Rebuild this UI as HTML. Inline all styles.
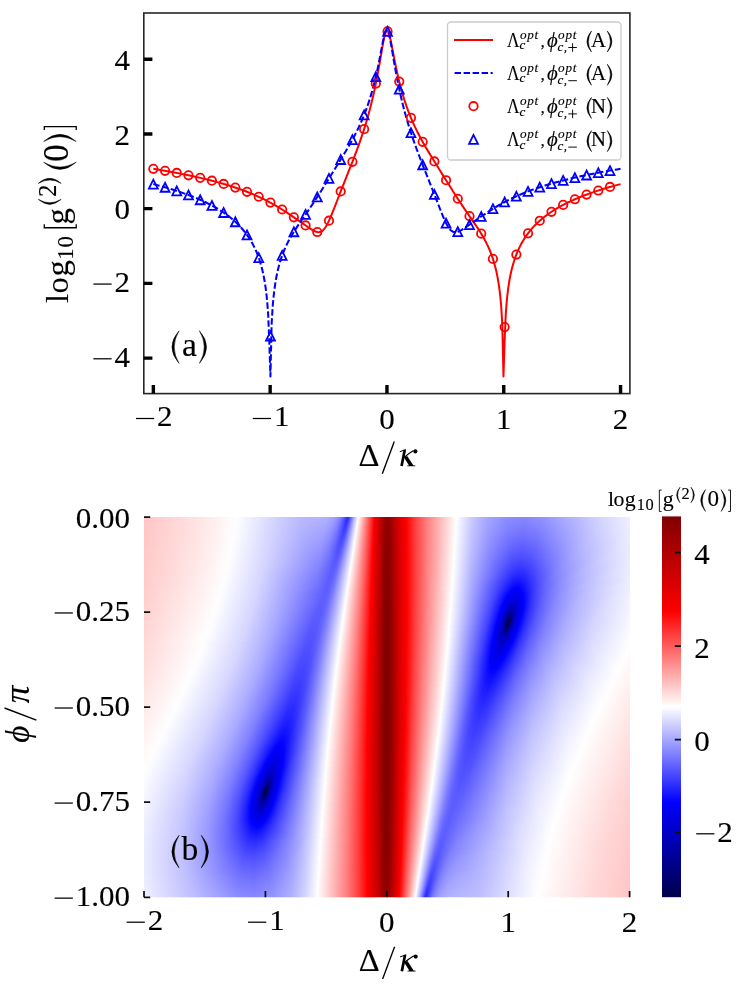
<!DOCTYPE html>
<html><head><meta charset="utf-8"><title>figure</title>
<style>
html,body{margin:0;padding:0;background:#fff}
#c{position:relative;width:747px;height:990px;overflow:hidden;background:#fff;font-family:"Liberation Serif",serif}
#hm{position:absolute;left:144px;top:517px;width:486px;height:381px;overflow:hidden}
#hm i{display:block;height:1px;width:486px}
svg{position:absolute;left:0;top:0;will-change:transform}
</style></head><body><div id="c"><div id="hm"><i style="background:linear-gradient(90deg,#ffc5c5 0px,#ffe6e6 60px,#fefeff 93px,#cbcbff 138.5px,#b8b8ff 159.5px,#b1b1ff 182px,#a2a2ff 189.5px,#8c8cff 194.5px,#7070ff 198px,#4949ff 201px,#2d2dff 203px,#2b2bff 204px,#3737ff 205px,#a5a5ff 209.5px,#eaeaff 213px,#fbfbff 214px,#fffafa 214.5px,#ff1d1d 228.5px,#ff0303 230px,#e00 232px,#9a0000 240.5px,#8f0000 243px,#960000 245.5px,#df0000 256px,#ff0101 262.5px,#ff3b3b 270.5px,#ff7c7c 282.5px,#fffcfc 311.5px,#fefeff 312.5px,#cacaff 327.5px,#a8a8ff 342.5px,#8e8eff 362.5px,#8787ff 380px,#9292ff 399px,#d7d7ff 459px,#f0f0ff 486px)"></i><i style="background:linear-gradient(90deg,#ffc5c5 0px,#ffe6e6 60px,#fefeff 92.5px,#cdcdff 136.5px,#b8b8ff 158.5px,#b0b0ff 182px,#a1a1ff 189.5px,#8a8aff 194.5px,#6d6dff 198px,#3e3eff 201.5px,#2d2dff 203px,#2e2eff 204px,#3d3dff 205px,#a9a9ff 209.5px,#f5f5ff 213.5px,#fefeff 214px,#ff2424 228px,#ff0202 230px,#b00 237px,#960000 241px,#8f0000 243.5px,#900 246px,#dc0000 255.5px,#ff0101 262.5px,#ff3b3b 270.5px,#ff7c7c 282.5px,#fffcfc 311.5px,#fcfcff 313px,#cacaff 327.5px,#a7a7ff 342.5px,#8d8dff 362.5px,#8585ff 379.5px,#9090ff 398px,#d6d6ff 458px,#efefff 486px)"></i><i style="background:linear-gradient(90deg,#ffc5c5 0px,#ffe7e7 60px,#fefeff 92.5px,#cdcdff 136px,#b8b8ff 158px,#aeaeff 182px,#9f9fff 189.5px,#8787ff 194.5px,#6969ff 198px,#3030ff 202.5px,#2e2eff 203.5px,#3a3aff 204.5px,#7474ff 207px,#b8b8ff 210px,#f8f8ff 213.5px,#fffefe 214px,#ff2323 228px,#ff0101 230px,#b00000 238px,#960000 241px,#8f0000 243.5px,#980000 246px,#dc0000 255.5px,#f00 262.5px,#ff3a3a 270.5px,#ff7c7c 282.5px,#fffcfc 311.5px,#fcfcff 313px,#c8c8ff 328px,#a5a5ff 343.5px,#8b8bff 363.5px,#8484ff 380.5px,#9191ff 399.5px,#d7d7ff 459.5px,#efefff 486px)"></i><i style="background:linear-gradient(90deg,#ffc5c5 0px,#ffe7e7 60px,#fefeff 92.5px,#cdcdff 136px,#b7b7ff 158px,#aeaeff 181.5px,#9f9fff 189px,#88f 194px,#6b6bff 197.5px,#33f 202px,#2f2fff 203px,#3737ff 204px,#5656ff 205.5px,#a7a7ff 209px,#f2f2ff 213px,#fbfbff 213.5px,#fffbfb 214px,#ff2323 228px,#f00 230px,#900 240.5px,#8f0000 243px,#950000 245.5px,#df0000 256px,#f00 262.5px,#ff3a3a 270.5px,#ff7c7c 282.5px,#fffefe 312px,#c7c7ff 328px,#a4a4ff 343.5px,#8a8aff 363.5px,#8383ff 380.5px,#8f8fff 399px,#d6d6ff 459px,#efefff 486px)"></i><i style="background:linear-gradient(90deg,#ffc6c6 0px,#ffe7e7 60px,#fefeff 92px,#cfcfff 134.5px,#b7b7ff 157.5px,#adadff 181.5px,#9d9dff 189px,#8686ff 194px,#6868ff 197.5px,#3636ff 201.5px,#3131ff 202.5px,#3636ff 203.5px,#5151ff 205px,#ababff 209px,#f5f5ff 213px,#fdfdff 213.5px,#fff1f1 214.5px,#ff2a2a 227.5px,#f00 230px,#900 240.5px,#8e0000 243px,#950000 245.5px,#df0000 256px,#f00 262.5px,#ff3a3a 270.5px,#ff7c7c 282.5px,#fff 312px,#c8c8ff 327.5px,#a5a5ff 343px,#8989ff 363px,#8282ff 379.5px,#8d8dff 397.5px,#d4d4ff 457.5px,#efefff 486px)"></i><i style="background:linear-gradient(90deg,#ffc6c6 0px,#ffe7e7 60px,#fefeff 92px,#ceceff 134.5px,#b7b7ff 157.5px,#acacff 181.5px,#9b9bff 189px,#8383ff 194px,#6565ff 197.5px,#3535ff 201.5px,#3232ff 202.5px,#3a3aff 203.5px,#5757ff 205px,#b0b0ff 209px,#f8f8ff 213px,#fffefe 213.5px,#ff2929 227.5px,#fe0000 230px,#900 240.5px,#8e0000 243px,#950000 245.5px,#df0000 256px,#f00 262.5px,#ff3a3a 270.5px,#ff7c7c 282.5px,#fff 312px,#c8c8ff 327.5px,#a4a4ff 343px,#88f 363px,#8181ff 379.5px,#8b8bff 397px,#d4d4ff 457px,#efefff 486px)"></i><i style="background:linear-gradient(90deg,#ffc6c6 0px,#ffe7e7 60px,#fefeff 92px,#cfcfff 134px,#b6b6ff 157.5px,#ababff 181px,#9b9bff 188.5px,#8484ff 193.5px,#6767ff 197px,#3939ff 201px,#3434ff 202px,#3939ff 203px,#5252ff 204.5px,#b3b3ff 209px,#fafaff 213px,#fffcfc 213.5px,#ff2828 227.5px,#fe0000 230px,#900 240.5px,#8e0000 243px,#950000 245.5px,#de0000 256px,#f00 262.5px,#ff3a3a 270.5px,#ff7c7c 282.5px,#fff 312px,#c9c9ff 327px,#a4a4ff 342.5px,#88f 362.5px,#7f7fff 379px,#8989ff 396.5px,#d3d3ff 456.5px,#efefff 486px)"></i><i style="background:linear-gradient(90deg,#ffc6c6 0px,#ffe7e7 60px,#fefeff 92px,#ceceff 134px,#b6b6ff 157.5px,#aaf 181px,#9a9aff 188.5px,#8282ff 193.5px,#6464ff 197px,#3838ff 201px,#3535ff 202px,#3d3dff 203px,#5858ff 204.5px,#b7b7ff 209px,#fdfdff 213px,#fff9f9 213.5px,#ff2727 227.5px,#fd0000 230px,#980000 240.5px,#8e0000 243px,#950000 245.5px,#de0000 256px,#f00 262.5px,#ff3a3a 270.5px,#ff7c7c 282.5px,#fffdfd 311.5px,#fdfdff 312.5px,#c7c7ff 327.5px,#a3a3ff 343px,#8686ff 363.5px,#7e7eff 379.5px,#8989ff 397px,#d3d3ff 457px,#eef 486px)"></i><i style="background:linear-gradient(90deg,#ffc6c6 0px,#ffe7e7 60px,#fefeff 91.5px,#cfcfff 133px,#b5b5ff 157.5px,#a9a9ff 181px,#9898ff 188.5px,#7f7fff 193.5px,#6161ff 197px,#3b3bff 200.5px,#3737ff 201.5px,#3c3cff 202.5px,#5353ff 204px,#bbf 209px,#fff 213px,#ff2626 227.5px,#ff0505 229.5px,#fd0000 230px,#980000 240.5px,#8e0000 243px,#940000 245.5px,#de0000 256px,#f00 262.5px,#ff3d3d 271px,#ff8181 283.5px,#fffdfd 311.5px,#fdfdff 312.5px,#c7c7ff 327.5px,#a2a2ff 343px,#8585ff 363.5px,#7d7dff 379.5px,#8787ff 396.5px,#d2d2ff 456.5px,#eef 486px)"></i><i style="background:linear-gradient(90deg,#ffc6c6 0px,#ffe7e7 60px,#fefeff 91.5px,#d0d0ff 132.5px,#b5b5ff 157.5px,#a8a8ff 180.5px,#9898ff 188px,#8080ff 193px,#5e5eff 197px,#3a3aff 200.5px,#3838ff 201.5px,#4040ff 202.5px,#5959ff 204px,#bfbfff 209px,#fafaff 212.5px,#fffdfd 213px,#ff2d2d 227px,#ff0404 229.5px,#f80000 230.5px,#980000 240.5px,#8d0000 243px,#940000 245.5px,#de0000 256px,#f00 262.5px,#ff3d3d 271px,#ff8181 283.5px,#fffefe 311.5px,#f8f8ff 313.5px,#c4c4ff 328.5px,#9f9fff 344.5px,#8383ff 364.5px,#7c7cff 380px,#8787ff 397px,#d3d3ff 457px,#eef 486px)"></i><i style="background:linear-gradient(90deg,#ffc6c6 0px,#ffe7e7 60px,#fefeff 91.5px,#cfcfff 132.5px,#b4b4ff 157.5px,#a7a7ff 180.5px,#9696ff 188px,#7e7eff 193px,#5b5bff 197px,#3d3dff 200px,#3b3bff 201.5px,#4c4cff 203px,#c2c2ff 209px,#fcfcff 212.5px,#fffafa 213px,#ff2c2c 227px,#ff0303 229.5px,#f30000 231px,#980000 240.5px,#8d0000 243px,#940000 245.5px,#de0000 256px,#f00 262.5px,#ff3d3d 271px,#ff8181 283.5px,#fffefe 311.5px,#eef 316px,#bebeff 330.5px,#99f 347.5px,#7f7fff 367px,#7b7bff 382.5px,#8a8aff 400.5px,#d1d1ff 455.5px,#eef 486px)"></i><i style="background:linear-gradient(90deg,#ffc6c6 0px,#ffe7e7 60px,#fefeff 91px,#d0d0ff 131.5px,#b4b4ff 157px,#a6a6ff 180.5px,#9494ff 188px,#7b7bff 193px,#5858ff 197px,#3c3cff 200px,#3e3eff 201.5px,#5151ff 203px,#c5c5ff 209px,#fefeff 212.5px,#f33 226.5px,#ff0202 229.5px,#c80000 235.5px,#970000 240.5px,#8d0000 243px,#940000 245.5px,#de0000 256px,#f00 262.5px,#ff4040 271.5px,#ff8383 284px,#fffefe 311.5px,#c4c4ff 328px,#9e9eff 344px,#8181ff 364.5px,#7979ff 380px,#8484ff 396.5px,#d1d1ff 456px,#eef 486px)"></i><i style="background:linear-gradient(90deg,#ffc6c6 0px,#ffe8e8 60px,#fefeff 91px,#d0d0ff 131.5px,#b3b3ff 157.5px,#a5a5ff 180px,#9595ff 187.5px,#7c7cff 192.5px,#5b5bff 196.5px,#3f3fff 199.5px,#3e3eff 201px,#4e4eff 202.5px,#c9c9ff 209px,#f9f9ff 212px,#fffdfd 212.5px,#ff3232 226.5px,#ff0202 229.5px,#c20000 236px,#970000 240.5px,#8d0000 243px,#940000 245.5px,#de0000 256px,#fe0000 262.5px,#ff4040 271.5px,#ff8383 284px,#fffefe 311.5px,#c4c4ff 328px,#9e9eff 344px,#7f7fff 364.5px,#7878ff 380px,#8383ff 396.5px,#d0d0ff 455px,#eef 486px)"></i><i style="background:linear-gradient(90deg,#ffc6c6 0px,#ffe8e8 60px,#fefeff 91px,#d1d1ff 131px,#b3b3ff 157.5px,#a4a4ff 180px,#9393ff 187.5px,#7a7aff 192.5px,#5353ff 197px,#3f3fff 199.5px,#4040ff 201px,#5353ff 202.5px,#ccf 209px,#fcfcff 212px,#fffbfb 212.5px,#ff3232 226.5px,#ff0101 229.5px,#bd0000 236.5px,#970000 240.5px,#8d0000 243px,#930000 245.5px,#de0000 256px,#fe0000 262.5px,#ff4040 271.5px,#ff8383 284px,#fffefe 311.5px,#c5c5ff 327.5px,#9e9eff 343.5px,#7f7fff 364px,#77f 379px,#8080ff 395px,#cfcfff 454.5px,#eef 486px)"></i><i style="background:linear-gradient(90deg,#ffc6c6 0px,#ffe8e8 60px,#fefeff 90.5px,#d1d1ff 130.5px,#b2b2ff 157.5px,#a3a3ff 180px,#9191ff 187.5px,#7878ff 192.5px,#4141ff 199px,#4040ff 200.5px,#5050ff 202px,#cfcfff 209px,#fefeff 212px,#ff4040 225.5px,#f00 229.5px,#b20000 237.5px,#930000 241px,#8c0000 243.5px,#960000 246px,#db0000 255.5px,#fe0000 262.5px,#ff4040 271.5px,#ff8383 284px,#fff 311.5px,#c5c5ff 327.5px,#9d9dff 343.5px,#7e7eff 364px,#7575ff 379px,#7f7fff 394.5px,#ceceff 454px,#ededff 486px)"></i><i style="background:linear-gradient(90deg,#ffc6c6 0px,#ffe8e8 60px,#fefeff 90.5px,#d1d1ff 130px,#b2b2ff 157px,#a3a3ff 179.5px,#9191ff 187px,#7979ff 192px,#4343ff 198.5px,#4040ff 200px,#4d4dff 201.5px,#8282ff 204.5px,#dadaff 209.5px,#fffefe 212px,#ff3737 226px,#f00 229.5px,#b20000 237.5px,#930000 241px,#8c0000 243.5px,#960000 246px,#db0000 255.5px,#fe0000 262.5px,#ff4040 271.5px,#ff8383 284px,#fff 311.5px,#c6c6ff 327px,#9e9eff 343px,#7d7dff 363.5px,#7474ff 378.5px,#7d7dff 394px,#cdcdff 453px,#ededff 486px)"></i><i style="background:linear-gradient(90deg,#ffc6c6 0px,#ffe8e8 60px,#fefeff 90.5px,#d1d1ff 130px,#b1b1ff 157.5px,#a2a2ff 179.5px,#9090ff 187px,#7676ff 192px,#4343ff 198.5px,#4343ff 200px,#5252ff 201.5px,#d5d5ff 209px,#fbfbff 211.5px,#fffcfc 212px,#ff3636 226px,#fe0000 229.5px,#b20000 237.5px,#930000 241px,#8c0000 243.5px,#960000 246px,#da0000 255.5px,#fe0000 262.5px,#ff4343 272px,#f88 285px,#fff 311.5px,#c5c5ff 327px,#9d9dff 343px,#7c7cff 363.5px,#7272ff 378.5px,#7b7bff 393.5px,#ccf 452.5px,#ededff 486px)"></i><i style="background:linear-gradient(90deg,#ffc6c6 0px,#ffe8e8 60px,#fefeff 90px,#d1d1ff 129.5px,#b1b1ff 157.5px,#a0a0ff 179.5px,#8e8eff 187px,#7474ff 192px,#4545ff 198px,#4343ff 199.5px,#4f4fff 201px,#8181ff 204px,#d8d8ff 209px,#fdfdff 211.5px,#ffebeb 213px,#ff3d3d 225.5px,#fe0000 229.5px,#b10000 237.5px,#930000 241px,#8c0000 243.5px,#960000 246px,#da0000 255.5px,#fe0000 262.5px,#ff4343 272px,#f88 285px,#fff 311.5px,#c5c5ff 327px,#9d9dff 343px,#7b7bff 363.5px,#7171ff 378px,#7979ff 392.5px,#cbcbff 452px,#ededff 486px)"></i><i style="background:linear-gradient(90deg,#ffc6c6 0px,#ffe8e8 60px,#fefeff 90px,#d2d2ff 129px,#b0b0ff 157.5px,#a0a0ff 179px,#8e8eff 186.5px,#7575ff 191.5px,#44f 198px,#4545ff 199.5px,#5353ff 201px,#a1a1ff 205.5px,#f8f8ff 211px,#fffefe 211.5px,#ff3c3c 225.5px,#fe0000 229.5px,#b10000 237.5px,#930000 241px,#8c0000 243.5px,#960000 246px,#da0000 255.5px,#fe0000 262.5px,#ff4343 272px,#f88 285px,#fefeff 311.5px,#c5c5ff 327px,#9c9cff 343px,#7979ff 364px,#7070ff 378.5px,#7878ff 393px,#c9c9ff 450.5px,#ededff 486px)"></i><i style="background:linear-gradient(90deg,#ffc7c7 0px,#ffe8e8 60px,#fefeff 90px,#d2d2ff 129px,#b0b0ff 157.5px,#9f9fff 179px,#8c8cff 186.5px,#7373ff 191.5px,#4646ff 197.5px,#4545ff 199px,#5151ff 200.5px,#8181ff 203.5px,#ddf 209px,#fbfbff 211px,#fffcfc 211.5px,#ff3b3b 225.5px,#ff0505 229px,#fd0000 229.5px,#b10000 237.5px,#920000 241px,#8c0000 243.5px,#950000 246px,#da0000 255.5px,#fe0000 262.5px,#ff4343 272px,#f88 285px,#fffefe 311px,#f4f4ff 314px,#bebeff 329px,#9595ff 346px,#7676ff 366px,#6e6eff 380px,#7a7aff 395px,#c6c6ff 448px,#ededff 486px)"></i><i style="background:linear-gradient(90deg,#ffc7c7 0px,#ffe8e8 60px,#fefeff 89.5px,#d2d2ff 128.5px,#afafff 157.5px,#9e9eff 179px,#8b8bff 186.5px,#7171ff 191.5px,#4848ff 197px,#4646ff 198.5px,#4f4fff 200px,#7474ff 202.5px,#d8d8ff 208.5px,#fdfdff 211px,#fff3f3 212px,#ff3a3a 225.5px,#ff0404 229px,#f90000 230px,#950000 240.5px,#8b0000 243px,#920000 245.5px,#d00 256px,#ff0202 263px,#ff3d3d 271px,#ff8181 283.5px,#fffefe 311px,#c1c1ff 328px,#9797ff 344.5px,#7575ff 365px,#6d6dff 379px,#77f 393.5px,#c6c6ff 448px,#ededff 486px)"></i><i style="background:linear-gradient(90deg,#ffc7c7 0px,#ffe9e9 60px,#fefeff 89.5px,#d2d2ff 128px,#aeaeff 157.5px,#9d9dff 178.5px,#8b8bff 186px,#6f6fff 191.5px,#4848ff 197px,#4747ff 198.5px,#5353ff 200px,#8181ff 203px,#dbdbff 208.5px,#fff 211px,#ff3939 225.5px,#ff0303 229px,#f40000 230.5px,#950000 240.5px,#8b0000 243px,#920000 245.5px,#d00 256px,#ff0202 263px,#ff3c3c 271px,#ff7f7f 283px,#fffefe 311px,#c0c0ff 328px,#9797ff 344.5px,#7474ff 365px,#6b6bff 379px,#7575ff 393px,#c4c4ff 447px,#ededff 486px)"></i><i style="background:linear-gradient(90deg,#ffc7c7 0px,#ffe9e9 60px,#fefeff 89px,#d3d3ff 127.5px,#aeaeff 157.5px,#9c9cff 178.5px,#8989ff 186px,#6d6dff 191.5px,#4a4aff 196.5px,#4848ff 198px,#5151ff 199.5px,#7474ff 202px,#ddf 208.5px,#fafaff 210.5px,#fffdfd 211px,#ff4040 225px,#ff0202 229px,#ca0000 235px,#950000 240.5px,#8b0000 243px,#920000 245.5px,#d00 256px,#ff0202 263px,#ff3c3c 271px,#ff7f7f 283px,#fffefe 311px,#c1c1ff 327.5px,#9797ff 344px,#7373ff 365px,#6a6aff 378.5px,#7373ff 392.5px,#c3c3ff 446.5px,#ededff 486px)"></i><i style="background:linear-gradient(90deg,#ffc7c7 0px,#ffe9e9 60px,#fefeff 89px,#d2d2ff 127.5px,#adadff 157.5px,#9b9bff 178.5px,#88f 186px,#6b6bff 191.5px,#4a4aff 196.5px,#4a4aff 198px,#55f 199.5px,#8181ff 202.5px,#e0e0ff 208.5px,#fcfcff 210.5px,#fffbfb 211px,#ff3f3f 225px,#ff0202 229px,#c40000 235.5px,#950000 240.5px,#8b0000 243px,#920000 245.5px,#d00 256px,#ff0202 263px,#ff3c3c 271px,#ff7f7f 283px,#fff 311px,#c1c1ff 327.5px,#9696ff 344px,#7272ff 365px,#6868ff 378.5px,#7171ff 392px,#c2c2ff 445.5px,#ededff 486px)"></i><i style="background:linear-gradient(90deg,#ffc7c7 0px,#ffe9e9 60px,#fefeff 89px,#d2d2ff 127.5px,#acacff 158px,#9a9aff 178.5px,#8686ff 186px,#6969ff 191.5px,#4b4bff 196px,#4c4cff 198px,#5e5eff 200px,#eaeaff 209px,#fefeff 210.5px,#ff4545 224.5px,#ff0101 229px,#bf0000 236px,#950000 240.5px,#8b0000 243px,#920000 245.5px,#d00 256px,#ff0202 263px,#ff3c3c 271px,#ff7f7f 283px,#fff 311px,#c2c2ff 327px,#9797ff 343.5px,#7171ff 364.5px,#6767ff 378px,#6f6fff 391.5px,#c0c0ff 444.5px,#ededff 486px)"></i><i style="background:linear-gradient(90deg,#ffc7c7 0px,#ffe9e9 60px,#fefeff 88.5px,#d3d3ff 126.5px,#acacff 158px,#9a9aff 178px,#8686ff 185.5px,#6a6aff 191px,#4d4dff 195.5px,#4c4cff 197.5px,#5c5cff 199.5px,#a9a9ff 204.5px,#fafaff 210px,#fffdfd 210.5px,#f44 224.5px,#f00 229px,#ba0000 236.5px,#940000 240.5px,#8a0000 243px,#910000 245.5px,#d00 256px,#ff0202 263px,#ff3c3c 271px,#ff7f7f 283px,#fff 311px,#c2c2ff 327px,#9696ff 343.5px,#7070ff 364.5px,#6565ff 377.5px,#6d6dff 390.5px,#c0c0ff 444.5px,#ececff 486px)"></i><i style="background:linear-gradient(90deg,#ffc7c7 0px,#ffe9e9 60px,#fefeff 88.5px,#d3d3ff 126.5px,#ababff 158px,#99f 178px,#8585ff 185.5px,#6868ff 191px,#4d4dff 195.5px,#4e4eff 197.5px,#6060ff 199.5px,#eef 209px,#fcfcff 210px,#fffbfb 210.5px,#f44 224.5px,#f00 229px,#b90000 236.5px,#940000 240.5px,#8a0000 243px,#910000 245.5px,#d00 256px,#ff0202 263px,#ff3c3c 271px,#ff7f7f 283px,#fff 311px,#c1c1ff 327px,#9595ff 343.5px,#6e6eff 365px,#6464ff 378px,#6c6cff 391px,#bebeff 443px,#ebebff 484px,#ececff 486px)"></i><i style="background:linear-gradient(90deg,#ffc7c7 0px,#ffe9e9 60px,#fefeff 88.5px,#d3d3ff 126.5px,#ababff 158px,#9797ff 178px,#8383ff 185.5px,#6363ff 191.5px,#4d4dff 195.5px,#5050ff 197.5px,#6363ff 199.5px,#f0f0ff 209px,#fefeff 210px,#ff5151 223.5px,#fe0000 229px,#b90000 236.5px,#940000 240.5px,#8a0000 243px,#910000 245.5px,#dc0000 256px,#ff0202 263px,#ff3c3c 271px,#ff7f7f 283px,#fffdfd 310.5px,#fafaff 312px,#bfbfff 327.5px,#9292ff 344.5px,#6c6cff 365.5px,#6262ff 378px,#6b6bff 391px,#bcbcff 441.5px,#e8e8ff 481.5px,#ececff 486px)"></i><i style="background:linear-gradient(90deg,#ffc7c7 0px,#ffe9e9 60px,#fefeff 88px,#d3d3ff 126px,#aaf 158.5px,#9797ff 177.5px,#8383ff 185px,#6464ff 191px,#4e4eff 195px,#4f4fff 197px,#6161ff 199px,#f3f3ff 209px,#fffefe 210px,#ff4949 224px,#fe0000 229px,#b90000 236.5px,#940000 240.5px,#8a0000 243px,#910000 245.5px,#dc0000 256px,#ff0101 263px,#ff3c3c 271px,#ff7f7f 283px,#fffefe 310.5px,#efefff 314.5px,#b9b9ff 329.5px,#8a8aff 348px,#6868ff 367.5px,#6161ff 379.5px,#6c6cff 392.5px,#b9b9ff 439.5px,#e5e5ff 478.5px,#ececff 486px)"></i><i style="background:linear-gradient(90deg,#ffc7c7 0px,#ffeaea 60px,#fefeff 88px,#d3d3ff 125.5px,#a9a9ff 158.5px,#9696ff 177.5px,#8282ff 185px,#5f5fff 191.5px,#4e4eff 195px,#5252ff 197px,#6464ff 199px,#f5f5ff 209px,#fbfbff 209.5px,#fffcfc 210px,#ff4848 224px,#fe0000 229px,#b90000 236.5px,#940000 240.5px,#8a0000 243px,#910000 245.5px,#dc0000 256px,#ff0101 263px,#ff3c3c 271px,#ff7f7f 283px,#fffefe 310.5px,#bdbdff 328px,#8f8fff 345.5px,#6868ff 366px,#5f5fff 378.5px,#6868ff 391px,#b9b9ff 439.5px,#e5e5ff 478.5px,#ececff 486px)"></i><i style="background:linear-gradient(90deg,#ffc7c7 0px,#ffeaea 60px,#fefeff 87.5px,#d4d4ff 125px,#a8a8ff 158.5px,#9595ff 177.5px,#8080ff 185px,#5b5bff 192px,#4e4eff 195px,#5454ff 197px,#6f6fff 199.5px,#f0f0ff 208.5px,#fdfdff 209.5px,#ffeded 211px,#ff4747 224px,#ff0505 228.5px,#fd0000 229px,#b80000 236.5px,#930000 240.5px,#890000 243px,#910000 245.5px,#dc0000 256px,#ff0101 263px,#ff3c3c 271px,#ff7f7f 283px,#fffefe 310.5px,#bcbcff 328px,#8e8eff 345.5px,#6767ff 366px,#5d5dff 378px,#66f 390px,#b8b8ff 439px,#e4e4ff 477.5px,#ececff 486px)"></i><i style="background:linear-gradient(90deg,#ffc8c8 0px,#ffeaea 60px,#fefeff 87.5px,#d3d3ff 125px,#a7a7ff 159px,#9494ff 177.5px,#7e7eff 185px,#5050ff 194px,#5151ff 196px,#6060ff 198px,#9797ff 202px,#f9f9ff 209px,#fff 209.5px,#ff4646 224px,#ff0404 228.5px,#f90000 229.5px,#b30000 237px,#900000 241px,#890000 243.5px,#940000 246px,#d90000 255.5px,#ff0101 263px,#ff3c3c 271px,#ff7f7f 283px,#fffefe 310.5px,#bebeff 327.5px,#8e8eff 345px,#6565ff 366px,#5c5cff 378px,#6464ff 390px,#b6b6ff 437.5px,#e2e2ff 475px,#ececff 486px)"></i><i style="background:linear-gradient(90deg,#ffc8c8 0px,#ffeaea 60px,#fefeff 87.5px,#d3d3ff 125px,#a7a7ff 159px,#9393ff 177px,#7f7fff 184.5px,#5151ff 194px,#5353ff 196px,#6363ff 198px,#b0b0ff 203.5px,#fbfbff 209px,#fffdfd 209.5px,#ff4c4c 223.5px,#ff0303 228.5px,#f50000 230px,#930000 240.5px,#890000 243px,#900000 245.5px,#dc0000 256px,#ff0101 263px,#ff3c3c 271px,#ff7f7f 283px,#fff 310.5px,#bfbfff 327px,#8f8fff 344.5px,#6464ff 366px,#5a5aff 378px,#6363ff 390px,#b4b4ff 436.5px,#e0e0ff 473.5px,#ececff 486px)"></i><i style="background:linear-gradient(90deg,#ffc8c8 0px,#ffeaea 60px,#fefeff 87px,#d3d3ff 124.5px,#a6a6ff 159px,#9292ff 177px,#7d7dff 184.5px,#5252ff 193.5px,#5353ff 195.5px,#6161ff 197.5px,#9696ff 201.5px,#fdfdff 209px,#fff4f4 210px,#ff4b4b 223.5px,#ff0303 228.5px,#e70000 231.5px,#930000 240.5px,#890000 243px,#900000 245.5px,#dc0000 256px,#ff0101 263px,#ff3c3c 271px,#ff7f7f 283px,#fff 310.5px,#bebeff 327px,#8e8eff 344.5px,#6262ff 366px,#5858ff 377.5px,#6060ff 389px,#b3b3ff 436px,#dfdfff 472.5px,#ececff 486px)"></i><i style="background:linear-gradient(90deg,#ffc8c8 0px,#ffeaea 60px,#fefeff 87px,#d3d3ff 124.5px,#a5a5ff 159.5px,#9191ff 177px,#7c7cff 184.5px,#5353ff 193px,#5353ff 195px,#5f5fff 197px,#8b8bff 200.5px,#f9f9ff 208.5px,#fff 209px,#ff4a4a 223.5px,#ff0202 228.5px,#cb0000 234.5px,#930000 240.5px,#890000 243px,#900000 245.5px,#dc0000 256px,#ff0101 263px,#ff3c3c 271px,#ff8080 283px,#fff 310.5px,#bebeff 327px,#8d8dff 344.5px,#6161ff 366px,#5757ff 377.5px,#5f5fff 389px,#b1b1ff 435px,#dedeff 471px,#ececff 486px)"></i><i style="background:linear-gradient(90deg,#ffc8c8 0px,#ffeaea 60px,#fefeff 86.5px,#d4d4ff 123.5px,#a4a4ff 159.5px,#9090ff 177px,#7a7aff 184.5px,#5353ff 193px,#5454ff 195px,#6262ff 197px,#9696ff 201px,#fbfbff 208.5px,#fffdfd 209px,#ff5050 223px,#ff0101 228.5px,#c60000 235px,#920000 240.5px,#890000 243px,#900000 245.5px,#dc0000 256px,#ff0101 263px,#ff3c3c 271px,#ff8080 283px,#fefeff 310.5px,#bebeff 327px,#8b8bff 345px,#5e5eff 366.5px,#55f 377.5px,#5d5dff 388.5px,#b0b0ff 434px,#dcdcff 469.5px,#ececff 486px)"></i><i style="background:linear-gradient(90deg,#ffc8c8 0px,#ffebeb 60px,#fefeff 86.5px,#d4d4ff 123.5px,#a3a3ff 160px,#8f8fff 177px,#7979ff 184.5px,#5454ff 192.5px,#5656ff 195px,#6b6bff 197.5px,#fdfdff 208.5px,#fffbfb 209px,#ff4f4f 223px,#ff0101 228.5px,#c10000 235.5px,#920000 240.5px,#800 243px,#900000 245.5px,#dc0000 256px,#ff0101 263px,#ff3c3c 271px,#ff8080 283px,#fffefe 310px,#f8f8ff 312px,#babaff 328px,#8787ff 346.5px,#5c5cff 367px,#5353ff 378px,#5c5cff 389px,#adadff 432.5px,#dadaff 467px,#ececff 486px)"></i><i style="background:linear-gradient(90deg,#ffc8c8 0px,#ffebeb 60px,#fefeff 86px,#d4d4ff 123px,#a3a3ff 160px,#8e8eff 177px,#77f 184.5px,#55f 192px,#5656ff 194.5px,#6868ff 197px,#fefeff 208.5px,#f55 222.5px,#f00 228.5px,#c10000 235.5px,#920000 240.5px,#800 243px,#900000 245.5px,#dc0000 256px,#ff0101 263px,#ff3c3c 271px,#ff8080 283px,#fffefe 310px,#b9b9ff 328px,#8484ff 347px,#5a5aff 367px,#5151ff 378px,#5b5bff 389px,#ababff 431.5px,#d8d8ff 465.5px,#ececff 486px)"></i><i style="background:linear-gradient(90deg,#ffc8c8 0px,#ffebeb 60px,#fefeff 86px,#d4d4ff 123px,#a1a1ff 160.5px,#8d8dff 176.5px,#7676ff 184.5px,#55f 192px,#5757ff 194.5px,#6b6bff 197px,#fafaff 208px,#fffefe 208.5px,#ff5454 222.5px,#f00 228.5px,#c10000 235.5px,#920000 240.5px,#800 243px,#8f0000 245.5px,#dc0000 256px,#ff0101 263px,#ff3c3c 271px,#ff8080 283px,#fffefe 310px,#b9b9ff 328px,#8484ff 347px,#5858ff 367.5px,#5050ff 378px,#5a5aff 389px,#a9a9ff 430px,#d6d6ff 463.5px,#ececff 486px)"></i><i style="background:linear-gradient(90deg,#ffc8c8 0px,#ffebeb 60px,#fefeff 86px,#d4d4ff 123px,#a1a1ff 160.5px,#8c8cff 176.5px,#7474ff 184.5px,#5656ff 191.5px,#5757ff 194px,#6969ff 196.5px,#b6b6ff 202.5px,#fcfcff 208px,#fffcfc 208.5px,#ff5353 222.5px,#fe0000 228.5px,#c00000 235.5px,#920000 240.5px,#800 243px,#8f0000 245.5px,#dc0000 256px,#ff0101 263px,#ff3c3c 271px,#ff8080 283px,#fffefe 310px,#babaff 327.5px,#8484ff 346.5px,#5757ff 367px,#4e4eff 377.5px,#5757ff 388px,#a8a8ff 429.5px,#d5d5ff 462.5px,#ececff 486px)"></i><i style="background:linear-gradient(90deg,#ffc8c8 0px,#ffebeb 60px,#fefeff 85.5px,#d4d4ff 122.5px,#9f9fff 161px,#8b8bff 176.5px,#7373ff 184.5px,#5656ff 191.5px,#5959ff 194px,#6c6cff 196.5px,#fefeff 208px,#f66 221px,#ff0d0d 227.5px,#fe0000 228.5px,#c00000 235.5px,#920000 240.5px,#800 243px,#8f0000 245.5px,#db0000 256px,#f00 263px,#ff3c3c 271px,#ff8080 283px,#fff 310px,#bbf 327px,#8484ff 346px,#55f 367px,#4c4cff 377px,#5454ff 387px,#a7a7ff 429px,#d4d4ff 461.5px,#ececff 486px)"></i><i style="background:linear-gradient(90deg,#ffc9c9 0px,#ffebeb 60px,#fefeff 85.5px,#d4d4ff 122.5px,#9f9fff 161px,#8a8aff 176.5px,#7171ff 184.5px,#5757ff 191px,#5858ff 193.5px,#6a6aff 196px,#aeaeff 201.5px,#fffefe 208px,#ff5252 222.5px,#fe0000 228.5px,#c00000 235.5px,#910000 240.5px,#800 243px,#8f0000 245.5px,#db0000 256px,#f00 263px,#ff3c3c 271px,#ff8080 283px,#fff 310px,#bbf 327px,#8383ff 346px,#5353ff 367px,#4a4aff 377px,#5252ff 387px,#a5a5ff 428px,#d2d2ff 460px,#ececff 486px)"></i><i style="background:linear-gradient(90deg,#ffc9c9 0px,#ffecec 60px,#fefeff 85px,#d4d4ff 122px,#9e9eff 161.5px,#8989ff 176.5px,#7070ff 184.5px,#5757ff 191px,#5a5aff 193.5px,#6d6dff 196px,#fcfcff 207.5px,#fffcfc 208px,#ff5757 222px,#ff0404 228px,#f90000 229px,#b00 236px,#910000 240.5px,#800 243px,#8f0000 245.5px,#db0000 256px,#f00 263px,#ff3c3c 271px,#ff8080 283px,#fff 310px,#babaff 327px,#8181ff 346.5px,#5151ff 367.5px,#4848ff 377.5px,#5151ff 387.5px,#a2a2ff 426.5px,#cfcfff 457.5px,#ececff 486px)"></i><i style="background:linear-gradient(90deg,#ffc9c9 0px,#ffecec 60px,#fefeff 85px,#d4d4ff 121.5px,#9c9cff 162px,#88f 176.5px,#6e6eff 184.5px,#5757ff 190.5px,#5959ff 193px,#6b6bff 195.5px,#adadff 201px,#fdfdff 207.5px,#ffefef 209px,#ff5656 222px,#ff0404 228px,#f90000 229px,#ba0000 236px,#910000 240.5px,#870000 243px,#8f0000 245.5px,#db0000 256px,#f00 263px,#ff3c3c 271px,#ff8080 283px,#fefeff 310px,#babaff 327px,#8080ff 346.5px,#4f4fff 367.5px,#4646ff 377px,#4f4fff 387px,#a0a0ff 425.5px,#cdcdff 456px,#ececff 486px)"></i><i style="background:linear-gradient(90deg,#ffc9c9 0px,#ffecec 60px,#fefeff 84.5px,#d5d5ff 121px,#9b9bff 162.5px,#8686ff 176.5px,#6d6dff 184.5px,#5757ff 190.5px,#5b5bff 193px,#6d6dff 195.5px,#fff 207.5px,#ff5656 222px,#ff0303 228px,#f50000 229.5px,#b00000 237px,#8e0000 241px,#870000 243.5px,#920000 246px,#d80000 255.5px,#f00 263px,#ff3c3c 271px,#ff8080 283px,#fffefe 309.5px,#f8f8ff 311.5px,#b6b6ff 328px,#77f 349.5px,#4c4cff 368px,#44f 377.5px,#4f4fff 387.5px,#9e9eff 424px,#cbcbff 454px,#ececff 486px)"></i><i style="background:linear-gradient(90deg,#ffc9c9 0px,#ffecec 60px,#fefeff 84.5px,#d5d5ff 121px,#9a9aff 163px,#8484ff 177px,#6767ff 185.5px,#5858ff 190px,#5b5bff 192.5px,#6b6bff 195px,#a6a6ff 200px,#fbfbff 207px,#fffdfd 207.5px,#ff5b5b 221.5px,#ff0202 228px,#d70000 233px,#910000 240.5px,#870000 243px,#8f0000 245.5px,#d80000 255.5px,#f00 263px,#ff3c3c 271px,#ff8080 283px,#fffefe 309.5px,#b5b5ff 328px,#7575ff 350px,#4949ff 368.5px,#4242ff 377.5px,#4c4cff 387px,#9c9cff 423px,#c8c8ff 452px,#ededff 486px)"></i><i style="background:linear-gradient(90deg,#ffc9c9 0px,#ffecec 60px,#fefeff 84.5px,#d4d4ff 121px,#9898ff 163.5px,#8383ff 177px,#6464ff 186px,#5858ff 190px,#5c5cff 192.5px,#6e6eff 195px,#bbf 201.5px,#fdfdff 207px,#fff6f6 208px,#ff5a5a 221.5px,#ff0202 228px,#cd0000 234px,#900000 240.5px,#870000 243px,#8e0000 245.5px,#d80000 255.5px,#f00 263px,#ff3c3c 271px,#ff8181 283px,#fffefe 309.5px,#b5b5ff 328px,#7373ff 350.5px,#4747ff 368.5px,#4040ff 377.5px,#4b4bff 387px,#9a9aff 422px,#c6c6ff 450.5px,#ededff 486px)"></i><i style="background:linear-gradient(90deg,#ffc9c9 0px,#ffecec 60px,#fefeff 84px,#d5d5ff 120.5px,#9797ff 164px,#8282ff 177px,#5959ff 189.5px,#5c5cff 192px,#6c6cff 194.5px,#a5a5ff 199.5px,#fff 207px,#ff6060 221px,#ff0909 227.5px,#ff0101 228px,#c80000 234.5px,#900000 240.5px,#870000 243px,#8e0000 245.5px,#d80000 255.5px,#f00 263px,#ff3c3c 271px,#ff8181 283px,#fffefe 309.5px,#b6b6ff 327.5px,#7474ff 349.5px,#4646ff 368px,#3e3eff 377px,#4747ff 386px,#9898ff 421.5px,#c5c5ff 449.5px,#ededff 486px)"></i><i style="background:linear-gradient(90deg,#ffc9c9 0px,#ffeded 60px,#fefeff 84px,#d4d4ff 120.5px,#9696ff 164.5px,#8080ff 177px,#5959ff 189px,#5b5bff 191.5px,#6a6aff 194px,#9b9bff 198.5px,#fbfbff 206.5px,#fffefe 207px,#ff5959 221.5px,#ff0101 228px,#c30000 235px,#900000 240.5px,#870000 243px,#8e0000 245.5px,#d80000 255.5px,#f00 263px,#ff3c3c 271px,#ff8181 283px,#fff 309.5px,#b7b7ff 327px,#7676ff 348.5px,#44f 368px,#3c3cff 376.5px,#4545ff 385.5px,#9696ff 420.5px,#c3c3ff 448px,#ededff 486px)"></i><i style="background:linear-gradient(90deg,#ffcaca 0px,#ffeded 60px,#fefeff 83.5px,#d5d5ff 120px,#9393ff 166px,#7d7dff 178px,#5959ff 189px,#5d5dff 191.5px,#7171ff 194.5px,#fdfdff 206.5px,#fffcfc 207px,#ff5e5e 221px,#ff0707 227.5px,#f00 228px,#c30000 235px,#900000 240.5px,#860000 243px,#8e0000 245.5px,#d80000 255.5px,#f00 263px,#ff3c3c 271px,#ff8181 283px,#fff 309.5px,#b7b7ff 327px,#7272ff 349.5px,#4141ff 368.5px,#3939ff 377px,#44f 386px,#9393ff 419px,#c0c0ff 446px,#ebebff 484px,#ededff 486px)"></i><i style="background:linear-gradient(90deg,#ffcaca 0px,#ffeded 60px,#fefeff 83.5px,#d4d4ff 120px,#8383ff 175px,#6363ff 185px,#5a5aff 189px,#5e5eff 191.5px,#7474ff 194.5px,#fefeff 206.5px,#ff6969 220px,#ff0e0e 227px,#f00 228px,#c30000 235px,#900000 240.5px,#860000 243px,#8e0000 245.5px,#d80000 255.5px,#f00 263px,#ff3c3c 271px,#ff8181 283px,#fff 309.5px,#b6b6ff 327px,#7070ff 350px,#3f3fff 368.5px,#3737ff 376.5px,#4141ff 385px,#9292ff 418.5px,#bfbfff 445px,#eaeaff 482.5px,#ededff 486px)"></i><i style="background:linear-gradient(90deg,#ffcaca 0px,#ffeded 60px,#fefeff 83px,#d5d5ff 119.5px,#8282ff 175px,#5a5aff 188.5px,#6060ff 191.5px,#77f 194.5px,#fffefe 206.5px,#ff5c5c 221px,#fe0000 228px,#c30000 235px,#900000 240.5px,#860000 243px,#8e0000 245.5px,#d80000 255.5px,#f00 263px,#ff3c3c 271px,#ff8181 283px,#fefeff 309.5px,#b6b6ff 327px,#6a6aff 351.5px,#3d3dff 368.5px,#3535ff 376.5px,#3f3fff 385px,#8f8fff 417px,#bcbcff 443px,#e7e7ff 479.5px,#ededff 486px)"></i><i style="background:linear-gradient(90deg,#ffcaca 0px,#ffeded 60px,#fefeff 83px,#d5d5ff 119px,#8282ff 174.5px,#5a5aff 188px,#5f5fff 191px,#7474ff 194px,#fcfcff 206px,#fffcfc 206.5px,#ff5b5b 221px,#fe0000 228px,#c20000 235px,#8f0000 240.5px,#860000 243px,#8e0000 245.5px,#d80000 255.5px,#f00 263px,#ff3c3c 271px,#ff8181 283px,#fffefe 309px,#f7f7ff 311px,#b2b2ff 328px,#5151ff 359.5px,#3636ff 371px,#3434ff 378.5px,#4545ff 388px,#8b8bff 415px,#b8b8ff 440px,#e3e3ff 475px,#ededff 486px)"></i><i style="background:linear-gradient(90deg,#ffcaca 0px,#ffeded 60px,#fefeff 82.5px,#d5d5ff 119px,#8080ff 174.5px,#5b5bff 187.5px,#5e5eff 190.5px,#7272ff 193.5px,#c0c0ff 200.5px,#fefeff 206px,#ffc5c5 211.5px,#ff4e4e 222px,#fe0000 228px,#c20000 235px,#8f0000 240.5px,#860000 243px,#8e0000 245.5px,#d80000 255.5px,#f00 263px,#ff3c3c 271px,#ff8181 283px,#fffefe 309px,#afafff 328.5px,#44f 363.5px,#3232ff 372.5px,#33f 380px,#4b4bff 391px,#8989ff 414.5px,#b7b7ff 439px,#e1e1ff 473.5px,#ededff 486px)"></i><i style="background:linear-gradient(90deg,#ffcaca 0px,#fee 60px,#fefeff 82.5px,#d5d5ff 118.5px,#7f7fff 174.5px,#5b5bff 187.5px,#6060ff 190.5px,#7575ff 193.5px,#fff 206px,#ff6060 220.5px,#ff0c0c 227px,#fe0000 228px,#c20000 235px,#8f0000 240.5px,#860000 243px,#8d0000 245.5px,#d80000 255.5px,#f00 263px,#ff3c3c 271px,#ff8181 283px,#fffefe 309px,#b1b1ff 328px,#4141ff 364px,#2f2fff 373px,#3131ff 380px,#4a4aff 391px,#8787ff 413.5px,#b4b4ff 437.5px,#dfdfff 471.5px,#ededff 486px)"></i><i style="background:linear-gradient(90deg,#ffcaca 0px,#fee 60px,#fefeff 82px,#d5d5ff 118px,#7f7fff 174px,#5b5bff 187px,#5f5fff 190px,#7373ff 193px,#bfbfff 200px,#fcfcff 205.5px,#fffdfd 206px,#ff5f5f 220.5px,#ff0b0b 227px,#fd0000 228px,#c20000 235px,#8f0000 240.5px,#860000 243px,#8d0000 245.5px,#d70000 255.5px,#f00 263px,#ff3c3c 271px,#ff8181 283px,#fffefe 309px,#b2b2ff 327.5px,#3d3dff 364.5px,#2d2dff 373px,#2f2fff 380px,#4a4aff 391px,#8686ff 413px,#b3b3ff 436.5px,#ddf 469.5px,#ededff 486px)"></i><i style="background:linear-gradient(90deg,#ffcaca 0px,#fee 60px,#fefeff 82px,#d5d5ff 118px,#7e7eff 174px,#5c5cff 186.5px,#5f5fff 189.5px,#7171ff 192.5px,#aaf 198px,#fdfdff 205.5px,#fff6f6 206.5px,#ff5e5e 220.5px,#ff0a0a 227px,#fd0000 228px,#c10000 235px,#8f0000 240.5px,#850000 243px,#8d0000 245.5px,#d70000 255.5px,#f00 263px,#ff4040 271.5px,#ff8787 284px,#fff 309px,#b3b3ff 327px,#3a3aff 365px,#2a2aff 373px,#2d2dff 380px,#4949ff 391px,#8383ff 412px,#b1b1ff 435px,#dbdbff 467.5px,#eef 486px)"></i><i style="background:linear-gradient(90deg,#ffcbcb 0px,#fee 60px,#fefeff 81.5px,#d5d5ff 117.5px,#7d7dff 174px,#5c5cff 186.5px,#6060ff 189.5px,#7373ff 192.5px,#b8b8ff 199px,#fff 205.5px,#ff6363 220px,#f11 226.5px,#ff0303 227.5px,#e90000 230.5px,#8f0000 240.5px,#850000 243px,#8d0000 245.5px,#d70000 255.5px,#f00 263px,#ff4040 271.5px,#ff8787 284px,#fff 309px,#b3b3ff 327px,#3232ff 367px,#2727ff 374.5px,#2d2dff 381.5px,#8383ff 412px,#b1b1ff 435px,#dbdbff 467.5px,#eef 486px)"></i><i style="background:linear-gradient(90deg,#ffcbcb 0px,#fee 60px,#fefeff 81.5px,#d5d5ff 117.5px,#7d7dff 173.5px,#5c5cff 186px,#5f5fff 189px,#7171ff 192px,#a9a9ff 197.5px,#fbfbff 205px,#fffefe 205.5px,#ff6262 220px,#ff1010 226.5px,#ff0202 227.5px,#cf0000 233.5px,#8f0000 240.5px,#850000 243px,#8d0000 245.5px,#d70000 255.5px,#f00 263px,#ff4040 271.5px,#ff8787 284px,#fff 309px,#b2b2ff 327px,#2e2eff 367.5px,#2424ff 374.5px,#2b2bff 381.5px,#8181ff 411px,#aeaeff 433.5px,#d9d9ff 465px,#eef 486px)"></i><i style="background:linear-gradient(90deg,#ffcbcb 0px,#ffefef 60px,#fefeff 81px,#d5d5ff 117px,#7c7cff 173.5px,#5d5dff 185.5px,#6161ff 189px,#7373ff 192px,#b7b7ff 198.5px,#fdfdff 205px,#fff7f7 206px,#ff6262 220px,#ff1010 226.5px,#ff0101 227.5px,#ca0000 234px,#8e0000 240.5px,#850000 243px,#8d0000 245.5px,#d70000 255.5px,#f00 263px,#ff4040 271.5px,#ff8787 284px,#fefeff 309px,#b2b2ff 327px,#2a2aff 368px,#2121ff 375px,#2b2bff 382px,#7c7cff 409px,#a9a9ff 430.5px,#d4d4ff 460.5px,#eef 486px)"></i><i style="background:linear-gradient(90deg,#ffcbcb 0px,#ffefef 60px,#fefeff 81px,#d5d5ff 117px,#7b7bff 173.5px,#5c5cff 185.5px,#6060ff 188.5px,#7171ff 191.5px,#a8a8ff 197px,#fefeff 205px,#ff6c6c 219px,#ff1616 226px,#ff0101 227.5px,#ca0000 234px,#8e0000 240.5px,#850000 243px,#8d0000 245.5px,#d70000 255.5px,#f00 263px,#ff4040 271.5px,#ff8787 284px,#fffefe 308.5px,#f2f2ff 311.5px,#aaf 329px,#2727ff 368.5px,#1f1fff 375px,#2929ff 382px,#7979ff 408px,#a7a7ff 429px,#d2d2ff 458.5px,#eef 486px)"></i><i style="background:linear-gradient(90deg,#ffcbcb 0px,#ffefef 60px,#fefeff 80.5px,#d5d5ff 116.5px,#7b7bff 173px,#5d5dff 185px,#6161ff 188.5px,#7878ff 192px,#fffefe 205px,#f66 219.5px,#ff0e0e 226.5px,#f00 227.5px,#c50000 234.5px,#8e0000 240.5px,#850000 243px,#8d0000 245.5px,#d70000 255.5px,#f00 263px,#ff4040 271.5px,#ff8787 284px,#fffefe 308.5px,#ababff 328.5px,#2424ff 368.5px,#1c1cff 375px,#2626ff 381.5px,#77f 407px,#a4a4ff 427.5px,#cfcfff 456px,#eef 486px)"></i><i style="background:linear-gradient(90deg,#ffcbcb 0px,#ffefef 60px,#fefeff 80.5px,#d5d5ff 116.5px,#7a7aff 173px,#5d5dff 185px,#6262ff 188.5px,#7a7aff 192px,#fcfcff 204.5px,#fffdfd 205px,#ff6565 219.5px,#ff0e0e 226.5px,#f00 227.5px,#c50000 234.5px,#8e0000 240.5px,#850000 243px,#8c0000 245.5px,#d70000 255.5px,#f00 263px,#ff4040 271.5px,#ff8787 284px,#fffefe 308.5px,#acacff 328px,#2121ff 368.5px,#1919ff 374.5px,#2323ff 381px,#7474ff 406px,#a2a2ff 426px,#ccf 454px,#eef 486px)"></i><i style="background:linear-gradient(90deg,#ffcbcb 0px,#ffefef 60px,#fefeff 80px,#d5d5ff 116px,#7979ff 173px,#5d5dff 184.5px,#6262ff 188px,#7878ff 191.5px,#dfdfff 201.5px,#fefeff 204.5px,#ff7a7a 217.5px,#f22 225px,#f00 227.5px,#c50000 234.5px,#8e0000 240.5px,#850000 243px,#8c0000 245.5px,#d70000 255.5px,#f00 263px,#ff4040 271.5px,#f88 284px,#fff 308.5px,#aeaeff 327.5px,#1e1eff 368.5px,#1616ff 374.5px,#1f1fff 380.5px,#7171ff 405px,#9f9fff 424.5px,#c9c9ff 451.5px,#eef 486px)"></i><i style="background:linear-gradient(90deg,#ffcbcb 0px,#fff0f0 60px,#fefeff 80px,#d5d5ff 116px,#7979ff 172.5px,#5d5dff 184px,#6161ff 187.5px,#7676ff 191px,#c1c1ff 198.5px,#fff 204.5px,#ff6969 219px,#ff1414 226px,#fe0000 227.5px,#c50000 234.5px,#8e0000 240.5px,#840000 243px,#8c0000 245.5px,#d70000 255.5px,#f00 263px,#ff4040 271.5px,#f88 284px,#fff 308.5px,#afafff 327px,#3535ff 361px,#1818ff 370px,#1414ff 375.5px,#22f 382px,#6d6dff 403.5px,#9a9aff 422px,#c5c5ff 448px,#efefff 486px)"></i><i style="background:linear-gradient(90deg,#fcc 0px,#fff0f0 60px,#fefeff 79.5px,#d5d5ff 115.5px,#7878ff 172.5px,#5d5dff 184px,#6262ff 187.5px,#7878ff 191px,#d3d3ff 200px,#fcfcff 204px,#fffdfd 204.5px,#ff6868 219px,#ff1313 226px,#fe0000 227.5px,#c40000 234.5px,#8d0000 240.5px,#840000 243px,#8c0000 245.5px,#d70000 255.5px,#f00 263px,#ff4040 271.5px,#f88 284px,#fff 308.5px,#aeaeff 327px,#3838ff 359.5px,#1515ff 369.5px,#11f 375px,#1f1fff 381.5px,#6a6aff 402.5px,#9797ff 420.5px,#c2c2ff 446px,#ededff 483.5px,#efefff 486px)"></i><i style="background:linear-gradient(90deg,#fcc 0px,#fff0f0 60px,#fefeff 79.5px,#d5d5ff 115.5px,#77f 172.5px,#5d5dff 183.5px,#6262ff 187px,#7676ff 190.5px,#bbf 197.5px,#fdfdff 204px,#fff2f2 205.5px,#ff6868 219px,#ff1212 226px,#fe0000 227.5px,#c40000 234.5px,#8d0000 240.5px,#840000 243px,#8c0000 245.5px,#d70000 255.5px,#f00 263px,#ff4040 271.5px,#f88 284px,#fefeff 308.5px,#aeaeff 327px,#3c3cff 358px,#1313ff 369px,#0d0dff 374.5px,#1a1aff 380.5px,#6767ff 401.5px,#9494ff 419px,#bfbfff 443.5px,#e9e9ff 479.5px,#efefff 486px)"></i><i style="background:linear-gradient(90deg,#fcc 0px,#fff0f0 60px,#fefeff 79px,#d5d5ff 115px,#7878ff 171.5px,#5d5dff 183px,#6161ff 186.5px,#7474ff 190px,#b2b2ff 196.5px,#fff 204px,#ff6c6c 218.5px,#ff1919 225.5px,#fe0000 227.5px,#c40000 234.5px,#8d0000 240.5px,#840000 243px,#8c0000 245.5px,#d70000 255.5px,#f00 263px,#ff4040 271.5px,#f88 284px,#fefeff 308.5px,#adadff 327px,#3e3eff 357px,#11f 368.5px,#0a0aff 374px,#1414ff 379.5px,#6565ff 401px,#9393ff 418.5px,#bfbfff 443px,#e9e9ff 479px,#efefff 486px)"></i><i style="background:linear-gradient(90deg,#fcc 0px,#fff0f0 60px,#fefeff 79px,#d5d5ff 115px,#7878ff 171px,#5d5dff 183px,#6262ff 186.5px,#7676ff 190px,#babaff 197px,#fbfbff 203.5px,#fffefe 204px,#ff6c6c 218.5px,#ff1818 225.5px,#ff0404 227px,#fa0000 228px,#bf0000 235px,#8d0000 240.5px,#840000 243px,#8c0000 245.5px,#d70000 255.5px,#f00 263px,#ff4040 271.5px,#f88 284px,#fffefe 308px,#a7a7ff 328.5px,#4141ff 356px,#0e0eff 368.5px,#0707ff 373.5px,#11f 379px,#6262ff 400px,#8f8fff 416.5px,#babaff 440px,#e5e5ff 474.5px,#efefff 486px)"></i><i style="background:linear-gradient(90deg,#fcc 0px,#fff1f1 60px,#fefeff 78.5px,#d5d5ff 114.5px,#7a7aff 169.5px,#5d5dff 182.5px,#6161ff 186px,#7474ff 189.5px,#b1b1ff 196px,#fdfdff 203.5px,#fff7f7 204.5px,#ff6b6b 218.5px,#ff1717 225.5px,#ff0303 227px,#f60000 228.5px,#ba0000 235.5px,#8d0000 240.5px,#840000 243px,#8c0000 245.5px,#d70000 255.5px,#f00 263px,#ff4040 271.5px,#f88 284px,#fffefe 308px,#a6a6ff 328.5px,#4141ff 355.5px,#0b0bff 368.5px,#0404ff 373.5px,#0f0fff 379px,#5d5dff 398.5px,#8b8bff 414.5px,#b6b6ff 437px,#e0e0ff 470px,#f0f0ff 486px)"></i><i style="background:linear-gradient(90deg,#fcc 0px,#fff1f1 60px,#fefeff 78px,#d6d6ff 114px,#7d7dff 167.5px,#5d5dff 182.5px,#6262ff 186px,#7676ff 189.5px,#b8b8ff 196.5px,#fefeff 203.5px,#ff7575 217.5px,#ff1d1d 225px,#ff0303 227px,#e60000 230.5px,#8d0000 240.5px,#840000 243px,#8c0000 245.5px,#d70000 255.5px,#f00 263px,#ff4040 271.5px,#ff8989 284px,#fff 308px,#a8a8ff 328px,#4141ff 355px,#0707ff 368.5px,#00f 373.5px,#0b0bff 378.5px,#5c5cff 398px,#8989ff 413.5px,#b4b4ff 435.5px,#dedeff 467.5px,#f0f0ff 486px)"></i><i style="background:linear-gradient(90deg,#ffcdcd 0px,#fff1f1 60px,#fefeff 78px,#d5d5ff 114px,#7f7fff 166px,#5d5dff 182px,#6262ff 185.5px,#7474ff 189px,#b0b0ff 195.5px,#fffefe 203.5px,#ff6969 218.5px,#ff1616 225.5px,#ff0202 227px,#d10000 233px,#8d0000 240.5px,#840000 243px,#8c0000 245.5px,#d70000 255.5px,#f00 263px,#ff4040 271.5px,#ff8989 284px,#fff 308px,#a9a9ff 327.5px,#44f 354px,#0303ff 368.5px,#0000fd 372.5px,#0202ff 376.5px,#2d2dff 386.5px,#6161ff 399.5px,#8e8eff 415.5px,#b9b9ff 438.5px,#e3e3ff 472px,#f0f0ff 486px)"></i><i style="background:linear-gradient(90deg,#ffcdcd 0px,#fff1f1 60px,#fefeff 77.5px,#d6d6ff 113.5px,#8686ff 161.5px,#5e5eff 181.5px,#6363ff 185.5px,#7676ff 189px,#b7b7ff 196px,#fcfcff 203px,#fffdfd 203.5px,#ff6e6e 218px,#ff1c1c 225px,#ff0101 227px,#c00 233.5px,#8c0000 240.5px,#830000 243px,#8b0000 245.5px,#d70000 255.5px,#f00 263px,#ff4040 271.5px,#ff8989 284px,#fff 308px,#a8a8ff 327.5px,#44f 353.5px,#0101ff 368px,#0000fb 374px,#0101ff 377px,#55f 396px,#8282ff 410.5px,#adadff 431px,#d7d7ff 461px,#f0f0ff 486px)"></i><i style="background:linear-gradient(90deg,#ffcdcd 0px,#fff2f2 60px,#fefeff 77.5px,#d5d5ff 113.5px,#8d8dff 156.5px,#6767ff 176px,#5d5dff 182px,#6464ff 185.5px,#7c7cff 189.5px,#fefeff 203px,#ffa5a5 212.5px,#ff4646 221.5px,#ff0101 227px,#c00 233.5px,#8c0000 240.5px,#830000 243px,#8b0000 245.5px,#d70000 255.5px,#f00 263px,#ff4040 271.5px,#ff8989 284px,#fefeff 308px,#a8a8ff 327.5px,#4545ff 353px,#0000fe 367.5px,#0000f8 373px,#0101ff 377.5px,#4f4fff 394.5px,#7d7dff 408.5px,#a8a8ff 428px,#d2d2ff 456.5px,#f0f0ff 486px)"></i><i style="background:linear-gradient(90deg,#ffcdcd 0px,#fff2f2 60px,#fefeff 77px,#d6d6ff 113px,#9696ff 151px,#6969ff 174.5px,#5d5dff 181.5px,#6565ff 185.5px,#7e7eff 189.5px,#fff 203px,#ff6c6c 218px,#ff1b1b 225px,#f00 227px,#c70000 234px,#8c0000 240.5px,#830000 243px,#8b0000 245.5px,#d70000 255.5px,#f00 263px,#ff4040 271.5px,#ff8989 284px,#fefeff 308px,#a7a7ff 327.5px,#4545ff 352.5px,#00f 366.5px,#0000f5 372px,#0101ff 378px,#4b4bff 393.5px,#7979ff 407px,#a4a4ff 426px,#ceceff 453.5px,#f1f1ff 486px)"></i><i style="background:linear-gradient(90deg,#ffcdcd 0px,#fff2f2 60px,#fefeff 77px,#d5d5ff 113px,#9797ff 150px,#6868ff 174.5px,#5d5dff 181.5px,#6464ff 185px,#7c7cff 189px,#fcfcff 202.5px,#fffdfd 203px,#ff6c6c 218px,#ff1b1b 225px,#f00 227px,#c70000 234px,#8c0000 240.5px,#830000 243px,#8b0000 245.5px,#d70000 255.5px,#f00 263px,#ff4040 271.5px,#ff8989 284px,#fffefe 307.5px,#a1a1ff 329px,#4646ff 352px,#00f 365.5px,#0000f2 371px,#0000f8 376px,#0202ff 378.5px,#4747ff 392.5px,#7575ff 405.5px,#a0a0ff 423.5px,#cacaff 450px,#f1f1ff 486px)"></i><i style="background:linear-gradient(90deg,#ffcdcd 0px,#fff2f2 60px,#fefeff 76.5px,#d6d6ff 112.5px,#9a9aff 148px,#66f 175px,#5d5dff 181.5px,#6565ff 185px,#7e7eff 189px,#fdfdff 202.5px,#fff7f7 203.5px,#ff6b6b 218px,#ff1a1a 225px,#f00 227px,#c70000 234px,#8c0000 240.5px,#830000 243px,#8b0000 245.5px,#d60000 255.5px,#f00 263px,#ff4141 271.5px,#ff8989 284px,#fffefe 307.5px,#a0a0ff 329px,#4646ff 351.5px,#0000fe 365px,#0000f0 370.5px,#0000f4 375px,#00f 378.5px,#4343ff 391.5px,#7171ff 404px,#9c9cff 421.5px,#c7c7ff 447px,#f0f0ff 485px,#f1f1ff 486px)"></i><i style="background:linear-gradient(90deg,#ffcdcd 0px,#fff2f2 60px,#fefeff 76.5px,#d5d5ff 112.5px,#9b9bff 147.5px,#6363ff 176px,#5d5dff 181.5px,#66f 185px,#8080ff 189px,#fff 202.5px,#ff7575 217px,#ff2020 224.5px,#fe0000 227px,#c70000 234px,#8c0000 240.5px,#830000 243px,#8b0000 245.5px,#d60000 255.5px,#f00 263px,#ff4141 271.5px,#ff8a8a 284px,#fff 307.5px,#a1a1ff 328.5px,#4747ff 351px,#0909ff 362.5px,#0000fd 364.5px,#0000ed 370px,#0000f0 374.5px,#0101ff 379px,#3f3fff 390.5px,#6d6dff 402.5px,#99f 419.5px,#c3c3ff 444px,#ececff 480.5px,#f1f1ff 486px)"></i><i style="background:linear-gradient(90deg,#ffcece 0px,#fff3f3 60px,#fefeff 76px,#d6d6ff 112px,#9d9dff 146px,#5d5dff 179.5px,#6161ff 183.5px,#7676ff 187.5px,#b4b4ff 194.5px,#fffefe 202.5px,#ff6f6f 217.5px,#ff1f1f 224.5px,#fe0000 227px,#c70000 234px,#8c0000 240.5px,#830000 243px,#8b0000 245.5px,#d60000 255.5px,#f00 263px,#ff4141 271.5px,#ff8a8a 284px,#fff 307.5px,#a3a3ff 328px,#4848ff 350.5px,#0c0cff 361.5px,#00f 363.5px,#0000eb 369.5px,#0000ec 373.5px,#00f 379px,#3d3dff 390px,#6a6aff 401.5px,#9696ff 418px,#c0c0ff 442px,#eaeaff 477.5px,#f1f1ff 486px)"></i><i style="background:linear-gradient(90deg,#ffcece 0px,#fff3f3 60px,#fefeff 75.5px,#d6d6ff 111.5px,#9f9fff 144.5px,#5d5dff 179.5px,#6262ff 183.5px,#7878ff 187.5px,#c0c0ff 195.5px,#fdfdff 202px,#fff8f8 203px,#ff6e6e 217.5px,#ff1f1f 224.5px,#fe0000 227px,#c60000 234px,#8c0000 240.5px,#830000 243px,#8b0000 245.5px,#d60000 255.5px,#f00 263px,#ff4141 271.5px,#ff8a8a 284px,#fff 307.5px,#a4a4ff 327.5px,#4646ff 350.5px,#0f0fff 360.5px,#0000fe 363px,#0000e8 369px,#0000e8 373px,#0202ff 379.5px,#3b3bff 389.5px,#6969ff 401px,#9494ff 417px,#bebeff 440.5px,#e8e8ff 475.5px,#f2f2ff 486px)"></i><i style="background:linear-gradient(90deg,#ffcece 0px,#fff3f3 60px,#fefeff 75.5px,#d6d6ff 111.5px,#9f9fff 144px,#5d5dff 179px,#6262ff 183px,#7676ff 187px,#b3b3ff 194px,#fefeff 202px,#ff8282 215.5px,#ff2a2a 223.5px,#fe0000 227px,#c60000 234px,#8b0000 240.5px,#830000 243px,#8b0000 245.5px,#d60000 255.5px,#f00 263px,#ff4141 271.5px,#ff8a8a 284px,#fefeff 307.5px,#a1a1ff 328px,#4747ff 350px,#1212ff 359.5px,#0000fe 362.5px,#0000e6 368.5px,#0000e4 372px,#0000f7 377.5px,#0202ff 379.5px,#3939ff 389px,#66f 400px,#9191ff 415.5px,#bcbcff 438.5px,#e5e5ff 472.5px,#f2f2ff 486px)"></i><i style="background:linear-gradient(90deg,#ffcece 0px,#fff3f3 60px,#fefeff 75px,#d6d6ff 111px,#a0a0ff 143px,#5d5dff 178.5px,#6161ff 182.5px,#7474ff 186.5px,#acacff 193px,#fffefe 202px,#ff7272 217px,#ff1e1e 224.5px,#fd0000 227px,#c60000 234px,#8b0000 240.5px,#820000 243px,#8b0000 245.5px,#d60000 255.5px,#f00 263px,#ff4141 271.5px,#ff8a8a 284px,#fefeff 307.5px,#a1a1ff 328px,#4848ff 349.5px,#1212ff 359px,#0000fd 362px,#0000e2 368.5px,#0000e1 372px,#0000f6 377.5px,#0101ff 379.5px,#3737ff 388.5px,#6565ff 399.5px,#9090ff 415px,#babaff 437.5px,#e4e4ff 471px,#f2f2ff 486px)"></i><i style="background:linear-gradient(90deg,#ffcece 0px,#fff4f4 60px,#fefeff 75px,#d5d5ff 111px,#a0a0ff 143px,#5d5dff 178px,#6262ff 182.5px,#7676ff 186.5px,#b2b2ff 193.5px,#fcfcff 201.5px,#fffdfd 202px,#ff7171 217px,#ff1d1d 224.5px,#ff0303 226.5px,#f60000 228px,#bd0000 235px,#8b0000 240.5px,#820000 243px,#8a0000 245.5px,#d60000 255.5px,#f00 263px,#ff4141 271.5px,#ff8a8a 284px,#fffefe 307px,#9898ff 330px,#4646ff 349.5px,#1212ff 358.5px,#0000fd 361.5px,#0000df 368px,#00d 371.5px,#0000f0 376.5px,#0101ff 379.5px,#3535ff 388px,#6262ff 398.5px,#8d8dff 413.5px,#b8b8ff 435.5px,#e1e1ff 468px,#f2f2ff 486px)"></i><i style="background:linear-gradient(90deg,#ffcece 0px,#fff4f4 60px,#fefeff 74.5px,#d6d6ff 110.5px,#a1a1ff 142px,#5d5dff 177.5px,#6161ff 182px,#7474ff 186px,#ababff 192.5px,#fefeff 201.5px,#fee 203.5px,#ff6b6b 217.5px,#ff1d1d 224.5px,#ff0303 226.5px,#ef0000 229px,#b30000 236px,#8b0000 240.5px,#820000 243px,#8a0000 245.5px,#d60000 255.5px,#f00 263px,#ff4141 271.5px,#ff8b8b 284px,#fffefe 307px,#99f 329.5px,#4747ff 349px,#1313ff 358px,#0000fd 361px,#0000db 368px,#0000da 371.5px,#0000f2 377px,#00f 379.5px,#33f 387.5px,#5f5fff 397.5px,#8a8aff 412px,#b4b4ff 433px,#dedeff 464.5px,#f3f3ff 486px)"></i><i style="background:linear-gradient(90deg,#ffcfcf 0px,#fff4f4 60px,#fefeff 74px,#d6d6ff 110px,#a2a2ff 141px,#5d5dff 177.5px,#6262ff 182px,#7676ff 186px,#b1b1ff 193px,#fff 201.5px,#ff7575 216.5px,#f22 224px,#ff0202 226.5px,#d30000 232.5px,#8b0000 240.5px,#820000 243px,#8a0000 245.5px,#d60000 255.5px,#f00 263px,#ff4141 271.5px,#ff8b8b 284px,#fff 307px,#9b9bff 329px,#4848ff 348.5px,#1717ff 357px,#0000fd 360.5px,#0000d9 367.5px,#0000d5 370.5px,#0000e4 374.5px,#00f 379.5px,#3131ff 387px,#5d5dff 397px,#88f 411px,#b3b3ff 432px,#dcdcff 463px,#f3f3ff 486px)"></i><i style="background:linear-gradient(90deg,#ffcfcf 0px,#fff4f4 60px,#fefeff 74px,#d6d6ff 110px,#a3a3ff 140.5px,#5d5dff 177px,#6161ff 181.5px,#7474ff 185.5px,#aeaeff 192.5px,#fcfcff 201px,#fffefe 201.5px,#ff7474 216.5px,#f22 224px,#ff0202 226.5px,#ce0000 233px,#8b0000 240.5px,#820000 243px,#8a0000 245.5px,#d60000 255.5px,#f00 263px,#ff4141 271.5px,#ff8b8b 284px,#fff 307px,#9e9eff 328px,#4949ff 348px,#1818ff 356.5px,#0000fd 360px,#0000d4 367.5px,#0000d1 370.5px,#0000e3 374.5px,#0101ff 379.5px,#3131ff 387px,#5e5eff 397px,#8989ff 411px,#b3b3ff 432px,#ddf 463px,#f3f3ff 486px)"></i><i style="background:linear-gradient(90deg,#ffcfcf 0px,#fff5f5 60px,#fefeff 73.5px,#d6d6ff 109.5px,#a3a3ff 140px,#5d5dff 176.5px,#6060ff 181px,#7272ff 185px,#a7a7ff 191.5px,#fdfdff 201px,#fff8f8 202px,#ff7373 216.5px,#ff2121 224px,#ff0101 226.5px,#ce0000 233px,#8b0000 240.5px,#820000 243px,#8a0000 245.5px,#d60000 255.5px,#f00 263px,#ff4141 271.5px,#ff8b8b 284px,#fff 307px,#9d9dff 328px,#4747ff 348px,#1515ff 356.5px,#0000fe 359.5px,#0000d0 367.5px,#0000cd 370px,#0000db 373.5px,#0101ff 379.5px,#2f2fff 386.5px,#5b5bff 396px,#8787ff 410px,#b1b1ff 430.5px,#dbdbff 461px,#f3f3ff 486px)"></i><i style="background:linear-gradient(90deg,#ffcfcf 0px,#fff5f5 60px,#fefeff 73.5px,#d6d6ff 109.5px,#a3a3ff 139.5px,#5d5dff 176px,#5f5fff 180.5px,#7171ff 184.5px,#a0a0ff 190.5px,#fefeff 201px,#ff7c7c 215.5px,#ff2727 223.5px,#ff0101 226.5px,#ca0000 233.5px,#8b0000 240.5px,#820000 243px,#8a0000 245.5px,#d60000 255.5px,#f00 263px,#ff4141 271.5px,#ff8b8b 284px,#fefeff 307px,#9b9bff 328.5px,#4848ff 347.5px,#1919ff 355.5px,#0000fe 359px,#0000cd 367px,#0000c8 369.5px,#0000d4 372.5px,#0101ff 379.5px,#3030ff 386.5px,#5c5cff 396px,#8787ff 410px,#b2b2ff 430.5px,#dbdbff 461px,#f4f4ff 486px)"></i><i style="background:linear-gradient(90deg,#ffcfcf 0px,#fff5f5 60px,#fefeff 73px,#d6d6ff 109px,#a4a4ff 139px,#5d5dff 175.5px,#5f5fff 180px,#6f6fff 184px,#9d9dff 190px,#fffefe 201px,#ff7272 216.5px,#ff2020 224px,#f00 226.5px,#c90000 233.5px,#8a0000 240.5px,#820000 243px,#8a0000 245.5px,#d60000 255.5px,#f00 263px,#ff4141 271.5px,#ff8b8b 284px,#fefeff 307px,#9a9aff 328.5px,#4747ff 347.5px,#1616ff 355.5px,#0000fe 358.5px,#0000c7 367px,#0000c4 369.5px,#0000d2 372.5px,#0202ff 379.5px,#3131ff 386.5px,#5d5dff 396px,#88f 410px,#b2b2ff 430.5px,#dbdbff 461px,#f4f4ff 486px)"></i><i style="background:linear-gradient(90deg,#ffd0d0 0px,#fff5f5 60px,#fefeff 72.5px,#d6d6ff 108.5px,#a5a5ff 138px,#5d5dff 175px,#5f5fff 180px,#7171ff 184px,#9f9fff 190px,#fcfcff 200.5px,#fffdfd 201px,#ff7171 216.5px,#ff2020 224px,#f00 226.5px,#c90000 233.5px,#8a0000 240.5px,#820000 243px,#8a0000 245.5px,#d60000 255.5px,#f00 263px,#ff4242 271.5px,#ff8c8c 284px,#fffefe 306.5px,#9191ff 330.5px,#4545ff 347.5px,#1414ff 355.5px,#00f 358px,#0000c2 367px,#0000c0 369.5px,#0000d5 373px,#0000fe 379px,#3232ff 386.5px,#5d5dff 396px,#88f 410px,#b2b2ff 430.5px,#dcdcff 461px,#f4f4ff 486px)"></i><i style="background:linear-gradient(90deg,#ffd0d0 0px,#fff6f6 60px,#fefeff 72.5px,#d6d6ff 108.5px,#a4a4ff 138px,#5c5cff 175px,#5f5fff 179.5px,#6f6fff 183.5px,#9c9cff 189.5px,#fefeff 200.5px,#ffd9d9 205px,#f66 217.5px,#ff1919 224.5px,#f00 226.5px,#c90000 233.5px,#8a0000 240.5px,#820000 243px,#8a0000 245.5px,#d60000 255.5px,#f00 263px,#ff4242 271.5px,#ff8c8c 284px,#fffefe 306.5px,#9292ff 330px,#4646ff 347px,#1515ff 355px,#0101ff 357.5px,#0000d4 363.5px,#0000bc 367px,#0000ba 369px,#00c 372px,#00f 379px,#3030ff 386px,#5c5cff 395.5px,#8686ff 409px,#b0b0ff 429px,#dadaff 459px,#f4f4ff 486px)"></i><i style="background:linear-gradient(90deg,#ffd0d0 0px,#fff6f6 60px,#fefeff 72px,#d6d6ff 108px,#a5a5ff 137.5px,#5c5cff 174.5px,#5f5fff 179.5px,#7474ff 184px,#ababff 191px,#fff 200.5px,#ff7575 216px,#ff2525 223.5px,#fe0000 226.5px,#c90000 233.5px,#8a0000 240.5px,#810000 243px,#8a0000 245.5px,#d60000 255.5px,#f00 263px,#ff4242 271.5px,#ff8c8c 284px,#fff 306.5px,#9494ff 329.5px,#4747ff 346.5px,#1616ff 354.5px,#0000fd 357.5px,#0000cf 363.5px,#0000b6 367px,#0000b6 369px,#0000cf 372.5px,#0000fc 378.5px,#0505ff 379.5px,#3131ff 386px,#5d5dff 395.5px,#8787ff 409px,#b1b1ff 429px,#dadaff 459px,#f5f5ff 486px)"></i><i style="background:linear-gradient(90deg,#ffd0d0 0px,#fff6f6 60px,#fefeff 72px,#d6d6ff 108px,#a5a5ff 137px,#5c5cff 174px,#5e5eff 179px,#7272ff 183.5px,#a4a4ff 190px,#fcfcff 200px,#fffefe 200.5px,#ff7474 216px,#ff2424 223.5px,#fe0000 226.5px,#c90000 233.5px,#8a0000 240.5px,#810000 243px,#8a0000 245.5px,#d60000 255.5px,#f00 263px,#ff4242 271.5px,#ff8c8c 284px,#fff 306.5px,#9595ff 329px,#4646ff 346.5px,#1717ff 354px,#0000fe 357px,#0000d4 362.5px,#0000b1 366.5px,#0000ae 368px,#0000b8 370px,#0000f0 376.5px,#0202ff 379px,#2c2cff 385px,#5858ff 394px,#8383ff 407px,#adadff 426.5px,#d7d7ff 455.5px,#f5f5ff 486px)"></i><i style="background:linear-gradient(90deg,#ffd0d0 0px,#fff6f6 60px,#fefeff 71.5px,#d6d6ff 107.5px,#a6a6ff 136.5px,#5c5cff 173.5px,#5e5eff 178.5px,#7070ff 183px,#a2a2ff 189.5px,#fdfdff 200px,#fff8f8 201px,#ff7373 216px,#ff2323 223.5px,#fe0000 226.5px,#c90000 233.5px,#8a0000 240.5px,#810000 243px,#8a0000 245.5px,#d60000 255.5px,#f00 263px,#ff4242 271.5px,#ff8c8c 284px,#fff 306.5px,#9494ff 329px,#4747ff 346px,#1818ff 353.5px,#00f 356.5px,#0000d8 361.5px,#0000ad 366px,#0000a7 367.5px,#0000b1 369.5px,#0000e9 375.5px,#0000fe 378.5px,#3131ff 385.5px,#5b5bff 394.5px,#8686ff 408px,#b0b0ff 428px,#dadaff 458px,#f5f5ff 486px)"></i><i style="background:linear-gradient(90deg,#ffd0d0 0px,#fff7f7 60px,#fefeff 71px,#d6d6ff 107px,#a6a6ff 136px,#5c5cff 173px,#5d5dff 178px,#6f6fff 182.5px,#9b9bff 188.5px,#fefeff 200px,#ff8181 214.5px,#ff2f2f 222.5px,#fe0000 226.5px,#c80000 233.5px,#8a0000 240.5px,#810000 243px,#8a0000 245.5px,#d60000 255.5px,#f00 263px,#ff4242 271.5px,#ff8d8d 284px,#fefeff 306.5px,#9494ff 329px,#4545ff 346px,#1616ff 353.5px,#0101ff 356px,#0000de 360.5px,#0000a5 366px,#0000a0 367.5px,#0000af 369.5px,#0000e2 374.5px,#00f 378.5px,#2c2cff 384.5px,#5656ff 393px,#8181ff 406px,#ababff 425px,#d5d5ff 453.5px,#f6f6ff 486px)"></i><i style="background:linear-gradient(90deg,#ffd1d1 0px,#fff7f7 60px,#fefeff 71px,#d6d6ff 107px,#a6a6ff 135.5px,#5c5cff 172.5px,#5c5cff 177.5px,#6d6dff 182px,#9898ff 188px,#fffefe 200px,#f77 215.5px,#ff2828 223px,#fe0000 226.5px,#c80000 233.5px,#8a0000 240.5px,#810000 243px,#890000 245.5px,#d60000 255.5px,#f00 263px,#ff4242 271.5px,#ff8d8d 284px,#fffefe 306px,#f1f1ff 309px,#88f 331.5px,#44f 346px,#1717ff 353px,#0000fd 356px,#0000da 360.5px,#00009c 366px,#00009a 367.5px,#0000ad 369.5px,#0000da 373.5px,#0000fd 378px,#33f 385.5px,#5d5dff 394.5px,#8787ff 408px,#b1b1ff 428px,#dadaff 458px,#f6f6ff 486px)"></i><i style="background:linear-gradient(90deg,#ffd1d1 0px,#fff7f7 60px,#fefeff 70.5px,#d6d6ff 106.5px,#a7a7ff 135px,#5c5cff 172px,#5d5dff 177.5px,#6e6eff 182px,#9a9aff 188px,#fdfdff 199.5px,#fffdfd 200px,#ff7676 215.5px,#ff2828 223px,#ff0303 226px,#f70000 227.5px,#bf0000 234.5px,#8a0000 240.5px,#810000 243px,#890000 245.5px,#d60000 255.5px,#f00 263px,#ff4242 271.5px,#ff8d8d 284px,#fffefe 306px,#8787ff 331.5px,#4242ff 346px,#1515ff 353px,#0000fe 355.5px,#0000db 360px,#0000b1 363.5px,#000096 365.5px,#000090 366.5px,#000093 367.5px,#0000d7 373px,#0000fb 377.5px,#0404ff 378.5px,#2f2fff 384.5px,#5a5aff 393.5px,#8484ff 406.5px,#aeaeff 426px,#d7d7ff 455px,#f6f6ff 486px)"></i><i style="background:linear-gradient(90deg,#ffd1d1 0px,#fff7f7 60px,#fefeff 70px,#d6d6ff 106px,#a7a7ff 134.5px,#5b5bff 172px,#5c5cff 177px,#6d6dff 181.5px,#9898ff 187.5px,#fefeff 199.5px,#ffcece 205.5px,#ff6262 217.5px,#ff1616 224.5px,#ff0303 226px,#f30000 228px,#ba0000 235px,#890000 240.5px,#810000 243px,#890000 245.5px,#d60000 255.5px,#f00 263px,#ff3f3f 271px,#f88 283px,#fffefe 306px,#88f 331px,#44f 345.5px,#1616ff 352.5px,#0101ff 355px,#0000dc 359.5px,#0000b8 362.5px,#00008b 365.5px,#000086 366.5px,#00008e 367.5px,#0000c8 371.5px,#00e 375.5px,#0101ff 378px,#2d2dff 384px,#5757ff 392.5px,#8282ff 405.5px,#acacff 424.5px,#d5d5ff 453px,#f6f6ff 486px)"></i><i style="background:linear-gradient(90deg,#ffd1d1 0px,#fff8f8 60px,#fefeff 70px,#d6d6ff 106px,#a6a6ff 134.5px,#5b5bff 171.5px,#5c5cff 177px,#6e6eff 181.5px,#9d9dff 188px,#fff 199.5px,#ff7575 215.5px,#ff2727 223px,#ff0202 226px,#d50000 232px,#890000 240.5px,#810000 243px,#890000 245.5px,#d60000 255.5px,#f00 263px,#ff3f3f 271px,#f88 283px,#fff 306px,#8c8cff 330px,#4545ff 345px,#1818ff 352px,#0000fd 355px,#0000d8 359.5px,#0000b1 362.5px,#00007f 365.5px,#00007d 366.5px,#000092 368px,#0000bc 370.5px,#0000df 373.5px,#0000fe 377.5px,#2f2fff 384px,#5a5aff 393px,#8484ff 406px,#aeaeff 425.5px,#d8d8ff 454.5px,#f7f7ff 486px)"></i><i style="background:linear-gradient(90deg,#ffd1d1 0px,#fff8f8 60px,#fefeff 69.5px,#d6d6ff 105.5px,#a8a8ff 133.5px,#5b5bff 171px,#5c5cff 176.5px,#6c6cff 181px,#9797ff 187px,#fcfcff 199px,#fffefe 199.5px,#ff7979 215px,#ff2626 223px,#ff0202 226px,#d00000 232.5px,#890000 240.5px,#810000 243px,#890000 245.5px,#d60000 255.5px,#f00 263px,#ff3f3f 271px,#f88 283px,#fff 306px,#8b8bff 330px,#4343ff 345px,#1515ff 352px,#00f 354.5px,#0000d9 359px,#0000b2 362px,#007 365px,#000071 365.5px,#000070 366px,#00007d 367px,#0000af 369.5px,#0000d1 372px,#0000f5 376px,#0101ff 377.5px,#2a2aff 383px,#55f 391.5px,#8080ff 404px,#a9a9ff 422.5px,#d3d3ff 450.5px,#f7f7ff 486px)"></i><i style="background:linear-gradient(90deg,#ffd2d2 0px,#fff8f8 60px,#fefeff 69.5px,#d6d6ff 105.5px,#a7a7ff 133.5px,#5b5bff 170.5px,#5b5bff 176px,#6b6bff 180.5px,#9494ff 186.5px,#fdfdff 199px,#fff9f9 200px,#ff7373 215.5px,#ff2626 223px,#ff0202 226px,#d00000 232.5px,#890000 240.5px,#810000 243px,#890000 245.5px,#d60000 255.5px,#f00 263px,#ff3f3f 271px,#f88 283px,#fefeff 306px,#88f 330.5px,#4242ff 345px,#1313ff 352px,#0101ff 354px,#0000e0 358px,#0000bc 361px,#000097 363px,#006 365px,#000061 365.5px,#000064 366px,#0000a8 369px,#0000ce 371.5px,#0000f0 375px,#0000fe 377px,#2f2fff 383.5px,#5858ff 392px,#8383ff 405px,#adadff 424px,#d6d6ff 452.5px,#f7f7ff 486px)"></i><i style="background:linear-gradient(90deg,#ffd2d2 0px,#fff9f9 60px,#fefeff 69px,#d6d6ff 105px,#a8a8ff 133px,#5b5bff 170px,#5b5bff 175.5px,#6969ff 180px,#9292ff 186px,#fefeff 199px,#ff8181 214px,#ff3131 222px,#ff0101 226px,#d00000 232.5px,#890000 240.5px,#810000 243px,#890000 245.5px,#d60000 255.5px,#f00 263px,#ff3f3f 271px,#ff8989 283px,#fefeff 306px,#8787ff 330.5px,#4343ff 344.5px,#1515ff 351.5px,#0000fe 354px,#00d 358px,#0000be 360.5px,#000098 362.5px,#00006e 364px,#000051 365px,#000050 365.5px,#00005b 366px,#00008a 367.5px,#0000ac 369px,#0000d0 371.5px,#0000f5 375.5px,#0101ff 377px,#2a2aff 382.5px,#55f 391px,#8080ff 403.5px,#aaf 422px,#d3d3ff 450px,#f8f8ff 486px)"></i><i style="background:linear-gradient(90deg,#ffd2d2 0px,#fff9f9 60px,#fefeff 68.5px,#d6d6ff 105px,#a7a7ff 133px,#5b5bff 169.5px,#5a5aff 175px,#6868ff 179.5px,#8c8cff 185px,#fffefe 199px,#f77 215px,#ff2525 223px,#ff0101 226px,#cb0000 233px,#890000 240.5px,#800000 243px,#890000 245.5px,#d60000 255.5px,#f00 263px,#ff3f3f 271px,#ff8989 283px,#fffefe 305.5px,#7272ff 335px,#3939ff 346px,#0a0aff 352.5px,#00f 353.5px,#0000df 357.5px,#0000c0 360px,#00009b 362px,#00007f 363px,#000059 364px,#00004c 364.5px,#00004c 365.5px,#000059 366px,#00007f 367px,#0000a6 368.5px,#0000c7 370.5px,#0000ec 374px,#0000fe 376.5px,#2f2fff 383px,#5959ff 391.5px,#8383ff 404.5px,#adadff 423.5px,#d6d6ff 452px,#f8f8ff 486px)"></i><i style="background:linear-gradient(90deg,#ffd2d2 0px,#fff9f9 60px,#fefeff 68.5px,#d6d6ff 104.5px,#a7a7ff 132.5px,#5a5aff 169.5px,#5a5aff 175px,#6969ff 179.5px,#9191ff 185.5px,#fdfdff 198.5px,#fffdfd 199px,#ff7676 215px,#ff2424 223px,#f00 226px,#cb0000 233px,#890000 240.5px,#800000 243px,#890000 245.5px,#d60000 255.5px,#f00 263px,#ff4040 271px,#ff8989 283px,#fffefe 305.5px,#7878ff 333.5px,#3a3aff 345.5px,#0c0cff 352px,#0000fd 353.5px,#0000db 357.5px,#00b 360px,#00009f 361.5px,#000083 362.5px,#000071 363px,#00005a 363.5px,#00004c 364px,#00004c 365.5px,#00005e 366px,#000074 366.5px,#000094 367.5px,#0000b4 369px,#0000d6 371.5px,#0000f9 375.5px,#0101ff 376.5px,#2b2bff 382px,#5656ff 390.5px,#8080ff 403px,#aaf 421.5px,#d4d4ff 449.5px,#f8f8ff 486px)"></i><i style="background:linear-gradient(90deg,#ffd2d2 0px,#fff9f9 60px,#fefeff 68px,#d6d6ff 104.5px,#a8a8ff 132px,#5a5aff 169px,#5959ff 174.5px,#6868ff 179px,#8f8fff 185px,#fefeff 198.5px,#ffe4e4 202px,#ff7171 215.5px,#ff2424 223px,#f00 226px,#cb0000 233px,#890000 240.5px,#800000 243px,#890000 245.5px,#d60000 255.5px,#f00 263px,#ff4040 271px,#ff8989 283px,#fff 305.5px,#7c7cff 332.5px,#3c3cff 345px,#0d0dff 351.5px,#00f 353px,#0000de 357px,#0000be 359.5px,#0000a3 361px,#008 362px,#007 362.5px,#00004c 363.5px,#00004c 365.5px,#000068 366px,#00008d 367px,#0000b0 368.5px,#0000d4 371px,#0000f8 375px,#00f 376px,#2c2cff 382px,#5757ff 390.5px,#8181ff 403px,#ababff 421.5px,#d4d4ff 449.5px,#f8f8ff 486px)"></i><i style="background:linear-gradient(90deg,#ffd3d3 0px,#fff9f9 59.5px,#fefeff 67.5px,#d6d6ff 104px,#a8a8ff 131.5px,#5a5aff 168.5px,#5a5aff 174.5px,#6969ff 179px,#9090ff 185px,#fff 198.5px,#ff7979 214.5px,#ff2929 222.5px,#f00 226px,#cb0000 233px,#890000 240.5px,#800000 243px,#890000 245.5px,#d60000 255.5px,#f00 263px,#ff4040 271px,#ff8989 283px,#fff 305.5px,#7d7dff 332px,#3d3dff 344.5px,#0f0fff 351px,#0000fd 353px,#0000db 357px,#0000ba 359.5px,#00009c 361px,#00007f 362px,#00006a 362.5px,#00004e 363px,#00004c 365px,#00005d 365.5px,#000074 366px,#000095 367px,#0000b5 368.5px,#0000d7 371px,#0000fa 375px,#0202ff 376px,#2b2bff 381.5px,#5656ff 390px,#8080ff 402.5px,#aaf 421px,#d4d4ff 449px,#f9f9ff 486px)"></i><i style="background:linear-gradient(90deg,#ffd3d3 0px,#fffafa 59.5px,#fefeff 67.5px,#d5d5ff 104px,#a7a7ff 131.5px,#5a5aff 168px,#5959ff 174px,#6767ff 178.5px,#8e8eff 184.5px,#fffefe 198.5px,#ff7979 214.5px,#ff2929 222.5px,#fe0000 226px,#cb0000 233px,#890000 240.5px,#800000 243px,#890000 245.5px,#d60000 255.5px,#f00 263px,#ff4040 271px,#ff8a8a 283px,#fefeff 305.5px,#7a7aff 332.5px,#3c3cff 344.5px,#0d0dff 351px,#0000fe 352.5px,#00d 356.5px,#0000bd 359px,#0000a1 360.5px,#000087 361.5px,#000075 362px,#00005e 362.5px,#00004c 363px,#00004c 364.5px,#000054 365px,#00006d 365.5px,#000090 366.5px,#0000b1 368px,#0000d5 370.5px,#0000f8 374.5px,#00f 375.5px,#2a2aff 381px,#55f 389.5px,#8080ff 402px,#aaf 420.5px,#d3d3ff 448px,#f9f9ff 486px)"></i><i style="background:linear-gradient(90deg,#ffd3d3 0px,#fffafa 59.5px,#fefeff 67px,#d6d6ff 103.5px,#a8a8ff 131px,#5959ff 168px,#5858ff 173.5px,#66f 178px,#88f 183.5px,#fdfdff 198px,#fff9f9 199px,#ff7878 214.5px,#ff2828 222.5px,#fe0000 226px,#cb0000 233px,#800 240.5px,#800000 243px,#890000 245.5px,#d60000 255.5px,#f00 263px,#ff3d3d 270.5px,#ff8484 282px,#fefeff 305.5px,#7474ff 333.5px,#3737ff 345px,#0b0bff 351px,#0000fd 352.5px,#0000da 356.5px,#0000b9 359px,#00009b 360.5px,#00007f 361.5px,#00006c 362px,#005 362.5px,#00004c 363px,#00004c 364px,#000050 364.5px,#000068 365px,#00008c 366px,#0000ae 367.5px,#0000d3 370px,#0000f7 374px,#0303ff 375.5px,#2c2cff 381px,#5757ff 389.5px,#8181ff 402px,#ababff 420.5px,#d4d4ff 448.5px,#f9f9ff 486px)"></i><i style="background:linear-gradient(90deg,#ffd3d3 0px,#fffafa 59.5px,#fefeff 66.5px,#d6d6ff 103px,#a8a8ff 130.5px,#5959ff 167.5px,#5858ff 173.5px,#6767ff 178px,#8d8dff 184px,#fefeff 198px,#ff8989 212.5px,#ff3838 221px,#fe0000 226px,#cb0000 233px,#800 240.5px,#800000 243px,#890000 245.5px,#d60000 255.5px,#f00 263px,#ff3d3d 270.5px,#ff8585 282px,#fffefe 305px,#e1e1ff 311px,#4545ff 342.5px,#1515ff 349.5px,#0000fe 352px,#00d 356px,#0000bd 358.5px,#0000a2 360px,#000079 361.5px,#000053 362.5px,#00004c 363px,#00004c 363.5px,#000053 364px,#000079 365px,#0000a2 366.5px,#0000c4 368.5px,#0000e6 371.5px,#0202ff 375px,#2b2bff 380.5px,#5656ff 389px,#8080ff 401.5px,#aaf 420px,#d4d4ff 448px,#fafaff 486px)"></i><i style="background:linear-gradient(90deg,#ffd3d3 0px,#fffafa 59.5px,#fefeff 66.5px,#d5d5ff 103px,#a7a7ff 130.5px,#5959ff 167px,#5858ff 173px,#6565ff 177.5px,#8b8bff 183.5px,#fff 198px,#f77 214.5px,#ff2727 222.5px,#fe0000 226px,#ca0000 233px,#800 240.5px,#800000 243px,#800 245.5px,#d60000 255.5px,#f00 263px,#ff3d3d 270.5px,#ff8585 282px,#fffefe 305px,#4646ff 342px,#1717ff 349px,#0101ff 351.5px,#0000df 355.5px,#0000ba 358.5px,#00009e 360px,#000076 361.5px,#00005a 362.5px,#005 363px,#00005c 363.5px,#000094 365.5px,#00b 367.5px,#0000df 370.5px,#00f 374.5px,#2a2aff 380px,#55f 388.5px,#8080ff 401px,#aaf 419.5px,#d3d3ff 447px,#fafaff 486px)"></i><i style="background:linear-gradient(90deg,#ffd4d4 0px,#fffafa 59px,#fefeff 66px,#d6d6ff 102.5px,#a8a8ff 130px,#5959ff 166.5px,#5757ff 172.5px,#6464ff 177px,#8585ff 182.5px,#fcfcff 197.5px,#fffefe 198px,#ff7b7b 214px,#ff2c2c 222px,#fe0000 226px,#ca0000 233px,#800 240.5px,#800000 243px,#800 245.5px,#d60000 255.5px,#f00 263px,#ff3d3d 270.5px,#ff8585 282px,#fff 305px,#4545ff 342px,#1515ff 349px,#0000fe 351.5px,#00d 355.5px,#0000b6 358.5px,#00008f 360.5px,#00006b 362px,#000065 362.5px,#006 363px,#00007b 364px,#0000a8 366px,#0000ce 368.5px,#0000f0 372px,#0000fe 374px,#2f2fff 380.5px,#5959ff 389px,#8484ff 402px,#adadff 421px,#d7d7ff 449.5px,#fafaff 486px)"></i><i style="background:linear-gradient(90deg,#ffd4d4 0px,#fffbfb 59px,#fefeff 65.5px,#d6d6ff 102px,#a9a9ff 129px,#5858ff 166.5px,#5757ff 172.5px,#6565ff 177px,#8a8aff 183px,#fefeff 197.5px,#fff5f5 199px,#ff7676 214.5px,#ff2626 222.5px,#ff0303 225.5px,#f70000 227px,#c10000 234px,#800 240.5px,#800000 243px,#800 245.5px,#d60000 255.5px,#f00 263px,#ff3d3d 270.5px,#ff8585 282px,#fff 305px,#4343ff 342px,#1313ff 349px,#0101ff 351px,#0000e0 355px,#00b 358px,#00008d 360.5px,#000079 361.5px,#000073 362px,#000072 362.5px,#00007f 363.5px,#0000b0 366px,#0000d2 368.5px,#0000f6 372.5px,#0202ff 374px,#2b2bff 379.5px,#5656ff 388px,#8181ff 400.5px,#aaf 419px,#d4d4ff 446.5px,#fbfbff 486px)"></i><i style="background:linear-gradient(90deg,#ffd4d4 0px,#fffbfb 59px,#fefeff 65.5px,#d5d5ff 102px,#a9a9ff 129px,#5858ff 166px,#5757ff 172px,#66f 177px,#8c8cff 183px,#fff 197.5px,#ff7e7e 213.5px,#ff3131 221.5px,#ff0303 225.5px,#f40000 227.5px,#bd0000 234.5px,#800 240.5px,#800000 243px,#800 245.5px,#d60000 255.5px,#f00 263px,#ff3d3d 270.5px,#ff8585 282px,#fff 305px,#4545ff 341.5px,#1515ff 348.5px,#0000fe 351px,#0000d8 355.5px,#0000b1 358.5px,#000085 361px,#00007d 362px,#000084 363px,#0000be 366.5px,#0000e5 370px,#0101ff 373.5px,#2a2aff 379px,#55f 387.5px,#8080ff 400px,#aaf 418.5px,#d3d3ff 446px,#fbfbff 486px)"></i><i style="background:linear-gradient(90deg,#ffd4d4 0px,#fffbfb 59px,#fefeff 65px,#d6d6ff 101.5px,#a9a9ff 128.5px,#5858ff 165.5px,#5656ff 171.5px,#6464ff 176.5px,#8989ff 182.5px,#fffefe 197.5px,#ff7979 214px,#ff2b2b 222px,#ff0202 225.5px,#de0000 230.5px,#800 240.5px,#800000 243px,#800 245.5px,#d60000 255.5px,#f00 263px,#ff3d3d 270.5px,#ff8686 282px,#fefeff 305px,#44f 341.5px,#1313ff 348.5px,#0202ff 350.5px,#0000e0 354.5px,#0000be 357.5px,#00008a 361px,#000086 362px,#000097 363.5px,#0000ca 367px,#0000f1 371px,#00f 373px,#2c2cff 379px,#5757ff 387.5px,#8181ff 400px,#ababff 418.5px,#d4d4ff 446.5px,#fbfbff 486px)"></i><i style="background:linear-gradient(90deg,#ffd4d4 0px,#fffcfc 59px,#fdfdff 65px,#d5d5ff 101.5px,#a8a8ff 128.5px,#5757ff 165.5px,#5656ff 171.5px,#6565ff 176.5px,#8b8bff 182.5px,#fdfdff 197px,#fff9f9 198px,#ff7878 214px,#ff2a2a 222px,#ff0202 225.5px,#d20000 232px,#800 240.5px,#800000 243px,#800 245.5px,#d60000 255.5px,#f00 263px,#ff3d3d 270.5px,#ff8686 282px,#fffefe 304.5px,#eef 308px,#4545ff 341px,#1616ff 348px,#00f 350.5px,#0000d9 355px,#0000ae 358.5px,#000093 360.5px,#00008e 361.5px,#00009a 363px,#0000cf 367px,#0000f3 371px,#0303ff 373px,#2e2eff 379px,#5858ff 387.5px,#8383ff 400.5px,#adadff 419.5px,#d7d7ff 448px,#fcfcff 486px)"></i><i style="background:linear-gradient(90deg,#ffd5d5 0px,#fffcfc 59px,#fdfdff 64.5px,#d6d6ff 101px,#a9a9ff 128px,#5757ff 165px,#55f 171px,#6464ff 176px,#8989ff 182px,#fefeff 197px,#ff9191 211px,#ff3f3f 220px,#ff0202 225.5px,#d20000 232px,#800 240.5px,#800000 243px,#800 245.5px,#d60000 255.5px,#ff0101 263px,#ff3e3e 270.5px,#ff8686 282px,#fffefe 304.5px,#4747ff 340.5px,#1818ff 347.5px,#0000fd 350.5px,#0000d7 355px,#00009b 360px,#000097 361.5px,#0000a3 363px,#0000d9 367.5px,#0000fd 372px,#3434ff 379.5px,#5e5eff 388.5px,#88f 402px,#b2b2ff 422px,#dcdcff 452px,#fcfcff 486px)"></i><i style="background:linear-gradient(90deg,#ffd5d5 0px,#fffcfc 58.5px,#fefeff 64px,#d6d6ff 100.5px,#a9a9ff 127.5px,#5757ff 164.5px,#55f 170.5px,#6262ff 175.5px,#8686ff 181.5px,#fff 197px,#ff7b7b 213.5px,#ff2f2f 221.5px,#ff0101 225.5px,#d20000 232px,#800 240.5px,#800000 243px,#800 245.5px,#d60000 255.5px,#ff0101 263px,#ff3e3e 270.5px,#ff8686 282px,#fff 304.5px,#4646ff 340.5px,#1616ff 347.5px,#00f 350px,#0000db 354.5px,#0000a3 359.5px,#00009d 361px,#0000a6 362.5px,#00d 367.5px,#0101ff 372px,#2d2dff 378px,#5757ff 386.5px,#8181ff 399px,#ababff 417.5px,#d5d5ff 445.5px,#fcfcff 486px)"></i><i style="background:linear-gradient(90deg,#ffd5d5 0px,#fffcfc 58.5px,#fdfdff 64px,#d5d5ff 100.5px,#a8a8ff 127.5px,#5656ff 164.5px,#55f 170.5px,#6363ff 175.5px,#88f 181.5px,#fffefe 197px,#ff7b7b 213.5px,#ff2e2e 221.5px,#ff0101 225.5px,#cd0000 232.5px,#800 240.5px,#800000 243px,#800 245.5px,#d60000 255.5px,#ff0101 263px,#ff3e3e 270.5px,#ff8787 282px,#fff 304.5px,#44f 340.5px,#1414ff 347.5px,#0000fd 350px,#0000d4 355px,#0000a6 359.5px,#0000a4 361px,#0000b3 363px,#0000e6 368px,#00f 371.5px,#2c2cff 377.5px,#5757ff 386px,#8181ff 398.5px,#ababff 417px,#d4d4ff 444.5px,#fdfdff 486px)"></i><i style="background:linear-gradient(90deg,#ffd5d5 0px,#fffcfc 58.5px,#fdfdff 63.5px,#d6d6ff 100px,#a9a9ff 127px,#5656ff 164px,#5454ff 170px,#6262ff 175px,#8686ff 181px,#fdfdff 196.5px,#fff9f9 197.5px,#ff7a7a 213.5px,#ff2e2e 221.5px,#f00 225.5px,#cd0000 232.5px,#800 240.5px,#800000 243px,#800 245.5px,#d60000 255.5px,#ff0101 263px,#ff3e3e 270.5px,#ff8787 282px,#fff 304.5px,#4343ff 340.5px,#1212ff 347.5px,#0101ff 349.5px,#0000d8 354.5px,#0000ac 359px,#0000a9 360.5px,#0000b5 362.5px,#0000e9 368px,#0000fe 371px,#2e2eff 377.5px,#5a5aff 386.5px,#8585ff 399.5px,#afafff 419px,#d9d9ff 448px,#fdfdff 486px)"></i><i style="background:linear-gradient(90deg,#ffd6d6 0px,#fffdfd 58.5px,#fdfdff 64px,#d4d4ff 100.5px,#a8a8ff 127px,#55f 164px,#5454ff 170px,#6363ff 175px,#8787ff 181px,#fefeff 196.5px,#ff8686 212px,#ff3838 220.5px,#f00 225.5px,#cd0000 232.5px,#870000 240.5px,#800000 242.5px,#850000 245px,#d90000 256px,#ff0101 263px,#ff3e3e 270.5px,#ff8787 282px,#fefeff 304.5px,#4545ff 340px,#1010ff 347.5px,#0000fe 349.5px,#0000d2 355px,#0000b2 358.5px,#0000ae 360px,#0000b7 362px,#0000f0 368.5px,#0000fe 370.5px,#3131ff 377.5px,#5c5cff 386.5px,#8787ff 400px,#b1b1ff 419.5px,#dadaff 449px,#fdfdff 486px)"></i><i style="background:linear-gradient(90deg,#ffd6d6 0px,#fffdfd 58.5px,#fdfdff 63.5px,#d5d5ff 100px,#a8a8ff 126.5px,#55f 163.5px,#5353ff 169.5px,#6161ff 174.5px,#8585ff 180.5px,#fff 196.5px,#ff7979 213.5px,#ff2d2d 221.5px,#f00 225.5px,#cd0000 232.5px,#870000 240.5px,#800000 242.5px,#850000 245px,#d90000 256px,#ff0101 263px,#ff3e3e 270.5px,#ff8787 282px,#fffefe 304px,#eef 307.5px,#4343ff 340px,#1313ff 347px,#0101ff 349px,#0000da 354px,#0000b8 358px,#0000b3 360px,#0000c2 362.5px,#0000f7 369px,#0202ff 370.5px,#2d2dff 376.5px,#5959ff 385.5px,#8484ff 398.5px,#aeaeff 417.5px,#d7d7ff 446px,#fefeff 486px)"></i><i style="background:linear-gradient(90deg,#ffd6d6 0px,#fffdfd 58.5px,#fcfcff 64px,#d4d4ff 100px,#a8a8ff 126.5px,#55f 163px,#5353ff 169px,#6060ff 174px,#8383ff 180px,#fcfcff 196px,#fffefe 196.5px,#ff7878 213.5px,#ff2d2d 221.5px,#f00 225.5px,#cd0000 232.5px,#870000 240.5px,#800000 242.5px,#850000 245px,#d90000 256px,#ff0101 263px,#ff3e3e 270.5px,#ff8787 282px,#fffefe 304px,#4545ff 339.5px,#11f 347px,#00f 349px,#00c 355.5px,#0000b8 358.5px,#0000ba 360.5px,#0000fd 369.5px,#3535ff 377.5px,#6161ff 387px,#8c8cff 401px,#b5b5ff 421.5px,#dedeff 452px,#fefeff 486px)"></i><i style="background:linear-gradient(90deg,#ffd6d6 0px,#fffdfd 58px,#fcfcff 63.5px,#d4d4ff 99.5px,#a8a8ff 126px,#5454ff 163px,#5353ff 169px,#6161ff 174px,#8484ff 180px,#fefeff 196px,#fff5f5 197.5px,#ff7878 213.5px,#ff2c2c 221.5px,#f00 225.5px,#cd0000 232.5px,#870000 240.5px,#800000 242.5px,#850000 245px,#d90000 256px,#ff0101 263px,#ff3f3f 270.5px,#f88 282px,#fff 304px,#44f 339.5px,#0f0fff 347px,#0000fd 349px,#0000bf 357.5px,#0000bc 359.5px,#0000cd 362.5px,#0000fd 369px,#0909ff 370.5px,#3535ff 377px,#6060ff 386.5px,#8b8bff 400.5px,#b5b5ff 421px,#dedeff 451.5px,#fefeff 486px)"></i><i style="background:linear-gradient(90deg,#ffd6d6 0px,#fffdfd 58px,#fafaff 65px,#d3d3ff 100.5px,#a5a5ff 127px,#5454ff 162.5px,#5252ff 168.5px,#5f5fff 173.5px,#8282ff 179.5px,#fff 196px,#ff8484 212px,#ff3636 220.5px,#fe0000 225.5px,#cd0000 232.5px,#870000 240.5px,#800000 242.5px,#850000 245px,#d90000 256px,#ff0101 263px,#ff3f3f 270.5px,#f88 282px,#fff 304px,#4242ff 339.5px,#0e0eff 347px,#0101ff 348.5px,#0000c3 357px,#0000c0 359px,#0000ca 361.5px,#00f 369px,#2e2eff 375.5px,#5a5aff 384.5px,#8484ff 397.5px,#afafff 417px,#d9d9ff 446px,#fff 486px)"></i><i style="background:linear-gradient(90deg,#ffd7d7 0px,#fffefe 58px,#f3f3ff 72.5px,#cacaff 106px,#9b9bff 131.5px,#5454ff 162px,#5151ff 168px,#5e5eff 173px,#8080ff 179px,#fffefe 196px,#ff7b7b 213px,#ff2b2b 221.5px,#fe0000 225.5px,#cd0000 232.5px,#870000 240.5px,#800000 242.5px,#850000 245px,#d90000 256px,#ff0101 263px,#ff3f3f 270.5px,#f88 282px,#fefeff 304px,#4141ff 339.5px,#0c0cff 347px,#0000fe 348.5px,#0000c7 356.5px,#0000c4 359px,#0000d3 362px,#00f 368.5px,#2e2eff 375px,#5959ff 384px,#8484ff 397px,#aeaeff 416px,#d7d7ff 444.5px,#fff 486px)"></i><i style="background:linear-gradient(90deg,#ffd7d7 0px,#fffefe 58px,#e2e2ff 87.5px,#b8b8ff 116.5px,#8484ff 141px,#5454ff 161.5px,#5151ff 168px,#5e5eff 173px,#8181ff 179px,#fdfdff 195.5px,#fffefe 196px,#ff7a7a 213px,#ff2b2b 221.5px,#fe0000 225.5px,#c00 232.5px,#870000 240.5px,#800000 242.5px,#850000 245px,#d90000 256px,#ff0101 263px,#ff3f3f 270.5px,#f88 282px,#fefeff 304px,#4343ff 339px,#0f0fff 346.5px,#0000fd 348.5px,#0000cb 356px,#0000c7 358.5px,#0000d4 361.5px,#00f 368px,#3030ff 375px,#5d5dff 384.5px,#88f 398px,#b2b2ff 418px,#dbdbff 447.5px,#fff 486px)"></i><i style="background:linear-gradient(90deg,#ffd7d7 0px,#fffefe 58px,#ddf 91.5px,#b2b2ff 119.5px,#7b7bff 144.5px,#5353ff 161.5px,#5050ff 167.5px,#5d5dff 172.5px,#7f7fff 178.5px,#fefeff 195.5px,#ffe3e3 199.5px,#ff7171 214px,#ff2525 222px,#fe0000 225.5px,#c00 232.5px,#870000 240.5px,#800000 242.5px,#850000 245px,#d90000 256px,#ff0101 263px,#ff3f3f 270.5px,#ff8989 282px,#fffefe 303.5px,#e8e8ff 308px,#4242ff 339px,#0d0dff 346.5px,#00f 348px,#0000cd 356px,#0000cb 358.5px,#0000dc 362px,#00f 367.5px,#3030ff 374.5px,#5d5dff 384px,#88f 397.5px,#b2b2ff 417.5px,#dbdbff 447px,#fff 485.5px,#fffefe 486px)"></i><i style="background:linear-gradient(90deg,#ffd7d7 0px,#fffefe 57.5px,#dedeff 90px,#b4b4ff 118px,#7f7fff 142.5px,#5353ff 161px,#5050ff 167.5px,#5e5eff 172.5px,#8080ff 178.5px,#fff 195.5px,#ff7d7d 212.5px,#ff2f2f 221px,#fe0000 225.5px,#c00 232.5px,#870000 240.5px,#800000 242.5px,#820000 244.5px,#9f0000 248.5px,#d60000 255.5px,#fd0000 262.5px,#ff0b0b 264px,#ff4a4a 272px,#ff9797 284.5px,#fffefe 303.5px,#4343ff 338.5px,#0c0cff 346.5px,#0000fe 348px,#0000d1 355.5px,#0000ce 358px,#0000dc 361.5px,#00f 367px,#3232ff 374.5px,#5e5eff 384px,#8989ff 397.5px,#b3b3ff 417.5px,#dcdcff 447.5px,#fff 485px,#fffefe 486px)"></i><i style="background:linear-gradient(90deg,#ffd8d8 0px,#fefeff 59px,#d6d6ff 96px,#ababff 122.5px,#6e6eff 148.5px,#5151ff 162px,#5151ff 168px,#6161ff 173px,#8c8cff 180px,#fffefe 195.5px,#ff7979 213px,#ff2a2a 221.5px,#ff0303 225px,#f40000 227px,#bf0000 234px,#870000 240.5px,#800000 242.5px,#820000 244.5px,#9f0000 248.5px,#d60000 255.5px,#fd0000 262.5px,#ff0b0b 264px,#ff4a4a 272px,#ff9898 284.5px,#fff 303.5px,#4242ff 338.5px,#0a0aff 346.5px,#0000fd 348px,#0000d4 355px,#0000d0 357.5px,#0000de 361px,#0000fe 366.5px,#3535ff 374.5px,#6262ff 384.5px,#8c8cff 398.5px,#b6b6ff 419px,#dfdfff 449.5px,#fffefe 485px,#fffefe 486px)"></i><i style="background:linear-gradient(90deg,#ffd8d8 0px,#fefeff 58.5px,#d6d6ff 95.5px,#aaf 122.5px,#6d6dff 148.5px,#5151ff 161.5px,#5050ff 167.5px,#5f5fff 172.5px,#8686ff 179px,#fdfdff 195px,#fffafa 196px,#ff7878 213px,#ff2929 221.5px,#ff0202 225px,#e70000 229px,#ad0000 236px,#870000 240.5px,#800000 242.5px,#820000 244.5px,#9f0000 248.5px,#d60000 255.5px,#fd0000 262.5px,#ff0f0f 264.5px,#ff5151 273px,#ffa3a3 286.5px,#fff 303.5px,#4141ff 338.5px,#0909ff 346.5px,#00f 347.5px,#0000d7 354.5px,#0000d4 357.5px,#0000e4 361.5px,#0000fe 366px,#3434ff 374px,#6161ff 384px,#8c8cff 398px,#b6b6ff 418.5px,#dfdfff 449px,#fffefe 484.5px,#fffdfd 486px)"></i><i style="background:linear-gradient(90deg,#ffd8d8 0px,#fefeff 58.5px,#d6d6ff 95.5px,#ababff 122px,#6f6fff 147.5px,#5050ff 161px,#4f4fff 167px,#5e5eff 172px,#8484ff 178.5px,#fefeff 195px,#ff9090 210px,#ff3d3d 219.5px,#ff0202 225px,#d40000 231.5px,#870000 240.5px,#800000 242.5px,#820000 244.5px,#9f0000 248.5px,#d60000 255.5px,#fe0000 262.5px,#ff1414 265px,#f55 273.5px,#ffa9a9 287.5px,#fefeff 303.5px,#4040ff 338.5px,#0707ff 346.5px,#0000fe 347.5px,#0000da 354px,#0000d6 357px,#0000e5 361px,#0000fe 365.5px,#3434ff 373.5px,#6161ff 383.5px,#8c8cff 397.5px,#b6b6ff 418px,#dfdfff 448.5px,#fff 484px,#fffdfd 486px)"></i><i style="background:linear-gradient(90deg,#ffd8d8 0px,#fefeff 58px,#d6d6ff 95px,#ababff 121.5px,#7171ff 146.5px,#5050ff 160.5px,#4f4fff 166.5px,#5c5cff 171.5px,#8282ff 178px,#fff 195px,#ff7b7b 212.5px,#ff2e2e 221px,#ff0202 225px,#d40000 231.5px,#870000 240.5px,#800000 242.5px,#820000 244.5px,#9f0000 248.5px,#d60000 255.5px,#fe0000 262.5px,#ff1d1d 266px,#ff5f5f 275px,#ffbcbc 291px,#fefeff 303.5px,#3e3eff 338.5px,#0000fe 347.5px,#0000dc 354px,#0000d9 357px,#0000e9 361px,#0000fe 365px,#3636ff 373.5px,#6262ff 383.5px,#8e8eff 398px,#b8b8ff 419px,#e1e1ff 450.5px,#fffefe 484px,#fffdfd 486px)"></i><i style="background:linear-gradient(90deg,#ffd9d9 0px,#fefeff 57.5px,#d6d6ff 95px,#aaf 121.5px,#7171ff 146px,#5050ff 160.5px,#4f4fff 166.5px,#5d5dff 171.5px,#8383ff 178px,#fffefe 195px,#ff7b7b 212.5px,#ff2d2d 221px,#ff0101 225px,#d40000 231.5px,#860000 240.5px,#800000 242.5px,#820000 244.5px,#9f0000 248.5px,#d60000 255.5px,#fe0000 262.5px,#ff4e4e 272.5px,#ff9e9e 285.5px,#fffefe 303px,#5858ff 334px,#1818ff 344px,#0101ff 347px,#0000de 353.5px,#0000db 356.5px,#0000e9 360.5px,#00f 364.5px,#3636ff 373px,#6262ff 383px,#8e8eff 397.5px,#b8b8ff 418.5px,#e1e1ff 449.5px,#fffefe 483.5px,#fffcfc 486px)"></i><i style="background:linear-gradient(90deg,#ffd9d9 0px,#fefeff 57px,#d6d6ff 94.5px,#ababff 121px,#7171ff 145.5px,#4f4fff 160px,#4e4eff 166px,#5c5cff 171px,#8181ff 177.5px,#fdfdff 194.5px,#fffafa 195.5px,#ff7a7a 212.5px,#ff2d2d 221px,#ff0101 225px,#cf0000 232px,#860000 240.5px,#800000 242.5px,#820000 244.5px,#9f0000 248.5px,#d60000 255.5px,#fe0000 262.5px,#ff4f4f 272.5px,#ff9f9f 285.5px,#fffefe 303px,#4242ff 337.5px,#00f 347px,#0000e1 353px,#0000de 356.5px,#0000ef 361px,#00f 364px,#3636ff 372.5px,#6262ff 382.5px,#8d8dff 397px,#b8b8ff 418px,#e1e1ff 449px,#fffefe 483px,#fffcfc 486px)"></i><i style="background:linear-gradient(90deg,#ffd9d9 0px,#fefeff 56.5px,#d6d6ff 94px,#ababff 120.5px,#7373ff 144.5px,#4f4fff 159.5px,#4d4dff 165.5px,#5a5aff 170.5px,#7f7fff 177px,#fefeff 194.5px,#ff8a8a 210.5px,#ff3b3b 219.5px,#ff0101 225px,#cf0000 232px,#860000 240.5px,#800000 242.5px,#820000 244.5px,#9f0000 248.5px,#d60000 255.5px,#fe0000 262.5px,#ff4f4f 272.5px,#ff9f9f 285.5px,#fff 303px,#3e3eff 338px,#0000fe 347px,#0000e2 353px,#0000e1 356.5px,#0000f7 362px,#00f 363.5px,#3535ff 372px,#6363ff 382.5px,#8e8eff 397px,#b8b8ff 418px,#e2e2ff 449.5px,#fffefe 482.5px,#fffcfc 486px)"></i><i style="background:linear-gradient(90deg,#ffd9d9 0px,#fefeff 56.5px,#d6d6ff 94px,#aaf 120.5px,#7272ff 144.5px,#4e4eff 159.5px,#4d4dff 165.5px,#5b5bff 170.5px,#8080ff 177px,#fff 194.5px,#ff7979 212.5px,#ff2c2c 221px,#f00 225px,#cf0000 232px,#860000 240.5px,#800000 242.5px,#820000 244.5px,#9f0000 248.5px,#d60000 255.5px,#fe0000 262.5px,#ff4f4f 272.5px,#ff9f9f 285.5px,#fff 303px,#3d3dff 338px,#0000fe 347px,#0000e5 352.5px,#0000e3 356px,#0000f5 361px,#00f 363px,#3838ff 372px,#6565ff 382.5px,#9191ff 397.5px,#bbf 419px,#e4e4ff 451px,#fffefe 482px,#fffbfb 486px)"></i><i style="background:linear-gradient(90deg,#ffdada 0px,#fefeff 56px,#d6d6ff 93.5px,#ababff 120px,#7474ff 143.5px,#4e4eff 159px,#4c4cff 165px,#5959ff 170px,#7e7eff 176.5px,#fffefe 194.5px,#ff7d7d 212px,#ff3131 220.5px,#f00 225px,#cb0000 232.5px,#860000 240.5px,#800000 242.5px,#820000 244.5px,#9f0000 248.5px,#d60000 255.5px,#fe0000 262.5px,#ff4c4c 272px,#ff9a9a 284.5px,#fefeff 303px,#3c3cff 338px,#0101ff 346.5px,#0000e6 352.5px,#0000e5 356px,#0000fd 362px,#0707ff 363.5px,#3c3cff 372.5px,#6a6aff 383.5px,#9595ff 399px,#bfbfff 421.5px,#e8e8ff 455px,#fffefe 482px,#fffbfb 486px)"></i><i style="background:linear-gradient(90deg,#ffdada 0px,#fefeff 55.5px,#d6d6ff 93px,#ababff 119.5px,#7474ff 143px,#4e4eff 158.5px,#4c4cff 164.5px,#5858ff 169.5px,#7b7bff 176px,#fdfdff 194px,#fffafa 195px,#ff7878 212.5px,#ff2b2b 221px,#f00 225px,#cb0000 232.5px,#860000 240.5px,#800000 242.5px,#820000 244.5px,#9f0000 248.5px,#d60000 255.5px,#fe0000 262.5px,#ff4c4c 272px,#ff9a9a 284.5px,#fffefe 302.5px,#f5f5ff 304.5px,#3a3aff 338px,#00f 346.5px,#0000e8 352px,#0000e7 355.5px,#0000fb 361px,#0404ff 362.5px,#3c3cff 372px,#6a6aff 383px,#9595ff 398.5px,#bfbfff 421px,#e8e8ff 454.5px,#fffefe 481.5px,#fffbfb 486px)"></i><i style="background:linear-gradient(90deg,#ffdada 0px,#fefeff 55px,#d6d6ff 92.5px,#ababff 119px,#7676ff 142px,#4e4eff 158px,#4b4bff 164px,#5757ff 169px,#7676ff 175px,#fefeff 194px,#ff8787 210.5px,#ff3a3a 219.5px,#f00 225px,#cb0000 232.5px,#860000 240.5px,#800000 242.5px,#820000 244.5px,#9f0000 248.5px,#d60000 255.5px,#fe0000 262.5px,#ff4c4c 272px,#ff9a9a 284.5px,#fffefe 302.5px,#3f3fff 337px,#00f 346.5px,#0000ea 352px,#0000ea 355.5px,#0101ff 361.5px,#3c3cff 371.5px,#6969ff 382.5px,#9595ff 398px,#bfbfff 420.5px,#e8e8ff 454px,#fffefe 481px,#fffafa 486px)"></i><i style="background:linear-gradient(90deg,#ffdada 0px,#fefeff 54.5px,#d6d6ff 92px,#acacff 118.5px,#7676ff 141.5px,#4d4dff 158px,#4b4bff 164px,#5757ff 169px,#7a7aff 175.5px,#fff 194px,#ff7b7b 212px,#ff3030 220.5px,#f00 225px,#cb0000 232.5px,#860000 240.5px,#800000 242.5px,#820000 244.5px,#9f0000 248.5px,#d60000 255.5px,#fe0000 262.5px,#ff4c4c 272px,#ff9b9b 284.5px,#fff 302.5px,#3e3eff 337px,#0000fe 346.5px,#0000ec 351.5px,#0000ec 355.5px,#0202ff 361px,#3c3cff 371px,#6969ff 382px,#9595ff 397.5px,#bfbfff 420px,#e8e8ff 453.5px,#fffefe 480.5px,#fffafa 486px)"></i><i style="background:linear-gradient(90deg,#ffdbdb 0px,#fefeff 54px,#d7d7ff 91.5px,#acacff 118px,#7676ff 141px,#4d4dff 157.5px,#4a4aff 163.5px,#5656ff 168.5px,#7575ff 174.5px,#fffefe 194px,#ff7a7a 212px,#ff2f2f 220.5px,#fe0000 225px,#cb0000 232.5px,#860000 240.5px,#800000 242.5px,#820000 244.5px,#9f0000 248.5px,#d60000 255.5px,#fe0000 262.5px,#ff4c4c 272px,#ff9b9b 284.5px,#fff 302.5px,#3a3aff 337.5px,#0000fe 346.5px,#0000ed 351.5px,#00e 355.5px,#0202ff 360.5px,#3e3eff 371px,#6c6cff 382.5px,#9898ff 398.5px,#c2c2ff 421.5px,#ebebff 456px,#fffefe 480px,#fffafa 486px)"></i><i style="background:linear-gradient(90deg,#ffdbdb 0px,#fefeff 54px,#d6d6ff 91.5px,#ababff 118px,#7575ff 141px,#4c4cff 157.5px,#4a4aff 163.5px,#5656ff 168.5px,#7979ff 175px,#fdfdff 193.5px,#fff6f6 195px,#ff7a7a 212px,#ff2f2f 220.5px,#fe0000 225px,#cb0000 232.5px,#860000 240.5px,#800000 242.5px,#820000 244.5px,#9f0000 248.5px,#d60000 255.5px,#fe0000 262.5px,#ff4d4d 272px,#ff9b9b 284.5px,#fefeff 302.5px,#3939ff 337.5px,#0000fe 346.5px,#00e 351.5px,#0000f1 355.5px,#00f 359.5px,#4040ff 371px,#6e6eff 382.5px,#99f 398.5px,#c3c3ff 422px,#ececff 456.5px,#fffefe 479.5px,#fff9f9 486px)"></i><i style="background:linear-gradient(90deg,#ffdbdb 0px,#fefeff 53.5px,#d6d6ff 91px,#acacff 117.5px,#77f 140px,#4c4cff 157px,#4949ff 163px,#55f 168px,#77f 174.5px,#fefeff 193.5px,#ff8585 210.5px,#ff3838 219.5px,#fe0000 225px,#ca0000 232.5px,#860000 240.5px,#800000 242.5px,#820000 244.5px,#9f0000 248.5px,#d60000 255.5px,#fe0000 262.5px,#ff4949 271.5px,#ff9696 283.5px,#fefeff 302.5px,#3838ff 337.5px,#0101ff 346px,#0000ef 351.5px,#0000f5 356px,#00f 359px,#4242ff 371px,#7171ff 383px,#9c9cff 399.5px,#c6c6ff 423.5px,#efefff 459px,#fffefe 479px,#fff9f9 486px)"></i><i style="background:linear-gradient(90deg,#ffdbdb 0px,#fefeff 53px,#d6d6ff 91px,#ababff 117.5px,#7676ff 140px,#4c4cff 156.5px,#4848ff 162.5px,#5353ff 167.5px,#7272ff 173.5px,#fff 193.5px,#ff7d7d 211.5px,#f33 220px,#fe0000 225px,#ca0000 232.5px,#860000 240.5px,#800000 242.5px,#820000 244.5px,#9f0000 248.5px,#d60000 255.5px,#fe0000 262.5px,#ff4949 271.5px,#ff9696 283.5px,#fffefe 302px,#e4e4ff 307px,#33f 338px,#00f 346px,#0000f1 351px,#0000f6 355.5px,#0101ff 358.5px,#44f 371px,#7272ff 383px,#9e9eff 400px,#c8c8ff 424.5px,#f1f1ff 461px,#fffefe 478.5px,#fff8f8 486px)"></i><i style="background:linear-gradient(90deg,#ffdcdc 0px,#fefeff 52.5px,#d6d6ff 90.5px,#ababff 117px,#7676ff 139.5px,#4b4bff 156.5px,#4848ff 162.5px,#5656ff 168px,#7a7aff 174.5px,#fffefe 193.5px,#ff7c7c 211.5px,#f33 220px,#fe0000 225px,#ca0000 232.5px,#860000 240.5px,#800000 242.5px,#810000 244.5px,#9f0000 248.5px,#d60000 255.5px,#fe0000 262.5px,#ff4a4a 271.5px,#ff9797 283.5px,#fffefe 302px,#3939ff 337px,#00f 346px,#0000f3 351px,#0000f8 355.5px,#0202ff 358px,#4646ff 371px,#7575ff 383.5px,#a0a0ff 400.5px,#cacaff 425.5px,#f3f3ff 462.5px,#fffefe 478px,#fff8f8 486px)"></i><i style="background:linear-gradient(90deg,#ffdcdc 0px,#fefeff 52px,#d6d6ff 90px,#ababff 116.5px,#7878ff 138.5px,#4b4bff 156px,#4747ff 162px,#55f 167.5px,#7878ff 174px,#fdfdff 193px,#fff6f6 194.5px,#ff7878 212px,#ff2d2d 220.5px,#fe0000 225px,#ca0000 232.5px,#860000 240.5px,#800000 242.5px,#810000 244.5px,#9f0000 248.5px,#d60000 255.5px,#fe0000 262.5px,#ff4a4a 271.5px,#ff9797 283.5px,#fff 302px,#3434ff 337.5px,#00f 346px,#0000f4 351px,#0000fa 355.5px,#0303ff 357.5px,#4848ff 371px,#7676ff 383.5px,#a2a2ff 401px,#ccf 426.5px,#f5f5ff 464.5px,#fffefe 478px,#fff8f8 486px)"></i><i style="background:linear-gradient(90deg,#ffdcdc 0px,#fefeff 51.5px,#d6d6ff 89.5px,#acacff 116px,#7878ff 138px,#4b4bff 155.5px,#4747ff 162px,#55f 167.5px,#7979ff 174px,#fefeff 193px,#ff8787 210px,#ff3b3b 219px,#ff0303 224.5px,#f10000 227px,#bd0000 234px,#860000 240.5px,#800000 242.5px,#810000 244.5px,#9f0000 248.5px,#d60000 255.5px,#fe0000 262.5px,#ff4646 271px,#ff9494 283px,#fff 302px,#3030ff 338px,#00f 346px,#0000f5 351px,#0101ff 356.5px,#4a4aff 371px,#7979ff 384px,#a5a5ff 402px,#ceceff 428px,#f8f8ff 467px,#fffefe 477.5px,#fff7f7 486px)"></i><i style="background:linear-gradient(90deg,#ffdcdc 0px,#fefeff 51.5px,#d6d6ff 89.5px,#ababff 116px,#77f 138px,#4a4aff 155.5px,#4646ff 161.5px,#5454ff 167px,#77f 173.5px,#fff 193px,#ff7b7b 211.5px,#ff3131 220px,#ff0202 224.5px,#d60000 231px,#860000 240.5px,#800000 242.5px,#810000 244.5px,#9f0000 248.5px,#d60000 255.5px,#fe0000 262.5px,#ff4747 271px,#ff9595 283px,#fefeff 302px,#2c2cff 338.5px,#00f 346px,#0000f7 351px,#0202ff 356px,#4c4cff 371px,#7a7aff 384px,#a6a6ff 402px,#cfcfff 428px,#f8f8ff 467px,#fffefe 477px,#fff7f7 486px)"></i><i style="background:linear-gradient(90deg,#fdd 0px,#fefeff 51px,#d6d6ff 89px,#ababff 115.5px,#7878ff 137.5px,#4a4aff 155px,#4646ff 161px,#5252ff 166.5px,#7474ff 173px,#fffefe 193px,#ff7a7a 211.5px,#ff3131 220px,#ff0202 224.5px,#d60000 231px,#850000 240.5px,#800000 242.5px,#810000 244.5px,#9f0000 248.5px,#d60000 255.5px,#f00 262.5px,#ff4747 271px,#ff9595 283px,#fffefe 301.5px,#f5f5ff 303.5px,#2828ff 339px,#0101ff 346px,#0000f8 351px,#0303ff 355.5px,#5050ff 371.5px,#7e7eff 385px,#a9a9ff 403.5px,#d3d3ff 430.5px,#fcfcff 471px,#fffefe 477px,#fff7f7 486px)"></i><i style="background:linear-gradient(90deg,#fdd 0px,#fefeff 50.5px,#d6d6ff 88.5px,#acacff 115px,#7878ff 137px,#4949ff 155px,#4646ff 161px,#5353ff 166.5px,#7676ff 173px,#fdfdff 192.5px,#fff6f6 194px,#ff7a7a 211.5px,#ff3131 220px,#ff0202 224.5px,#d50000 231px,#850000 240.5px,#800000 242.5px,#810000 244.5px,#9f0000 248.5px,#d60000 255.5px,#f00 262.5px,#ff4747 271px,#ff9595 283px,#fffefe 301.5px,#3030ff 337.5px,#0303ff 345.5px,#0000fa 349px,#0202ff 354.5px,#5454ff 372px,#8282ff 386px,#aeaeff 405.5px,#d7d7ff 433.5px,#fff 474.5px,#fff6f6 486px)"></i><i style="background:linear-gradient(90deg,#fdd 0px,#fefeff 50px,#d6d6ff 88px,#acacff 114.5px,#7a7aff 136px,#4949ff 154.5px,#4545ff 160.5px,#5151ff 166px,#7373ff 172.5px,#fefeff 192.5px,#ff8585 210px,#ff3a3a 219px,#ff0101 224.5px,#d20000 231.5px,#850000 240.5px,#800000 242.5px,#810000 244.5px,#9f0000 248.5px,#d60000 255.5px,#f00 262.5px,#f44 270.5px,#ff9090 282px,#fff 301.5px,#2020ff 340px,#0101ff 346px,#0000fc 351.5px,#0303ff 354px,#5656ff 372px,#8484ff 386px,#afafff 405.5px,#d8d8ff 434px,#fff 474px,#fff6f6 486px)"></i><i style="background:linear-gradient(90deg,#ffdede 0px,#fefeff 49.5px,#d6d6ff 87.5px,#acacff 114px,#7a7aff 135.5px,#4848ff 154.5px,#4545ff 160.5px,#5252ff 166px,#7878ff 173px,#fff 192.5px,#ff7979 211.5px,#ff3030 220px,#ff0101 224.5px,#d10000 231.5px,#850000 240.5px,#800000 242.5px,#810000 244.5px,#9f0000 248.5px,#d60000 255.5px,#f00 262.5px,#f44 270.5px,#ff9090 282px,#fff 301.5px,#0a0aff 344px,#0000fe 347px,#00f 352px,#1515ff 357.5px,#5454ff 371px,#8282ff 385px,#aeaeff 404.5px,#d7d7ff 432.5px,#fff 473.5px,#fff6f6 486px)"></i><i style="background:linear-gradient(90deg,#ffdede 0px,#fefeff 49px,#d6d6ff 87.5px,#ababff 114px,#7979ff 135.5px,#4848ff 154px,#44f 160px,#5050ff 165.5px,#7272ff 172px,#fffefe 192.5px,#ff7c7c 211px,#ff3030 220px,#ff0101 224.5px,#d10000 231.5px,#850000 240.5px,#800000 242.5px,#810000 244.5px,#9f0000 248.5px,#d60000 255.5px,#f00 262.5px,#f44 270.5px,#ff9090 282px,#fefeff 301.5px,#0c0cff 343.5px,#0000fe 347.5px,#0202ff 352px,#1f1fff 359px,#5a5aff 372px,#8787ff 386.5px,#b2b2ff 406.5px,#dcdcff 436px,#fff 473.5px,#fff5f5 486px)"></i><i style="background:linear-gradient(90deg,#ffdede 0px,#fefeff 48.5px,#d6d6ff 87px,#acacff 113.5px,#7979ff 135px,#4848ff 153.5px,#4343ff 160px,#5151ff 165.5px,#77f 172.5px,#fdfdff 192px,#fff6f6 193.5px,#ff7878 211.5px,#ff2f2f 220px,#ff0101 224.5px,#d10000 231.5px,#850000 240.5px,#800000 242.5px,#810000 244.5px,#9f0000 248.5px,#d60000 255.5px,#f00 262.5px,#f44 270.5px,#ff9191 282px,#fffdfd 301px,#f8f8ff 302.5px,#0e0eff 343px,#0101ff 347.5px,#0303ff 351.5px,#1f1fff 358.5px,#5b5bff 372px,#88f 386.5px,#b4b4ff 407px,#ddf 436.5px,#fff 473px,#fff5f5 486px)"></i><i style="background:linear-gradient(90deg,#ffdede 0px,#fefeff 48.5px,#d6d6ff 86.5px,#acacff 113px,#7a7aff 134.5px,#4747ff 153.5px,#4343ff 159.5px,#4f4fff 165px,#7171ff 171.5px,#fefeff 192px,#ff8787 209.5px,#ff3838 219px,#f00 224.5px,#cd0000 232px,#850000 240.5px,#800000 242px,#810000 244.5px,#9f0000 248.5px,#d60000 255.5px,#f00 262.5px,#ff4141 270px,#ff8b8b 281px,#fffefe 301px,#5252ff 331px,#0e0eff 343px,#0202ff 347.5px,#0707ff 352px,#33f 362px,#6868ff 375px,#9494ff 391px,#bfbfff 413.5px,#e8e8ff 446.5px,#fffefe 473.5px,#fff5f5 486px)"></i><i style="background:linear-gradient(90deg,#ffdfdf 0px,#fefeff 48px,#d5d5ff 86.5px,#ababff 113px,#7979ff 134.5px,#4747ff 153px,#4242ff 159px,#4e4eff 164.5px,#6f6fff 171px,#fff 192px,#ff7b7b 211px,#ff2f2f 220px,#f00 224.5px,#cd0000 232px,#850000 240.5px,#800000 242px,#810000 244.5px,#9f0000 248.5px,#d60000 255.5px,#f00 262.5px,#ff4141 270px,#ff8b8b 281px,#fffefe 301px,#1313ff 342px,#0404ff 346.5px,#0707ff 351px,#22f 358px,#5d5dff 371.5px,#8b8bff 386.5px,#b6b6ff 407.5px,#dfdfff 438px,#fffefe 472.5px,#fff4f4 486px)"></i><i style="background:linear-gradient(90deg,#ffdfdf 0px,#fefeff 47.5px,#d6d6ff 86px,#ababff 112.5px,#7a7aff 133.5px,#4646ff 153px,#4242ff 159px,#4e4eff 164.5px,#7373ff 171.5px,#fffefe 192px,#ff7a7a 211px,#ff2e2e 220px,#f00 224.5px,#cd0000 232px,#850000 240.5px,#800000 242px,#810000 244.5px,#9f0000 248.5px,#d70000 255.5px,#f00 262.5px,#ff4141 270px,#ff8b8b 281px,#fff 301px,#1717ff 341px,#0606ff 346px,#0808ff 350.5px,#22f 357.5px,#5e5eff 371.5px,#8c8cff 386.5px,#b7b7ff 407.5px,#e0e0ff 438px,#fffefe 472px,#fff4f4 486px)"></i><i style="background:linear-gradient(90deg,#ffdfdf 0px,#fefeff 47px,#d6d6ff 85.5px,#acacff 112px,#7b7bff 133px,#4545ff 152.5px,#4141ff 158.5px,#4d4dff 164px,#6e6eff 170.5px,#fdfdff 191.5px,#fffafa 192.5px,#ff7a7a 211px,#ff2e2e 220px,#f00 224.5px,#cd0000 232px,#850000 240.5px,#800000 242px,#810000 244.5px,#9f0000 248.5px,#d70000 255.5px,#f00 262.5px,#ff4141 270px,#ff8c8c 281px,#fefeff 301px,#1919ff 340.5px,#0808ff 345.5px,#0909ff 350px,#2020ff 356.5px,#6060ff 371.5px,#8e8eff 387px,#b9b9ff 408.5px,#e2e2ff 439.5px,#fffefe 471.5px,#fff4f4 486px)"></i><i style="background:linear-gradient(90deg,#ffdfdf 0px,#fefeff 46.5px,#d6d6ff 85px,#acacff 111.5px,#7b7bff 132.5px,#44f 152.5px,#4141ff 158.5px,#4d4dff 164px,#7272ff 171px,#fefeff 191.5px,#f88 209px,#ff3c3c 218.5px,#f00 224.5px,#cd0000 232px,#850000 240.5px,#800000 242px,#810000 244.5px,#9f0000 248.5px,#d70000 255.5px,#f00 262.5px,#ff4242 270px,#ff8c8c 281px,#fffdfd 300.5px,#fbfbff 301.5px,#1b1bff 340px,#0a0aff 345px,#0a0aff 349.5px,#2121ff 356px,#6060ff 371px,#8e8eff 386.5px,#b9b9ff 408px,#e2e2ff 439px,#fffefe 471px,#fff3f3 486px)"></i><i style="background:linear-gradient(90deg,#ffe0e0 0px,#fefeff 46px,#d6d6ff 84.5px,#ababff 111.5px,#7a7aff 132.5px,#44f 152px,#4040ff 158px,#4c4cff 163.5px,#6d6dff 170px,#fff 191.5px,#ff7d7d 210.5px,#ff3232 219.5px,#fe0000 224.5px,#cd0000 232px,#850000 240.5px,#800000 242px,#810000 244.5px,#9f0000 248.5px,#d70000 255.5px,#ff0101 262.5px,#ff4242 270px,#ff8c8c 281px,#fffefe 300.5px,#e3e3ff 305.5px,#1d1dff 339.5px,#0c0cff 344.5px,#0b0bff 349px,#2121ff 355.5px,#6161ff 371px,#8f8fff 386.5px,#babaff 408px,#e3e3ff 439.5px,#fffefe 471px,#fff3f3 486px)"></i><i style="background:linear-gradient(90deg,#ffe0e0 0px,#fefeff 45.5px,#d6d6ff 84px,#ababff 111px,#7a7aff 132px,#4343ff 152px,#4040ff 158px,#4c4cff 163.5px,#7171ff 170.5px,#fffefe 191.5px,#ff7979 211px,#ff2d2d 220px,#fe0000 224.5px,#cd0000 232px,#850000 240.5px,#800000 242px,#810000 244.5px,#9f0000 248.5px,#d70000 255.5px,#ff0101 262.5px,#ff4242 270px,#ff8d8d 281px,#fffefe 300.5px,#1f1fff 339px,#0d0dff 344px,#0c0cff 348.5px,#1f1fff 354.5px,#6363ff 371px,#9191ff 387px,#bcbcff 409px,#e5e5ff 441px,#fffefe 470.5px,#fff3f3 486px)"></i><i style="background:linear-gradient(90deg,#ffe0e0 0px,#fefeff 45px,#d6d6ff 83.5px,#acacff 110.5px,#7b7bff 131.5px,#4343ff 151.5px,#3f3fff 157.5px,#4b4bff 163px,#6f6fff 170px,#fdfdff 191px,#fffafa 192px,#ff7878 211px,#ff2d2d 220px,#fe0000 224.5px,#cd0000 232px,#850000 240.5px,#800000 242px,#810000 244.5px,#9f0000 248.5px,#d70000 255.5px,#ff0101 262.5px,#ff4242 270px,#ff8d8d 281px,#fff 300.5px,#2424ff 338px,#0f0fff 343.5px,#0e0eff 348px,#2020ff 354px,#6565ff 371px,#9292ff 387px,#bdbdff 409px,#e6e6ff 441.5px,#fffefe 470px,#fff2f2 486px)"></i><i style="background:linear-gradient(90deg,#ffe1e1 0px,#fefeff 44.5px,#d6d6ff 83.5px,#acacff 110px,#7b7bff 131px,#4343ff 151px,#3e3eff 157px,#4a4aff 162.5px,#6a6aff 169px,#fefeff 191px,#ff8e8e 208px,#ff3f3f 218px,#fe0000 224.5px,#c00 232px,#850000 240.5px,#800000 242px,#810000 244.5px,#9f0000 248.5px,#d70000 255.5px,#ff0101 262.5px,#ff4242 270px,#ff8d8d 281px,#fff 300.5px,#2626ff 337.5px,#11f 343px,#0f0fff 347.5px,#2020ff 353.5px,#66f 371px,#9393ff 387px,#bebeff 409.5px,#e7e7ff 442px,#fffefe 469.5px,#fff2f2 486px)"></i><i style="background:linear-gradient(90deg,#ffe1e1 0px,#fefeff 44.5px,#d6d6ff 83px,#ababff 110px,#7b7bff 130.5px,#4242ff 151px,#3e3eff 157px,#4a4aff 162.5px,#6e6eff 169.5px,#fff 191px,#ff7f7f 210px,#ff3535 219px,#fe0000 224.5px,#c00 232px,#850000 240.5px,#800000 242px,#810000 244.5px,#9f0000 248.5px,#d70000 255.5px,#ff0101 262.5px,#ff4343 270px,#ff8e8e 281px,#fefeff 300.5px,#2828ff 337px,#1313ff 342.5px,#1010ff 347px,#2020ff 353px,#6868ff 371px,#9595ff 387.5px,#c0c0ff 410.5px,#eaeaff 444px,#fffefe 469px,#fff2f2 486px)"></i><i style="background:linear-gradient(90deg,#ffe1e1 0px,#fefeff 44px,#d6d6ff 82.5px,#ababff 109.5px,#7c7cff 130px,#4242ff 150.5px,#3d3dff 156.5px,#4949ff 162px,#6c6cff 169px,#fffefe 191px,#ff7a7a 210.5px,#ff3030 219.5px,#fe0000 224.5px,#c00 232px,#850000 240.5px,#800000 242px,#810000 244.5px,#9f0000 248.5px,#d70000 255.5px,#ff0101 262.5px,#ff4343 270px,#ff8e8e 281px,#fffefe 300px,#efefff 303px,#2a2aff 336.5px,#1414ff 342px,#11f 346.5px,#2121ff 352.5px,#6767ff 370.5px,#9595ff 387px,#c0c0ff 410px,#eaeaff 443.5px,#fffefe 468.5px,#fff1f1 486px)"></i><i style="background:linear-gradient(90deg,#ffe1e1 0px,#fefeff 43.5px,#d5d5ff 82.5px,#ababff 109px,#7c7cff 129.5px,#4141ff 150.5px,#3d3dff 156.5px,#4949ff 162px,#6d6dff 169px,#fdfdff 190.5px,#fffafa 191.5px,#ff7a7a 210.5px,#ff3030 219.5px,#fe0000 224.5px,#c00 232px,#850000 240.5px,#800000 242px,#810000 244.5px,#9f0000 248.5px,#d70000 255.5px,#ff0202 262.5px,#ff4343 270px,#ff8f8f 281px,#fffefe 300px,#2c2cff 336px,#1515ff 342px,#1313ff 346.5px,#2323ff 352.5px,#6969ff 370.5px,#9696ff 387px,#c1c1ff 410px,#eaeaff 443.5px,#fffefe 468px,#fff1f1 486px)"></i><i style="background:linear-gradient(90deg,#ffe2e2 0px,#fefeff 43px,#d6d6ff 82px,#ababff 109px,#7b7bff 129.5px,#4141ff 150px,#3c3cff 156px,#4848ff 161.5px,#6b6bff 168.5px,#fefeff 190.5px,#ffd9d9 196.5px,#ff6e6e 212px,#ff2626 220.5px,#ff0202 224px,#e50000 228.5px,#af0000 235.5px,#850000 240.5px,#800000 242px,#810000 244.5px,#9f0000 248.5px,#d70000 255.5px,#ff0202 262.5px,#ff4343 270px,#ff8f8f 281px,#fff 300px,#3030ff 335px,#1818ff 341px,#1313ff 345.5px,#2020ff 351px,#6c6cff 371px,#9a9aff 388px,#c4c4ff 411.5px,#ededff 446px,#fffefe 467.5px,#fff1f1 486px)"></i><i style="background:linear-gradient(90deg,#ffe2e2 0px,#fefeff 42.5px,#d6d6ff 81.5px,#ababff 108.5px,#7b7bff 129px,#3f3fff 150px,#3b3bff 156px,#4848ff 161.5px,#6c6cff 168.5px,#fff 190.5px,#ff8080 209.5px,#ff3434 219px,#ff0202 224px,#d70000 230.5px,#850000 240.5px,#800000 242px,#810000 244.5px,#9f0000 248.5px,#d70000 255.5px,#ff0202 262.5px,#f44 270px,#ff8f8f 281px,#fff 300px,#3232ff 334.5px,#1919ff 340.5px,#1515ff 345px,#2020ff 350.5px,#6d6dff 371px,#9a9aff 388px,#c5c5ff 412px,#eef 447px,#fffefe 467px,#fff0f0 486px)"></i><i style="background:linear-gradient(90deg,#ffe2e2 0px,#fefeff 42px,#d6d6ff 81px,#ababff 108px,#7b7bff 128.5px,#3f3fff 149.5px,#3b3bff 155.5px,#4747ff 161px,#6a6aff 168px,#fff 190.5px,#ff7979 210.5px,#ff2f2f 219.5px,#ff0202 224px,#d70000 230.5px,#850000 240.5px,#800000 242px,#810000 244.5px,#9f0000 248.5px,#d70000 255.5px,#ff0202 262.5px,#f44 270px,#ff9090 281px,#fefeff 300px,#3434ff 334px,#1b1bff 340px,#1616ff 345px,#2424ff 351px,#6d6dff 370.5px,#9a9aff 387.5px,#c5c5ff 411px,#ededff 445.5px,#fffefe 466.5px,#fff0f0 486px)"></i><i style="background:linear-gradient(90deg,#ffe3e3 0px,#fefeff 41.5px,#d6d6ff 80.5px,#ababff 107.5px,#7c7cff 128px,#3e3eff 149.5px,#3a3aff 155.5px,#4747ff 161px,#6b6bff 168px,#fffefe 190.5px,#ff7878 210.5px,#ff2f2f 219.5px,#ff0202 224px,#d30000 231px,#850000 240.5px,#800000 242px,#810000 244.5px,#9f0000 248.5px,#d70000 255.5px,#fe0000 262px,#ff5353 272px,#ffa8a8 285px,#fffefe 299.5px,#efefff 302.5px,#3636ff 333.5px,#1d1dff 339.5px,#1717ff 344.5px,#2424ff 350.5px,#6f6fff 370.5px,#9c9cff 388px,#c7c7ff 412px,#f0f0ff 447.5px,#fffefe 466px,#fff0f0 486px)"></i><i style="background:linear-gradient(90deg,#ffe3e3 0px,#fefeff 41px,#d6d6ff 80px,#acacff 107px,#7c7cff 127.5px,#3e3eff 149px,#3939ff 155px,#4545ff 160.5px,#6969ff 167.5px,#fefeff 190px,#fff3f3 192px,#ff7878 210.5px,#ff2e2e 219.5px,#ff0101 224px,#d30000 231px,#850000 240.5px,#800000 242px,#810000 244.5px,#9f0000 248.5px,#d70000 255.5px,#fe0000 262px,#ff5050 271.5px,#ffa3a3 284px,#fffefe 299.5px,#3535ff 333.5px,#1d1dff 339.5px,#1818ff 344.5px,#2626ff 350.5px,#7070ff 370.5px,#9d9dff 388px,#c8c8ff 412.5px,#f1f1ff 448px,#fffefe 465.5px,#ffefef 486px)"></i><i style="background:linear-gradient(90deg,#ffe3e3 0px,#fefeff 40.5px,#d6d6ff 79.5px,#acacff 106.5px,#7c7cff 127px,#3d3dff 149px,#3939ff 155px,#4646ff 160.5px,#6a6aff 167.5px,#fefeff 190px,#ff8282 209px,#ff3737 218.5px,#ff0101 224px,#d30000 231px,#850000 240.5px,#800000 242px,#810000 244.5px,#9f0000 248.5px,#d70000 255.5px,#fe0000 262px,#ff5050 271.5px,#ffa3a3 284px,#fff 299.5px,#3a3aff 332.5px,#1e1eff 339px,#1919ff 344px,#2727ff 350px,#7171ff 370.5px,#9f9fff 388.5px,#c9c9ff 413px,#f2f2ff 449px,#fffefe 465px,#ffefef 486px)"></i><i style="background:linear-gradient(90deg,#ffe3e3 0px,#fefeff 40px,#d6d6ff 79px,#acacff 106px,#7d7dff 126.5px,#3d3dff 148.5px,#3838ff 154.5px,#44f 160px,#6868ff 167px,#fff 190px,#ff7b7b 210px,#ff3232 219px,#ff0101 224px,#d30000 231px,#850000 240.5px,#800000 242px,#810000 244.5px,#9f0000 248.5px,#d70000 255.5px,#fe0000 262px,#ff5050 271.5px,#ffa4a4 284px,#fff 299.5px,#3b3bff 332px,#2020ff 338.5px,#1a1aff 343.5px,#2727ff 349.5px,#7373ff 370.5px,#a0a0ff 388.5px,#cbcbff 413.5px,#f3f3ff 450px,#fffefe 464.5px,#fee 486px)"></i><i style="background:linear-gradient(90deg,#ffe4e4 0px,#fefeff 39.5px,#d6d6ff 79px,#ababff 106px,#7b7bff 126.5px,#3c3cff 148.5px,#3838ff 154.5px,#4545ff 160px,#6c6cff 167.5px,#fffefe 190px,#ff7a7a 210px,#ff3232 219px,#ff0101 224px,#cf0000 231.5px,#840000 240.5px,#800000 242px,#810000 244.5px,#9f0000 248.5px,#d70000 255.5px,#fe0000 262px,#ff5151 271.5px,#ffa4a4 284px,#fefeff 299.5px,#3b3bff 332px,#2020ff 338.5px,#1c1cff 343.5px,#2929ff 349.5px,#7272ff 370px,#a0a0ff 388px,#cbcbff 413px,#f3f3ff 449.5px,#fffefe 464px,#fee 486px)"></i><i style="background:linear-gradient(90deg,#ffe4e4 0px,#fefeff 39.5px,#d6d6ff 78.5px,#ababff 105.5px,#7c7cff 126px,#3b3bff 148px,#3737ff 154px,#4343ff 159.5px,#6767ff 166.5px,#fdfdff 189.5px,#fffafa 190.5px,#ff7a7a 210px,#ff3232 219px,#f00 224px,#cf0000 231.5px,#840000 240.5px,#800000 242px,#810000 244.5px,#9f0000 248.5px,#d70000 255.5px,#fe0000 262px,#ff4d4d 271px,#ff9e9e 283px,#fffefe 299px,#eef 302px,#3d3dff 331.5px,#22f 338px,#1d1dff 343px,#2929ff 349px,#7474ff 370px,#a1a1ff 388px,#cbcbff 413px,#f4f4ff 449.5px,#fffefe 464px,#fee 486px)"></i><i style="background:linear-gradient(90deg,#ffe4e4 0px,#fefeff 39px,#d6d6ff 78px,#acacff 105px,#7d7dff 125px,#3a3aff 148px,#3636ff 154px,#44f 159.5px,#6b6bff 167px,#fefeff 189.5px,#f88 208px,#ff3a3a 218px,#f00 224px,#cf0000 231.5px,#840000 240.5px,#800000 242px,#810000 244.5px,#9f0000 248.5px,#d70000 255.5px,#fe0000 262px,#ff4d4d 271px,#ff9f9f 283px,#fffefe 299px,#3e3eff 331px,#2323ff 337.5px,#1e1eff 342.5px,#2a2aff 348.5px,#7575ff 370px,#a3a3ff 388.5px,#cdcdff 414px,#f6f6ff 451.5px,#fffefe 463.5px,#ffeded 486px)"></i><i style="background:linear-gradient(90deg,#ffe5e5 0px,#fefeff 38.5px,#d5d5ff 78px,#ababff 105px,#7c7cff 125px,#3a3aff 147.5px,#3636ff 153.5px,#4242ff 159px,#6969ff 166.5px,#fff 189.5px,#ff7d7d 209.5px,#ff3131 219px,#f00 224px,#cf0000 231.5px,#840000 240.5px,#800000 242px,#810000 244.5px,#9f0000 248.5px,#d70000 255.5px,#fe0000 262px,#ff4e4e 271px,#ff9f9f 283px,#fff 299px,#4040ff 330.5px,#2525ff 337px,#1f1fff 342px,#2a2aff 348px,#7676ff 370px,#a4a4ff 388.5px,#ceceff 414px,#f7f7ff 451.5px,#fffefe 463px,#ffeded 486px)"></i><i style="background:linear-gradient(90deg,#ffe5e5 0px,#fefeff 38px,#d5d5ff 77.5px,#ababff 104.5px,#7c7cff 124.5px,#3a3aff 147px,#3535ff 153px,#4141ff 158.5px,#6464ff 165.5px,#fffefe 189.5px,#ff7979 210px,#ff3131 219px,#f00 224px,#cf0000 231.5px,#840000 240.5px,#800000 242px,#810000 244.5px,#9f0000 248.5px,#d80000 255.5px,#fe0000 262px,#ff4a4a 270.5px,#f99 282px,#fefeff 299px,#4242ff 330px,#2626ff 336.5px,#2020ff 341.5px,#2a2aff 347.5px,#7878ff 370px,#a5a5ff 388.5px,#cfcfff 414.5px,#f8f8ff 452.5px,#fffefe 462.5px,#ffeded 486px)"></i><i style="background:linear-gradient(90deg,#ffe5e5 0px,#fefeff 37.5px,#d5d5ff 77px,#ababff 104px,#7d7dff 124px,#3939ff 147px,#3434ff 153px,#4141ff 158.5px,#6868ff 166px,#fdfdff 189px,#fffbfb 190px,#ff7878 210px,#ff3030 219px,#f00 224px,#cf0000 231.5px,#840000 240.5px,#800000 242px,#810000 244.5px,#9f0000 248.5px,#d80000 255.5px,#fe0000 262px,#ff4a4a 270.5px,#ff9a9a 282px,#fffdfd 298.5px,#fbfbff 299.5px,#44f 329.5px,#2828ff 336px,#2121ff 341px,#2b2bff 347px,#7979ff 370px,#a7a7ff 389px,#d0d0ff 415px,#f9f9ff 453.5px,#fffefe 462px,#ffecec 486px)"></i><i style="background:linear-gradient(90deg,#ffe6e6 0px,#fefeff 37px,#d6d6ff 76.5px,#ababff 103.5px,#7d7dff 123.5px,#3838ff 146.5px,#33f 152.5px,#4040ff 158px,#66f 165.5px,#fefeff 189px,#ffe4e4 193.5px,#ff7474 210.5px,#ff2c2c 219.5px,#f00 224px,#cf0000 231.5px,#840000 240.5px,#800000 242px,#810000 244.5px,#9f0000 248.5px,#d80000 255.5px,#fe0000 262px,#ff4b4b 270.5px,#ff9a9a 282px,#fffefe 298.5px,#e2e2ff 303.5px,#4343ff 329.5px,#2828ff 336px,#22f 341px,#2c2cff 347px,#7a7aff 370px,#a7a7ff 389px,#d2d2ff 415.5px,#fafaff 454.5px,#fffefe 461.5px,#ffecec 486px)"></i><i style="background:linear-gradient(90deg,#ffe6e6 0px,#fefeff 36.5px,#d6d6ff 76px,#ababff 103px,#7d7dff 123px,#3737ff 146.5px,#33f 152.5px,#4040ff 158px,#6767ff 165.5px,#fefeff 189px,#ff7e7e 209px,#ff3434 218.5px,#f00 224px,#cf0000 231.5px,#840000 240.5px,#800000 242px,#810000 244.5px,#9f0000 248.5px,#d80000 255.5px,#f00 262px,#ff4747 270px,#ff9494 281px,#fffefe 298.5px,#4545ff 329px,#2929ff 335.5px,#2323ff 340.5px,#2d2dff 346.5px,#7b7bff 370px,#a8a8ff 389px,#d2d2ff 415.5px,#fbfbff 454.5px,#fffdfd 461.5px,#ffecec 486px)"></i><i style="background:linear-gradient(90deg,#ffe6e6 0px,#fefeff 36px,#d6d6ff 75.5px,#acacff 102.5px,#7e7eff 122.5px,#3737ff 146px,#3232ff 152px,#3f3fff 157.5px,#6565ff 165px,#fff 189px,#f77 210px,#ff3030 219px,#fe0000 224px,#cf0000 231.5px,#840000 240.5px,#800000 242px,#810000 244.5px,#9f0000 248.5px,#d80000 255.5px,#f00 262px,#ff4747 270px,#ff9595 281px,#fff 298.5px,#4747ff 328.5px,#2b2bff 335px,#2323ff 340px,#2d2dff 346px,#7d7dff 370px,#aaf 389.5px,#d4d4ff 416.5px,#fdfdff 456.5px,#fffdfd 462px,#ffebeb 486px)"></i><i style="background:linear-gradient(90deg,#ffe7e7 0px,#fefeff 35.5px,#d6d6ff 75px,#acacff 102px,#7e7eff 122px,#3636ff 146px,#3232ff 152px,#3f3fff 157.5px,#66f 165px,#fffefe 189px,#ff7a7a 209.5px,#ff2f2f 219px,#fe0000 224px,#cf0000 231.5px,#840000 240.5px,#800000 242px,#810000 244.5px,#9f0000 248.5px,#d80000 255.5px,#f00 262px,#ff4848 270px,#ff9595 281px,#fefeff 298.5px,#4949ff 328px,#2c2cff 334.5px,#2424ff 339.5px,#2d2dff 345.5px,#7e7eff 370px,#ababff 389.5px,#d5d5ff 416.5px,#fdfdff 456.5px,#fffcfc 463px,#ffebeb 486px)"></i><i style="background:linear-gradient(90deg,#ffe7e7 0px,#fefeff 35px,#d6d6ff 74.5px,#acacff 101.5px,#7e7eff 121.5px,#3535ff 145.5px,#3131ff 151.5px,#3d3dff 157px,#6363ff 164.5px,#fdfdff 188.5px,#fff7f7 190px,#ff7676 210px,#ff2f2f 219px,#fe0000 224px,#cf0000 231.5px,#840000 240.5px,#800000 242px,#810000 244.5px,#9f0000 248.5px,#d80000 255.5px,#f00 262px,#f44 269.5px,#ff9292 280.5px,#fffdfd 298px,#fbfbff 299px,#4848ff 328px,#2c2cff 334.5px,#2525ff 339.5px,#2f2fff 345.5px,#7e7eff 369.5px,#ababff 389px,#d5d5ff 416px,#fdfdff 456px,#fffcfc 462.5px,#ffebeb 486px)"></i><i style="background:linear-gradient(90deg,#ffe7e7 0px,#fefeff 34.5px,#d6d6ff 74px,#acacff 101px,#7e7eff 121px,#3434ff 145.5px,#3030ff 151.5px,#3e3eff 157px,#6767ff 165px,#fefeff 188.5px,#ff8787 207.5px,#ff3c3c 217.5px,#fe0000 224px,#cf0000 231.5px,#840000 240.5px,#800000 242px,#810000 244.5px,#9f0000 248.5px,#d80000 255.5px,#f00 262px,#f44 269.5px,#ff9393 280.5px,#fffefe 298px,#8c8cff 316.5px,#4242ff 329px,#2b2bff 335px,#2626ff 340px,#33f 346.5px,#7d7dff 369px,#ababff 388.5px,#d5d5ff 415.5px,#fdfdff 455.5px,#fffcfc 462px,#ffebeb 486px)"></i><i style="background:linear-gradient(90deg,#ffe7e7 0px,#fefeff 34px,#d6d6ff 73.5px,#acacff 100.5px,#7f7fff 120.5px,#3434ff 145px,#2f2fff 151px,#3c3cff 156.5px,#6262ff 164px,#fff 188.5px,#ff7979 209.5px,#f33 218.5px,#fe0000 224px,#ce0000 231.5px,#840000 240.5px,#800000 242px,#810000 244.5px,#9f0000 248.5px,#d80000 255.5px,#f00 262px,#f44 269.5px,#ff9393 280.5px,#fff 298px,#4949ff 327.5px,#2e2eff 334px,#2727ff 339px,#3131ff 345px,#8080ff 369.5px,#adadff 389.5px,#d7d7ff 417px,#fff 457px,#ffeaea 486px)"></i><i style="background:linear-gradient(90deg,#ffe8e8 0px,#fefeff 33.5px,#d5d5ff 73.5px,#acacff 100.5px,#7d7dff 120.5px,#3232ff 145px,#2e2eff 150.5px,#3b3bff 156px,#6060ff 163.5px,#fff 188.5px,#ff7979 209.5px,#f33 218.5px,#fe0000 224px,#ce0000 231.5px,#840000 240.5px,#800000 242px,#810000 244.5px,#9f0000 248.5px,#d80000 255.5px,#f00 262px,#ff4545 269.5px,#ff9393 280.5px,#fff 298px,#4b4bff 327px,#2f2fff 333.5px,#2828ff 338.5px,#3131ff 344.5px,#8181ff 369.5px,#aeaeff 389.5px,#d8d8ff 417.5px,#fff 456.5px,#ffeaea 486px)"></i><i style="background:linear-gradient(90deg,#ffe8e8 0px,#fefeff 33px,#d6d6ff 73px,#acacff 100px,#7e7eff 120px,#3232ff 144.5px,#2d2dff 150px,#3939ff 155.5px,#5e5eff 163px,#fdfdff 188px,#fffbfb 189px,#ff7878 209.5px,#ff3232 218.5px,#fe0000 224px,#ce0000 231.5px,#840000 240.5px,#800000 242px,#810000 244.5px,#9f0000 248.5px,#d80000 255.5px,#ff0101 262px,#ff4545 269.5px,#ff9494 280.5px,#fefeff 298px,#4d4dff 326.5px,#3131ff 333px,#2929ff 338px,#3131ff 344px,#8282ff 369.5px,#b0b0ff 390px,#dadaff 418.5px,#fff 456.5px,#ffeaea 486px)"></i><i style="background:linear-gradient(90deg,#ffe8e8 0px,#fefeff 32.5px,#d6d6ff 72.5px,#acacff 99.5px,#7e7eff 119.5px,#3131ff 144.5px,#2d2dff 150px,#3939ff 155.5px,#5f5fff 163px,#fefeff 188px,#ffe8e8 192px,#ff7474 210px,#ff2e2e 219px,#fe0000 224px,#ce0000 231.5px,#840000 240.5px,#800000 242px,#810000 244.5px,#9f0000 248.5px,#d80000 255.5px,#ff0101 262px,#ff4545 269.5px,#ff9494 280.5px,#fffdfd 297.5px,#f7f7ff 299px,#4f4fff 326px,#3232ff 332.5px,#2a2aff 338px,#3434ff 344.5px,#8282ff 369px,#b0b0ff 389.5px,#d9d9ff 417.5px,#fff 456px,#ffe9e9 486px)"></i><i style="background:linear-gradient(90deg,#ffe9e9 0px,#fefeff 32px,#d6d6ff 72px,#acacff 99px,#7e7eff 119px,#3030ff 144px,#2c2cff 149.5px,#3838ff 155px,#5d5dff 162.5px,#fefeff 188px,#ff7e7e 208.5px,#ff3636 218px,#ff0202 223.5px,#d90000 230px,#9c0000 237.5px,#810000 241px,#810000 244.5px,#9f0000 248.5px,#d80000 255.5px,#ff0101 262px,#ff4646 269.5px,#ff9595 280.5px,#fffefe 297.5px,#4e4eff 326px,#3232ff 332.5px,#2b2bff 338px,#3636ff 344.5px,#8282ff 368.5px,#afafff 389px,#d9d9ff 417px,#fff 455.5px,#ffe9e9 486px)"></i><i style="background:linear-gradient(90deg,#ffe9e9 0px,#fefeff 32px,#d5d5ff 72px,#ababff 99px,#7e7eff 118.5px,#3030ff 143.5px,#2b2bff 149px,#3636ff 154.5px,#5b5bff 162px,#fff 188px,#f77 209.5px,#ff3232 218.5px,#ff0202 223.5px,#d90000 230px,#9c0000 237.5px,#810000 241px,#810000 244.5px,#9f0000 248.5px,#d80000 255.5px,#ff0101 262px,#ff4646 269.5px,#ff9595 280.5px,#fff 297.5px,#5050ff 325.5px,#33f 332px,#2b2bff 337.5px,#3636ff 344px,#8383ff 368.5px,#b0b0ff 389px,#dadaff 417.5px,#fff 455px,#ffe9e9 486px)"></i><i style="background:linear-gradient(90deg,#ffe9e9 0px,#fefeff 31.5px,#d5d5ff 71.5px,#ababff 98.5px,#7f7fff 118px,#2f2fff 143.5px,#2a2aff 149px,#3737ff 154.5px,#5f5fff 162.5px,#fffefe 188px,#f77 209.5px,#ff3131 218.5px,#ff0202 223.5px,#d50000 230.5px,#840000 240.5px,#800000 242px,#810000 244.5px,#9f0000 248.5px,#d80000 255.5px,#ff0101 262px,#ff4646 269.5px,#ff9595 280.5px,#fff 297.5px,#5252ff 325px,#3535ff 331.5px,#2c2cff 337px,#3636ff 343.5px,#8484ff 368.5px,#b1b1ff 389px,#dbdbff 417.5px,#fff 454.5px,#ffe8e8 486px)"></i><i style="background:linear-gradient(90deg,#ffeaea 0px,#fefeff 31px,#d5d5ff 71px,#ababff 98px,#7f7fff 117.5px,#2e2eff 143px,#2929ff 148.5px,#3535ff 154px,#5a5aff 161.5px,#fdfdff 187.5px,#fffbfb 188.5px,#ff7676 209.5px,#ff3131 218.5px,#ff0202 223.5px,#d50000 230.5px,#840000 240.5px,#800000 242px,#810000 244.5px,#9f0000 248.5px,#d80000 255.5px,#ff0202 262px,#ff4646 269.5px,#ff9696 280.5px,#fffdfd 297px,#fbfbff 298px,#5151ff 325px,#3535ff 331.5px,#2d2dff 337px,#3737ff 343.5px,#8585ff 368.5px,#b2b2ff 389px,#dbdbff 417.5px,#fff 454px,#ffe8e8 486px)"></i><i style="background:linear-gradient(90deg,#ffeaea 0px,#fefeff 30.5px,#d5d5ff 70.5px,#acacff 97.5px,#7f7fff 117px,#2d2dff 143px,#2929ff 148.5px,#3535ff 154px,#5e5eff 162px,#fefeff 187.5px,#ff8787 207px,#ff3d3d 217px,#ff0101 223.5px,#d50000 230.5px,#840000 240.5px,#800000 242px,#810000 244.5px,#9f0000 248.5px,#d90000 255.5px,#ff0202 262px,#ff4747 269.5px,#ff9696 280.5px,#fffefe 297px,#eef 300px,#5353ff 324.5px,#3636ff 331px,#2e2eff 336.5px,#3838ff 343px,#8686ff 368.5px,#b3b3ff 389.5px,#ddf 418.5px,#fffefe 454px,#ffe8e8 486px)"></i><i style="background:linear-gradient(90deg,#ffeaea 0px,#fefeff 30px,#d5d5ff 70px,#acacff 97px,#7f7fff 116.5px,#4040ff 136px,#2a2aff 144px,#2929ff 149.5px,#3a3aff 155px,#6e6eff 164.5px,#fff 187.5px,#ff7c7c 208.5px,#ff3535 218px,#ff0101 223.5px,#d50000 230.5px,#840000 240.5px,#800000 242px,#810000 244.5px,#9f0000 248.5px,#d90000 255.5px,#ff0202 262px,#ff4747 269.5px,#ff9797 280.5px,#fffefe 297px,#5252ff 324.5px,#3636ff 331px,#2e2eff 336.5px,#3939ff 343px,#8686ff 368px,#b3b3ff 389px,#ddf 418px,#fffefe 453.5px,#ffe7e7 486px)"></i><i style="background:linear-gradient(90deg,#ffebeb 0px,#fefeff 29.5px,#d5d5ff 69.5px,#acacff 96.5px,#7f7fff 116px,#4343ff 134.5px,#2929ff 143.5px,#2828ff 149px,#3838ff 154.5px,#6c6cff 164px,#fff 187.5px,#ff7979 209px,#ff3030 218.5px,#ff0101 223.5px,#d50000 230.5px,#840000 240.5px,#800000 242px,#810000 244.5px,#9f0000 248.5px,#d90000 255.5px,#ff0202 262px,#ff4747 269.5px,#ff9797 280.5px,#fff 297px,#5454ff 324px,#3737ff 330.5px,#2f2fff 336px,#3939ff 342.5px,#8787ff 368px,#b4b4ff 389px,#dedeff 418px,#fff 453px,#ffe7e7 486px)"></i><i style="background:linear-gradient(90deg,#ffebeb 0px,#fefeff 29px,#d5d5ff 69px,#acacff 96px,#8080ff 115.5px,#4545ff 133.5px,#2929ff 143px,#2727ff 148.5px,#3737ff 154px,#6767ff 163px,#fffefe 187.5px,#ff7878 209px,#ff3030 218.5px,#ff0101 223.5px,#d10000 231px,#840000 240.5px,#800000 242px,#810000 244.5px,#9f0000 248.5px,#d90000 255.5px,#fe0000 261.5px,#ff5454 271px,#ffa8a8 283px,#fefeff 297px,#5656ff 323.5px,#3939ff 330px,#3030ff 335.5px,#3939ff 342px,#88f 368px,#b5b5ff 389px,#dfdfff 418.5px,#fff 452.5px,#ffe7e7 486px)"></i><i style="background:linear-gradient(90deg,#ffebeb 0px,#fefeff 28.5px,#d6d6ff 68.5px,#ababff 96px,#7e7eff 115.5px,#4343ff 133.5px,#2828ff 142.5px,#2626ff 148px,#3535ff 153.5px,#6565ff 162.5px,#fefeff 187px,#fff4f4 189px,#ff7575 209.5px,#ff3030 218.5px,#ff0101 223.5px,#d10000 231px,#840000 240.5px,#800000 242px,#810000 244.5px,#9f0000 248.5px,#d90000 255.5px,#fe0000 261.5px,#ff5454 271px,#ffa8a8 283px,#fffdfd 296.5px,#fafaff 297.5px,#55f 323.5px,#3838ff 330px,#3131ff 335.5px,#3b3bff 342px,#88f 367.5px,#b5b5ff 388.5px,#dfdfff 418px,#fff 452px,#ffe6e6 486px)"></i><i style="background:linear-gradient(90deg,#ffecec 0px,#fefeff 28px,#d6d6ff 68px,#ababff 95.5px,#7f7fff 115px,#4545ff 132.5px,#2828ff 142px,#2525ff 147.5px,#33f 153px,#6363ff 162px,#fefeff 187px,#ff8282 207.5px,#ff3838 217.5px,#f00 223.5px,#d10000 231px,#840000 240.5px,#800000 242px,#810000 244.5px,#9f0000 248.5px,#d90000 255.5px,#fe0000 261.5px,#ff5050 270.5px,#ffa2a2 282px,#fffefe 296.5px,#5454ff 323.5px,#3838ff 330px,#3131ff 335.5px,#3e3eff 342.5px,#88f 367px,#b4b4ff 388px,#dedeff 417px,#fff 451.5px,#ffe6e6 486px)"></i><i style="background:linear-gradient(90deg,#ffecec 0px,#fefeff 27.5px,#d6d6ff 67.5px,#ababff 95px,#7f7fff 114.5px,#4545ff 132px,#2727ff 141.5px,#2323ff 147px,#3232ff 152.5px,#6161ff 161.5px,#fff 187px,#ff7b7b 208.5px,#f33 218px,#f00 223.5px,#d10000 231px,#840000 240.5px,#800000 242px,#810000 244.5px,#a00000 248.5px,#d90000 255.5px,#fe0000 261.5px,#ff5151 270.5px,#ffa3a3 282px,#fff 296.5px,#5656ff 323px,#3a3aff 329.5px,#3232ff 335px,#3c3cff 341.5px,#8a8aff 367.5px,#b7b7ff 389px,#e1e1ff 419px,#fffefe 451.5px,#ffe6e6 486px)"></i><i style="background:linear-gradient(90deg,#ffecec 0px,#fefeff 27px,#d5d5ff 67.5px,#acacff 94.5px,#7f7fff 114px,#4747ff 131px,#2727ff 141px,#22f 146.5px,#3030ff 152px,#5c5cff 160.5px,#fff 187px,#f77 209px,#ff2f2f 218.5px,#f00 223.5px,#d10000 231px,#840000 240.5px,#800000 242px,#810000 244.5px,#a00000 248.5px,#d90000 255.5px,#fe0000 261.5px,#ff5151 270.5px,#ffa3a3 282px,#fff 296.5px,#5858ff 322.5px,#3b3bff 329px,#33f 334.5px,#3c3cff 341px,#8b8bff 367.5px,#b8b8ff 389px,#e1e1ff 419px,#fffefe 451px,#ffe5e5 486px)"></i><i style="background:linear-gradient(90deg,#ffeded 0px,#fefeff 26.5px,#d5d5ff 67px,#acacff 94px,#7f7fff 113.5px,#4747ff 130.5px,#2525ff 141px,#22f 146.5px,#3030ff 152px,#6060ff 161px,#fdfdff 186.5px,#fffbfb 187.5px,#f77 209px,#ff2f2f 218.5px,#f00 223.5px,#d10000 231px,#840000 240.5px,#800000 242px,#810000 244.5px,#a00000 248.5px,#d90000 255.5px,#fe0000 261.5px,#ff4d4d 270px,#ffa1a1 281.5px,#fffdfd 296px,#fbfbff 297px,#5757ff 322.5px,#3b3bff 329px,#3434ff 334.5px,#3f3fff 341.5px,#8b8bff 367px,#b8b8ff 388.5px,#e1e1ff 418.5px,#fffefe 450.5px,#ffe5e5 486px)"></i><i style="background:linear-gradient(90deg,#ffeded 0px,#fefeff 26px,#d5d5ff 66.5px,#acacff 93.5px,#7f7fff 113px,#4949ff 129.5px,#2424ff 140.5px,#2020ff 146px,#2f2fff 151.5px,#5e5eff 160.5px,#fefeff 186.5px,#fee 189.5px,#ff7373 209.5px,#ff2e2e 218.5px,#f00 223.5px,#d10000 231px,#840000 240.5px,#800000 242px,#810000 244.5px,#a00000 248.5px,#d90000 255.5px,#fe0000 261.5px,#ff4e4e 270px,#ffa1a1 281.5px,#fffefe 296px,#f0f0ff 298.5px,#5959ff 322px,#3c3cff 328.5px,#3434ff 334px,#3e3eff 340.5px,#8c8cff 367px,#b9b9ff 389px,#e3e3ff 419.5px,#fffefe 450px,#ffe5e5 486px)"></i><i style="background:linear-gradient(90deg,#ffeded 0px,#fefeff 25.5px,#d5d5ff 66px,#ababff 93.5px,#7e7eff 113px,#4848ff 129.5px,#2424ff 140px,#1f1fff 145.5px,#2d2dff 151px,#5c5cff 160px,#fefeff 186.5px,#ff8080 207.5px,#ff3737 217.5px,#f00 223.5px,#d10000 231px,#840000 240.5px,#800000 242px,#810000 244.5px,#a00000 248.5px,#d90000 255.5px,#fe0000 261.5px,#ff4a4a 269.5px,#ff9b9b 280.5px,#fffefe 296px,#5858ff 322px,#3c3cff 328.5px,#3535ff 334px,#4040ff 341px,#8c8cff 366.5px,#b9b9ff 388.5px,#e2e2ff 418.5px,#fffefe 449.5px,#ffe5e5 486px)"></i><i style="background:linear-gradient(90deg,#fee 0px,#fefeff 25px,#d5d5ff 65.5px,#ababff 93px,#7e7eff 112.5px,#4a4aff 128.5px,#2323ff 139.5px,#1e1eff 145px,#2929ff 150px,#5151ff 158px,#fff 186.5px,#ff7979 208.5px,#ff3232 218px,#f00 223.5px,#d10000 231px,#840000 240.5px,#800000 242px,#810000 244.5px,#a00000 248.5px,#d90000 255.5px,#f00 261.5px,#ff4a4a 269.5px,#ff9b9b 280.5px,#fff 296px,#5a5aff 321.5px,#3d3dff 328px,#3636ff 333.5px,#4040ff 340.5px,#8d8dff 366.5px,#babaff 388.5px,#e3e3ff 419px,#fffefe 449px,#ffe4e4 486px)"></i><i style="background:linear-gradient(90deg,#fee 0px,#fefeff 24.5px,#d5d5ff 65px,#ababff 92.5px,#7f7fff 112px,#4a4aff 128px,#22f 139.5px,#1d1dff 144.5px,#2828ff 149.5px,#4f4fff 157.5px,#fffefe 186.5px,#ff7575 209px,#ff2e2e 218.5px,#f00 223.5px,#d10000 231px,#840000 240.5px,#800000 242px,#810000 244.5px,#a00000 248.5px,#da0000 255.5px,#f00 261.5px,#ff4b4b 269.5px,#ff9c9c 280.5px,#fefeff 296px,#5c5cff 321px,#3f3fff 327.5px,#3636ff 333px,#3f3fff 339.5px,#8f8fff 367px,#bbf 389px,#e4e4ff 419.5px,#fffefe 448.5px,#ffe4e4 486px)"></i><i style="background:linear-gradient(90deg,#fee 0px,#fefeff 24px,#d5d5ff 64.5px,#ababff 92px,#7f7fff 111.5px,#4a4aff 127.5px,#2121ff 139px,#1c1cff 144px,#2626ff 149px,#4d4dff 157px,#fdfdff 186px,#fffbfb 187px,#ff7575 209px,#ff2e2e 218.5px,#fe0000 223.5px,#d10000 231px,#840000 240.5px,#800000 242px,#810000 244.5px,#a00000 248.5px,#da0000 255.5px,#f00 261.5px,#ff4747 269px,#ff9696 279.5px,#fffdfd 295.5px,#f7f7ff 297px,#5b5bff 321px,#3e3eff 327.5px,#3737ff 333px,#4242ff 340px,#8e8eff 366.5px,#bbf 388.5px,#e4e4ff 419px,#fffefe 448px,#ffe4e4 486px)"></i><i style="background:linear-gradient(90deg,#ffefef 0px,#fefeff 23.5px,#d5d5ff 64px,#acacff 91.5px,#7f7fff 111px,#4c4cff 126.5px,#2121ff 138.5px,#1b1bff 143.5px,#2424ff 148.5px,#4848ff 156px,#fefeff 186px,#ffe3e3 191px,#ff7171 209.5px,#ff2d2d 218.5px,#fe0000 223.5px,#d10000 231px,#840000 240.5px,#800000 242px,#810000 244.5px,#a00000 248.5px,#da0000 255.5px,#f00 261.5px,#ff4747 269px,#ff9696 279.5px,#fffefe 295.5px,#5a5aff 321px,#4040ff 327px,#3838ff 332.5px,#4242ff 339.5px,#8e8eff 366px,#bbf 388px,#e4e4ff 418.5px,#fffefe 447.5px,#ffe3e3 486px)"></i><i style="background:linear-gradient(90deg,#ffefef 0px,#fefeff 23px,#d6d6ff 63.5px,#acacff 91px,#7f7fff 110.5px,#4c4cff 126px,#1f1fff 138.5px,#1a1aff 143.5px,#2525ff 148.5px,#4c4cff 156.5px,#fefeff 186px,#ff7e7e 207.5px,#ff3535 217.5px,#fe0000 223.5px,#d10000 231px,#840000 240.5px,#800000 242px,#810000 244.5px,#a00000 248.5px,#da0000 255.5px,#f00 261.5px,#ff4343 268.5px,#ff9393 279px,#fff 295.5px,#5c5cff 320.5px,#4141ff 326.5px,#3838ff 332px,#4141ff 338.5px,#9090ff 366.5px,#bdbdff 389px,#e6e6ff 420px,#fffefe 447.5px,#ffe3e3 486px)"></i><i style="background:linear-gradient(90deg,#ffefef 0px,#fefeff 22.5px,#d6d6ff 63px,#acacff 90.5px,#7f7fff 110px,#4c4cff 125.5px,#1e1eff 138px,#1818ff 143px,#2323ff 148px,#4a4aff 156px,#fff 186px,#f77 208.5px,#ff3131 218px,#fe0000 223.5px,#d10000 231px,#840000 240.5px,#800000 242px,#810000 244.5px,#a00000 248.5px,#da0000 255.5px,#f00 261.5px,#f44 268.5px,#ff9494 279px,#fefeff 295.5px,#5e5eff 320px,#4141ff 326.5px,#3939ff 332px,#4343ff 339px,#9090ff 366px,#bdbdff 388.5px,#e6e6ff 419.5px,#fffefe 447px,#ffe3e3 486px)"></i><i style="background:linear-gradient(90deg,#fff0f0 0px,#fefeff 22px,#d6d6ff 62.5px,#acacff 90px,#7f7fff 109.5px,#4c4cff 125px,#1d1dff 137.5px,#1717ff 142.5px,#2121ff 147.5px,#4848ff 155.5px,#fffefe 186px,#f77 208.5px,#ff3131 218px,#fe0000 223.5px,#d10000 231px,#840000 240.5px,#800000 242px,#810000 244.5px,#a00000 248.5px,#da0000 255.5px,#ff0101 261.5px,#f44 268.5px,#ff9494 279px,#fffdfd 295px,#fafaff 296px,#5d5dff 320px,#4242ff 326px,#3939ff 331.5px,#4242ff 338px,#9191ff 366px,#bebeff 388.5px,#e7e7ff 420px,#fffefe 446.5px,#ffe2e2 486px)"></i><i style="background:linear-gradient(90deg,#fff0f0 0px,#fefeff 21.5px,#d6d6ff 62px,#acacff 89.5px,#8080ff 109px,#4e4eff 124px,#1c1cff 137.5px,#1616ff 142.5px,#2121ff 147.5px,#4c4cff 156px,#fdfdff 185.5px,#fffbfb 186.5px,#f77 208.5px,#ff3131 218px,#fe0000 223.5px,#d10000 231px,#840000 240.5px,#800000 242px,#810000 244.5px,#a00000 248.5px,#da0000 255.5px,#ff0101 261.5px,#f44 268.5px,#ff9494 279px,#fffefe 295px,#d2d2ff 302px,#5f5fff 319.5px,#44f 325.5px,#3a3aff 331px,#4242ff 337.5px,#9292ff 366px,#bebeff 388.5px,#e8e8ff 420px,#fffefe 446px,#ffe2e2 486px)"></i><i style="background:linear-gradient(90deg,#fff0f0 0px,#fefeff 21px,#d5d5ff 62px,#ababff 89.5px,#8080ff 108.5px,#4e4eff 123.5px,#1b1bff 137px,#1515ff 142px,#1f1fff 147px,#4a4aff 155.5px,#fefeff 185.5px,#ffd7d7 192.5px,#ff6c6c 210px,#ff2828 219px,#fe0000 223.5px,#d10000 231px,#840000 240.5px,#800000 242px,#810000 244.5px,#a00000 248.5px,#da0000 255.5px,#ff0101 261.5px,#ff4545 268.5px,#ff9595 279px,#fff 295px,#5e5eff 319.5px,#4343ff 325.5px,#3b3bff 331px,#44f 338px,#9292ff 365.5px,#bebeff 388px,#e8e8ff 419.5px,#fffefe 445.5px,#ffe2e2 486px)"></i><i style="background:linear-gradient(90deg,#fff1f1 0px,#fefeff 20.5px,#d5d5ff 61.5px,#ababff 89px,#8080ff 108px,#4e4eff 123px,#1a1aff 136.5px,#1313ff 141.5px,#1e1eff 146.5px,#4545ff 154.5px,#fefeff 185.5px,#ff7d7d 207.5px,#ff3434 217.5px,#fe0000 223.5px,#d10000 231px,#840000 240.5px,#800000 242px,#810000 244.5px,#a00000 248.5px,#da0000 255.5px,#ff0101 261.5px,#ff4545 268.5px,#ff9595 279px,#fff 295px,#6060ff 319px,#4545ff 325px,#3b3bff 330.5px,#4343ff 337px,#9494ff 366px,#c0c0ff 389px,#eaeaff 421px,#fffefe 445px,#ffe2e2 486px)"></i><i style="background:linear-gradient(90deg,#fff1f1 0px,#fefeff 20px,#d5d5ff 61px,#ababff 88.5px,#8080ff 107.5px,#4f4fff 122.5px,#1818ff 136.5px,#1212ff 141.5px,#1e1eff 146.5px,#4c4cff 155.5px,#fff 185.5px,#ff7676 208.5px,#ff3030 218px,#fe0000 223.5px,#d10000 231px,#840000 240.5px,#800000 242px,#810000 244.5px,#a00000 248.5px,#da0000 255.5px,#ff0202 261.5px,#ff4545 268.5px,#ff9696 279px,#fffdfd 294.5px,#fbfbff 295.5px,#6262ff 318.5px,#44f 325px,#3c3cff 330.5px,#4646ff 337.5px,#9494ff 365.5px,#c0c0ff 388.5px,#eaeaff 420.5px,#fffefe 444.5px,#ffe1e1 486px)"></i><i style="background:linear-gradient(90deg,#fff1f1 0px,#fefeff 19.5px,#d5d5ff 60.5px,#acacff 88px,#8080ff 107px,#4f4fff 122px,#1818ff 136px,#11f 141px,#1c1cff 146px,#4747ff 154.5px,#fffefe 185.5px,#ff7575 208.5px,#ff3030 218px,#fe0000 223.5px,#d10000 231px,#840000 240.5px,#800000 242px,#810000 244.5px,#a00000 248.5px,#da0000 255.5px,#ff0202 261.5px,#ff4646 268.5px,#ff9696 279px,#fffefe 294.5px,#f3f3ff 296.5px,#6161ff 318.5px,#4646ff 324.5px,#3c3cff 330px,#4646ff 337px,#9494ff 365.5px,#c1c1ff 388.5px,#eaeaff 420.5px,#fffefe 444px,#ffe1e1 486px)"></i><i style="background:linear-gradient(90deg,#fff2f2 0px,#fefeff 19px,#d5d5ff 60px,#acacff 87.5px,#8181ff 106.5px,#5151ff 121px,#1515ff 136px,#1010ff 141px,#1c1cff 146px,#4e4eff 155.5px,#fdfdff 185px,#fffbfb 186px,#ff7575 208.5px,#ff3030 218px,#fe0000 223.5px,#d00000 231px,#840000 240.5px,#800000 242px,#820000 244.5px,#a00000 248.5px,#db0000 255.5px,#ff0202 261.5px,#ff4646 268.5px,#ff9797 279px,#fffefe 294.5px,#6060ff 318.5px,#4545ff 324.5px,#3d3dff 330px,#4747ff 337px,#9494ff 365px,#c1c1ff 388px,#eaeaff 420px,#fffefe 443.5px,#ffe1e1 486px)"></i><i style="background:linear-gradient(90deg,#fff2f2 0px,#fefeff 18.5px,#d5d5ff 59.5px,#acacff 87px,#8181ff 106px,#5151ff 120.5px,#1515ff 135.5px,#0e0eff 140.5px,#1a1aff 145.5px,#4c4cff 155px,#fefeff 185px,#ffe0e0 190.5px,#ff6e6e 209.5px,#ff2b2b 218.5px,#ff0202 223px,#d70000 230px,#9b0000 237.5px,#820000 241px,#820000 244.5px,#a00000 248.5px,#db0000 255.5px,#ff0202 261.5px,#ff4646 268.5px,#ff9797 279px,#fff 294.5px,#6262ff 318px,#4747ff 324px,#3e3eff 329.5px,#4747ff 336.5px,#9595ff 365px,#c1c1ff 388px,#eaeaff 420px,#fffefe 443.5px,#ffe0e0 486px)"></i><i style="background:linear-gradient(90deg,#fff2f2 0px,#fefeff 18px,#d5d5ff 59px,#acacff 86.5px,#8181ff 105.5px,#5151ff 120px,#1212ff 135.5px,#0d0dff 140px,#1616ff 144.5px,#3e3eff 152.5px,#fefeff 185px,#ff7e7e 207px,#ff3737 217px,#ff0202 223px,#d70000 230px,#9b0000 237.5px,#820000 241px,#820000 244.5px,#a00000 248.5px,#db0000 255.5px,#fe0000 261px,#ff5858 270.5px,#ffb0b0 282.5px,#fefeff 294.5px,#6464ff 317.5px,#4848ff 323.5px,#3e3eff 329px,#4646ff 335.5px,#9797ff 365.5px,#c4c4ff 389px,#ececff 421.5px,#fffefe 443px,#ffe0e0 486px)"></i><i style="background:linear-gradient(90deg,#fff3f3 0px,#fefeff 17.5px,#d6d6ff 58.5px,#acacff 86px,#8181ff 105px,#5151ff 119.5px,#1212ff 135px,#0b0bff 139.5px,#1414ff 144px,#3c3cff 152px,#fff 185px,#f77 208px,#f33 217.5px,#ff0202 223px,#d70000 230px,#9b0000 237.5px,#820000 241px,#820000 244.5px,#a10000 248.5px,#db0000 255.5px,#fe0000 261px,#ff5454 270px,#faa 281.5px,#fffdfd 294px,#f7f7ff 295.5px,#6363ff 317.5px,#4848ff 323.5px,#3f3fff 329px,#4848ff 336px,#9696ff 364.5px,#c3c3ff 388px,#ececff 420.5px,#fffefe 442.5px,#ffe0e0 486px)"></i><i style="background:linear-gradient(90deg,#fff3f3 0px,#fefeff 17.5px,#d5d5ff 58.5px,#ababff 86px,#8080ff 105px,#4f4fff 119.5px,#0f0fff 135px,#0a0aff 139.5px,#1414ff 144px,#4040ff 152.5px,#fff 185px,#ff7474 208.5px,#ff2f2f 218px,#ff0202 223px,#d70000 230px,#9b0000 237.5px,#820000 241px,#820000 244.5px,#a10000 248.5px,#db0000 255.5px,#fe0000 261px,#ff5454 270px,#faa 281.5px,#fffefe 294px,#6262ff 317.5px,#4747ff 323.5px,#3f3fff 329px,#4949ff 336px,#9797ff 364.5px,#c3c3ff 388px,#ececff 420.5px,#fffefe 442px,#ffe0e0 486px)"></i><i style="background:linear-gradient(90deg,#fff3f3 0px,#fefeff 17px,#d5d5ff 58px,#ababff 85.5px,#8080ff 104.5px,#5252ff 118.5px,#0f0fff 134.5px,#0808ff 139px,#1212ff 143.5px,#3e3eff 152px,#fffefe 185px,#ff7474 208.5px,#ff2f2f 218px,#ff0101 223px,#d70000 230px,#9b0000 237.5px,#820000 241px,#820000 244.5px,#a10000 248.5px,#db0000 255.5px,#fe0000 261px,#f55 270px,#ffabab 281.5px,#fff 294px,#6464ff 317px,#4949ff 323px,#4040ff 328.5px,#4949ff 335.5px,#9797ff 364.5px,#c4c4ff 388px,#ededff 420.5px,#fffefe 441.5px,#ffdfdf 486px)"></i><i style="background:linear-gradient(90deg,#fff4f4 0px,#fefeff 16.5px,#d5d5ff 57.5px,#ababff 85px,#8080ff 104px,#5252ff 118px,#0e0eff 134px,#0707ff 138.5px,#1010ff 143px,#3c3cff 151.5px,#fefeff 184.5px,#ffecec 188px,#ff7373 208.5px,#ff2e2e 218px,#ff0101 223px,#d70000 230px,#9b0000 237.5px,#820000 241px,#800000 244px,#930000 247px,#d80000 255px,#fe0000 261px,#ff5151 269.5px,#ffa5a5 280.5px,#fefeff 294px,#66f 316.5px,#4a4aff 322.5px,#4141ff 328px,#4949ff 335px,#9898ff 364.5px,#c4c4ff 388px,#eef 421px,#fffefe 441px,#ffdfdf 486px)"></i><i style="background:linear-gradient(90deg,#fff4f4 0px,#fefeff 16px,#d5d5ff 57px,#acacff 84.5px,#8080ff 103.5px,#5252ff 117.5px,#0b0bff 134px,#0505ff 138.5px,#1010ff 143px,#4343ff 152.5px,#fefeff 184.5px,#ff7d7d 207px,#ff3636 217px,#ff0101 223px,#d40000 230.5px,#840000 240.5px,#800000 242px,#820000 244.5px,#a10000 248.5px,#db0000 255.5px,#fe0000 261px,#ff5151 269.5px,#ffa5a5 280.5px,#fffdfd 293.5px,#fafaff 294.5px,#6565ff 316.5px,#4a4aff 322.5px,#4141ff 328px,#4a4aff 335px,#9898ff 364px,#c4c4ff 387.5px,#ededff 420px,#fffefe 440.5px,#ffdfdf 486px)"></i><i style="background:linear-gradient(90deg,#fff5f5 0px,#fefeff 15.5px,#d5d5ff 56.5px,#acacff 84px,#8181ff 103px,#5252ff 117px,#0a0aff 133.5px,#0404ff 138px,#0e0eff 142.5px,#3e3eff 151.5px,#fff 184.5px,#ff7676 208px,#ff3232 217.5px,#ff0101 223px,#d40000 230.5px,#840000 240.5px,#800000 242px,#820000 244.5px,#a10000 248.5px,#db0000 255.5px,#fe0000 261px,#ff4d4d 269px,#ffa2a2 280px,#fffefe 293.5px,#6464ff 316.5px,#4949ff 322.5px,#4242ff 328px,#4b4bff 335px,#99f 364px,#c6c6ff 388px,#eef 421px,#fffefe 440px,#ffdede 486px)"></i><i style="background:linear-gradient(90deg,#fff5f5 0px,#fefeff 15px,#d5d5ff 56px,#acacff 83.5px,#8181ff 102.5px,#5252ff 116.5px,#0808ff 133.5px,#0202ff 138px,#0e0eff 142.5px,#4e4eff 154px,#fff 184.5px,#ff7676 208px,#ff3232 217.5px,#ff0101 223px,#d40000 230.5px,#840000 240.5px,#800000 242px,#820000 244.5px,#a10000 248.5px,#db0000 255.5px,#f00 261px,#ff4e4e 269px,#ffa3a3 280px,#fff 293.5px,#66f 316px,#4b4bff 322px,#4242ff 327.5px,#4b4bff 334.5px,#9a9aff 364px,#c6c6ff 388px,#efefff 421px,#fffefe 440px,#ffdede 486px)"></i><i style="background:linear-gradient(90deg,#fff5f5 0px,#fefeff 14.5px,#d5d5ff 55.5px,#acacff 83px,#8181ff 102px,#5252ff 116px,#0707ff 133px,#00f 137.5px,#0c0cff 142px,#4949ff 153px,#fffefe 184.5px,#ff7575 208px,#ff3232 217.5px,#ff0101 223px,#d40000 230.5px,#840000 240.5px,#800000 242px,#820000 244.5px,#a10000 248.5px,#dc0000 255.5px,#f00 261px,#ff4a4a 268.5px,#ff9c9c 279px,#fefeff 293.5px,#6868ff 315.5px,#4c4cff 321.5px,#4343ff 327px,#4b4bff 334px,#9a9aff 364px,#c7c7ff 388px,#f0f0ff 421.5px,#fffefe 439.5px,#ffdede 486px)"></i><i style="background:linear-gradient(90deg,#fff6f6 0px,#fefeff 14px,#d5d5ff 55px,#acacff 82.5px,#8181ff 101.5px,#5353ff 115.5px,#0404ff 133px,#0000fe 137px,#0606ff 140.5px,#2929ff 147.5px,#fefeff 184px,#fff5f5 186px,#ff7272 208.5px,#ff2d2d 218px,#ff0101 223px,#d40000 230.5px,#840000 240.5px,#800000 242px,#820000 244.5px,#a10000 248.5px,#dc0000 255.5px,#f00 261px,#ff4a4a 268.5px,#ff9d9d 279px,#fffdfd 293px,#fafaff 294px,#6a6aff 315px,#4d4dff 321px,#4343ff 326.5px,#4b4bff 333.5px,#9b9bff 364px,#c7c7ff 388px,#f0f0ff 421.5px,#fffefe 439px,#ffdede 486px)"></i><i style="background:linear-gradient(90deg,#fff6f6 0px,#fefeff 13.5px,#d5d5ff 54.5px,#acacff 82px,#8181ff 101px,#5353ff 115px,#0303ff 132.5px,#0000fd 137px,#0404ff 140px,#2727ff 147px,#fefeff 184px,#ff7e7e 206.5px,#ff3535 217px,#f00 223px,#d40000 230.5px,#840000 240.5px,#800000 242px,#820000 244.5px,#a10000 248.5px,#dc0000 255.5px,#f00 261px,#ff4646 268px,#ff9696 278px,#fffefe 293px,#66f 315.5px,#4b4bff 321.5px,#44f 327px,#4f4fff 334.5px,#9b9bff 363.5px,#c7c7ff 387.5px,#f0f0ff 421px,#fffefe 438.5px,#fdd 486px)"></i><i style="background:linear-gradient(90deg,#fff6f6 0px,#fefeff 13px,#d5d5ff 54px,#acacff 81.5px,#8181ff 100.5px,#5353ff 114.5px,#00f 132.5px,#0000fc 137.5px,#0303ff 140px,#2e2eff 148px,#fff 184px,#ff7878 207.5px,#ff3131 217.5px,#f00 223px,#d40000 230.5px,#840000 240.5px,#800000 242px,#820000 244.5px,#a10000 248.5px,#dc0000 255.5px,#f00 261px,#ff4747 268px,#ff9797 278px,#fff 293px,#6868ff 315px,#4d4dff 321px,#44f 326.5px,#4d4dff 333.5px,#9c9cff 363.5px,#c9c9ff 388px,#f1f1ff 421.5px,#fffefe 438px,#fdd 486px)"></i><i style="background:linear-gradient(90deg,#fff7f7 0px,#fefeff 12.5px,#d5d5ff 54px,#ababff 81.5px,#8080ff 100.5px,#5353ff 114px,#1515ff 127px,#0000fe 132px,#0000fb 137px,#0303ff 140px,#3838ff 149.5px,#fff 184px,#ff7474 208px,#ff3131 217.5px,#f00 223px,#d40000 230.5px,#840000 240.5px,#800000 242.5px,#820000 244.5px,#a10000 248.5px,#dc0000 255.5px,#ff0101 261px,#ff4747 268px,#ff9797 278px,#fefeff 293px,#6a6aff 314.5px,#4e4eff 320.5px,#4545ff 326px,#4d4dff 333px,#9d9dff 363.5px,#c9c9ff 388px,#f2f2ff 422px,#fffefe 437.5px,#fdd 486px)"></i><i style="background:linear-gradient(90deg,#fff7f7 0px,#fefeff 12px,#d5d5ff 53.5px,#acacff 81px,#8080ff 100px,#5353ff 113.5px,#1a1aff 125.5px,#00f 131px,#0000f9 136px,#0202ff 140px,#fffefe 184px,#ff7474 208px,#ff3131 217.5px,#f00 223px,#d40000 230.5px,#840000 240.5px,#800000 242.5px,#820000 244.5px,#a10000 248.5px,#dc0000 255.5px,#ff0101 261px,#ff4747 268px,#ff9898 278px,#fffdfd 292.5px,#fafaff 293.5px,#6c6cff 314px,#4f4fff 320px,#4545ff 325.5px,#4d4dff 332.5px,#9d9dff 363.5px,#cacaff 388px,#f2f2ff 422px,#fffefe 437px,#fdd 486px)"></i><i style="background:linear-gradient(90deg,#fff7f7 0px,#fefeff 11.5px,#d5d5ff 53px,#acacff 80.5px,#8181ff 99.5px,#5353ff 113px,#1d1dff 124.5px,#0000fe 130.5px,#0000f7 135.5px,#0202ff 140px,#e1e1ff 178.5px,#fdfdff 183.5px,#fff8f8 185px,#ff7474 208px,#ff3030 217.5px,#f00 223px,#d00000 231px,#840000 240.5px,#800000 242.5px,#820000 244.5px,#a10000 248.5px,#dc0000 255.5px,#ff0101 261px,#ff4848 268px,#ff9c9c 278.5px,#fffefe 292.5px,#6b6bff 314px,#4f4fff 320px,#4646ff 325.5px,#4e4eff 332.5px,#9d9dff 363px,#c9c9ff 387.5px,#f2f2ff 421.5px,#fffefe 437px,#ffdcdc 486px)"></i><i style="background:linear-gradient(90deg,#fff8f8 0px,#fefeff 11px,#d5d5ff 52.5px,#acacff 80px,#8181ff 99px,#5454ff 112.5px,#1d1dff 124px,#00f 129.5px,#0000f6 134.5px,#0202ff 140px,#9e9eff 166.5px,#fefeff 183.5px,#ff8383 205.5px,#ff3c3c 216px,#f00 223px,#d00000 231px,#840000 240.5px,#800000 242.5px,#820000 244.5px,#a10000 248.5px,#dc0000 255.5px,#ff0101 261px,#ff4848 268px,#ff9d9d 278.5px,#fff 292.5px,#6d6dff 313.5px,#5050ff 319.5px,#4646ff 325px,#4e4eff 332px,#9f9fff 363.5px,#cbcbff 388.5px,#f4f4ff 423px,#fffefe 436.5px,#ffdcdc 486px)"></i><i style="background:linear-gradient(90deg,#fff8f8 0px,#fefeff 10.5px,#d5d5ff 52px,#acacff 79.5px,#8181ff 98.5px,#5454ff 112px,#1f1fff 123px,#0000fe 129px,#0000f4 134px,#0000fb 138.5px,#0202ff 140px,#88f 162.5px,#fefeff 183.5px,#ff7979 207px,#ff3434 217px,#f00 223px,#d00000 231px,#840000 240.5px,#800000 242.5px,#820000 244.5px,#a20000 248.5px,#d00 255.5px,#ff0202 261px,#ff4949 268px,#ff9d9d 278.5px,#fefeff 292.5px,#6c6cff 313.5px,#5050ff 319.5px,#4747ff 325px,#4f4fff 332px,#9f9fff 363px,#cbcbff 388px,#f4f4ff 422.5px,#fffefe 436px,#ffdcdc 486px)"></i><i style="background:linear-gradient(90deg,#fff8f8 0px,#fefeff 10px,#d5d5ff 51.5px,#acacff 79px,#8181ff 98px,#5454ff 111.5px,#1f1fff 122.5px,#0000fe 128.5px,#0000f3 133.5px,#0000fa 138px,#0202ff 140px,#7878ff 159.5px,#fff 183.5px,#ff7373 208px,#ff3030 217.5px,#f00 223px,#d00000 231px,#850000 240.5px,#800000 242.5px,#820000 244.5px,#a20000 248.5px,#d00 255.5px,#ff0202 261px,#ff4949 268px,#ff9e9e 278.5px,#fffdfd 292px,#fafaff 293px,#6e6eff 313px,#5151ff 319px,#4747ff 324.5px,#4f4fff 331.5px,#9f9fff 363px,#ccf 388px,#f4f4ff 422.5px,#fffefe 435.5px,#ffdbdb 486px)"></i><i style="background:linear-gradient(90deg,#fff9f9 0px,#fefeff 10px,#d5d5ff 51.5px,#ababff 79px,#8080ff 98px,#5454ff 111px,#22f 121.5px,#00f 127.5px,#0000f2 132.5px,#0000f6 137px,#00f 139.5px,#7070ff 158px,#fffefe 183.5px,#ff7373 208px,#ff3030 217.5px,#f00 223px,#d00000 231px,#850000 240.5px,#800000 242.5px,#820000 244.5px,#a20000 248.5px,#d00 255.5px,#ff0202 261px,#ff4949 268px,#ff9e9e 278.5px,#fffefe 292px,#6d6dff 313px,#5050ff 319px,#4848ff 324.5px,#5151ff 332px,#9f9fff 362.5px,#ccf 387.5px,#f4f4ff 422px,#fffefe 435px,#ffdbdb 486px)"></i><i style="background:linear-gradient(90deg,#fff9f9 0px,#fefeff 9.5px,#d5d5ff 51px,#ababff 78.5px,#8080ff 97.5px,#55f 110.5px,#22f 121px,#0000fe 127px,#0000f0 132px,#0000f3 136px,#00f 139.5px,#66f 156px,#fffefe 183.5px,#ff7272 208px,#ff3030 217.5px,#f00 223px,#d00000 231px,#850000 240.5px,#800000 242.5px,#820000 244.5px,#a20000 248.5px,#d00 255.5px,#fd0000 260.5px,#ff1313 262.5px,#ff5b5b 270px,#ffb8b8 282px,#fff 292px,#6f6fff 312.5px,#5252ff 318.5px,#4848ff 324px,#5050ff 331px,#a1a1ff 363px,#cdcdff 388px,#f6f6ff 423px,#fffefe 434.5px,#ffdbdb 486px)"></i><i style="background:linear-gradient(90deg,#fff9f9 0px,#fefeff 9px,#d5d5ff 50.5px,#acacff 78px,#8080ff 97px,#55f 110px,#2525ff 120px,#0000fe 126.5px,#00e 132px,#0000f2 136px,#00f 139.5px,#5f5fff 154.5px,#fefeff 183px,#ffe7e7 187.5px,#ff6f6f 208.5px,#ff2b2b 218px,#f00 223px,#d00000 231px,#850000 240.5px,#800000 242.5px,#830000 244.5px,#a20000 248.5px,#d00 255.5px,#fe0000 260.5px,#ff5858 269.5px,#ffb2b2 281px,#fefeff 292px,#6e6eff 312.5px,#5151ff 318.5px,#4949ff 324px,#5252ff 331.5px,#a1a1ff 362.5px,#cdcdff 387.5px,#f5f5ff 422px,#fffefe 434.5px,#ffdbdb 486px)"></i><i style="background:linear-gradient(90deg,#fffafa 0px,#fefeff 8.5px,#d5d5ff 50px,#acacff 77.5px,#8181ff 96.5px,#55f 109.5px,#2525ff 119.5px,#0101ff 125.5px,#0000ed 131px,#0000ef 135px,#0101ff 139.5px,#5a5aff 153.5px,#fefeff 183px,#ff7b7b 206.5px,#f33 217px,#f00 223px,#d00000 231px,#850000 240.5px,#800000 242.5px,#830000 244.5px,#a20000 248.5px,#d00 255.5px,#fe0000 260.5px,#ff5858 269.5px,#ffb2b2 281px,#fffdfd 291.5px,#fafaff 292.5px,#7070ff 312px,#5353ff 318px,#4949ff 323.5px,#5151ff 330.5px,#a1a1ff 362.5px,#ceceff 388px,#f6f6ff 423px,#fffefe 434px,#ffdada 486px)"></i><i style="background:linear-gradient(90deg,#fffafa 0px,#fefeff 8px,#d5d5ff 49.5px,#acacff 77px,#8181ff 96px,#55f 109px,#2525ff 119px,#00f 125px,#0000ec 130.5px,#0000ed 134.5px,#0101ff 139.5px,#55f 152.5px,#fff 183px,#ff7575 207.5px,#ff2f2f 217.5px,#fe0000 223px,#d00000 231px,#850000 240.5px,#800000 242.5px,#830000 244.5px,#a20000 248.5px,#d00 255.5px,#fe0000 260.5px,#ff5454 269px,#ffacac 280px,#fffefe 291.5px,#6f6fff 312px,#5252ff 318px,#4a4aff 323.5px,#5353ff 331px,#a1a1ff 362px,#cdcdff 387px,#f5f5ff 421.5px,#fffefe 433.5px,#ffdada 486px)"></i><i style="background:linear-gradient(90deg,#fffafa 0px,#fefeff 7.5px,#d5d5ff 49px,#acacff 76.5px,#8181ff 95.5px,#5656ff 108.5px,#2525ff 118.5px,#00f 124.5px,#0000ea 130px,#0000eb 134px,#0202ff 139.5px,#5050ff 151.5px,#fff 183px,#ff7474 207.5px,#ff2f2f 217.5px,#fe0000 223px,#d00000 231px,#850000 240.5px,#800000 242.5px,#830000 244.5px,#a20000 248.5px,#d00 255.5px,#fe0000 260.5px,#f55 269px,#ffacac 280px,#fff 291.5px,#7171ff 311.5px,#5353ff 317.5px,#4a4aff 323px,#5353ff 330.5px,#a2a2ff 362px,#ceceff 387.5px,#f7f7ff 422.5px,#fffefe 433px,#ffdada 486px)"></i><i style="background:linear-gradient(90deg,#fffbfb 0px,#fefeff 7px,#d5d5ff 48.5px,#acacff 76px,#8181ff 95px,#5656ff 108px,#2828ff 117.5px,#0000fe 124px,#0000e8 130px,#0000e8 133.5px,#0000fe 139px,#5252ff 151.5px,#fffefe 183px,#ff7474 207.5px,#ff2f2f 217.5px,#fe0000 223px,#d00000 231px,#850000 240.5px,#800000 242.5px,#830000 244.5px,#a20000 248.5px,#de0000 255.5px,#fe0000 260.5px,#ff5050 268.5px,#ffa6a6 279px,#fefeff 291.5px,#7070ff 311.5px,#55f 317px,#4b4bff 322px,#5151ff 329px,#a5a5ff 363px,#d1d1ff 389px,#f9f9ff 425px,#fffefe 433px,#ffdada 486px)"></i><i style="background:linear-gradient(90deg,#fffbfb 0px,#fefeff 6.5px,#d5d5ff 48px,#acacff 75.5px,#8282ff 94.5px,#5656ff 107.5px,#2828ff 117px,#0000fe 123.5px,#0000e6 129.5px,#0000e6 133px,#0000fc 138.5px,#0404ff 139.5px,#4a4aff 150px,#fefeff 182.5px,#fff8f8 184px,#ff7171 208px,#ff2f2f 217.5px,#fe0000 223px,#d00000 231px,#850000 240.5px,#800000 242.5px,#830000 244.5px,#a20000 248.5px,#de0000 255.5px,#fe0000 260.5px,#ff5151 268.5px,#faa 279.5px,#fffdfd 291px,#fafaff 292px,#7272ff 311px,#5454ff 317px,#4b4bff 322px,#5252ff 329px,#a4a4ff 362.5px,#d0d0ff 388px,#f8f8ff 423.5px,#fffefe 432.5px,#ffd9d9 486px)"></i><i style="background:linear-gradient(90deg,#fffbfb 0px,#fdfdff 6.5px,#d5d5ff 48px,#ababff 75.5px,#8282ff 94px,#5656ff 107px,#2828ff 116.5px,#0000fe 123px,#0000e5 129px,#0000e4 132.5px,#0000f8 137.5px,#0101ff 139px,#4545ff 149px,#fefeff 182.5px,#ff8080 205.5px,#ff3a3a 216px,#fe0000 223px,#d00000 231px,#850000 240.5px,#800000 242.5px,#830000 244.5px,#a20000 248.5px,#de0000 255.5px,#f00 260.5px,#ff4d4d 268px,#ffa3a3 278.5px,#fffefe 291px,#7070ff 311px,#55f 316.5px,#4c4cff 321.5px,#5252ff 328.5px,#a5a5ff 362.5px,#d1d1ff 388.5px,#fafaff 424.5px,#fffefe 432px,#ffd9d9 486px)"></i><i style="background:linear-gradient(90deg,#fffcfc 0px,#fdfdff 6px,#d5d5ff 47.5px,#acacff 75px,#8282ff 93.5px,#5757ff 106.5px,#2929ff 116px,#0000fe 122.5px,#0000e3 128.5px,#0000e1 132px,#0000f6 137px,#0202ff 139px,#4343ff 148.5px,#fefeff 182.5px,#ff7a7a 206.5px,#ff3232 217px,#fe0000 223px,#d00000 231px,#850000 240.5px,#800000 242.5px,#830000 244.5px,#a20000 248.5px,#de0000 255.5px,#f00 260.5px,#ff4d4d 268px,#ffa4a4 278.5px,#fff 291px,#7272ff 310.5px,#5757ff 316px,#4c4cff 321px,#5252ff 328px,#a7a7ff 363px,#d2d2ff 389px,#fbfbff 425.5px,#fffefe 432px,#ffd9d9 486px)"></i><i style="background:linear-gradient(90deg,#fffcfc 0px,#fdfdff 6px,#d4d4ff 47.5px,#ababff 75px,#8181ff 93.5px,#55f 106.5px,#2626ff 116px,#0000fd 122px,#0000e0 128.5px,#0000e0 132px,#0000f9 137.5px,#0303ff 139px,#44f 148.5px,#fff 182.5px,#ff7373 207.5px,#ff2e2e 217.5px,#fe0000 223px,#d00000 231px,#850000 240.5px,#800000 242.5px,#830000 244.5px,#a30000 248.5px,#de0000 255.5px,#f00 260.5px,#ff4949 267.5px,#ff9d9d 277.5px,#fefeff 291px,#7171ff 310.5px,#5656ff 316px,#4d4dff 321px,#5353ff 328px,#a6a6ff 362.5px,#d2d2ff 388.5px,#fafaff 424.5px,#fffefe 431.5px,#ffd9d9 486px)"></i><i style="background:linear-gradient(90deg,#fffdfd 0px,#fdfdff 6px,#d4d4ff 47.5px,#aaf 75px,#8080ff 93.5px,#55f 106px,#2929ff 115px,#0000fd 121.5px,#0000de 128px,#0000dc 131px,#0000eb 135px,#00f 138.5px,#3f3fff 147.5px,#fdfdff 182px,#fff 182.5px,#ff7373 207.5px,#ff2e2e 217.5px,#fe0000 223px,#d00000 231px,#850000 240.5px,#800000 242.5px,#830000 244.5px,#a30000 248.5px,#de0000 255.5px,#f00 260.5px,#ff4a4a 267.5px,#ff9d9d 277.5px,#fffdfd 290.5px,#fafaff 291.5px,#7373ff 310px,#5858ff 315.5px,#4d4dff 320.5px,#5353ff 327.5px,#a7a7ff 362.5px,#d3d3ff 388.5px,#fbfbff 425px,#fffefe 431px,#ffd8d8 486px)"></i><i style="background:linear-gradient(90deg,#fffdfd 0px,#fcfcff 6px,#d4d4ff 47px,#aaf 74.5px,#8080ff 93px,#5656ff 105.5px,#2929ff 114.5px,#0101ff 120.5px,#0000dc 127.5px,#0000d9 130.5px,#0000e9 134.5px,#0101ff 138.5px,#3e3eff 147px,#d2d2ff 174px,#fffefe 182.5px,#ff7373 207.5px,#ff2e2e 217.5px,#fe0000 223px,#d00000 231px,#850000 240.5px,#800000 242.5px,#830000 244.5px,#a30000 248.5px,#de0000 255.5px,#ff0101 260.5px,#ff4a4a 267.5px,#ff9e9e 277.5px,#fffefe 290.5px,#7272ff 310px,#5757ff 315.5px,#4e4eff 320.5px,#5454ff 327.5px,#a8a8ff 362.5px,#d4d4ff 389px,#fcfcff 425.5px,#fffdfd 431px,#ffd8d8 486px)"></i><i style="background:linear-gradient(90deg,#fffdfd 0px,#fcfcff 6px,#d3d3ff 47px,#aaf 74px,#8080ff 92.5px,#5656ff 105px,#2a2aff 114px,#0101ff 120px,#0000d9 127.5px,#0000d8 130.5px,#0000ec 135px,#0202ff 138.5px,#3f3fff 147px,#fefeff 182px,#fff0f0 185px,#ff6f6f 208px,#ff2e2e 217.5px,#fe0000 223px,#d00000 231px,#850000 240.5px,#800000 242.5px,#830000 244.5px,#a30000 248.5px,#de0000 255.5px,#ff0101 260.5px,#ff4a4a 267.5px,#ff9f9f 277.5px,#fff 290.5px,#7474ff 309.5px,#5858ff 315px,#4e4eff 320px,#5454ff 327px,#a8a8ff 362.5px,#d4d4ff 389px,#fdfdff 426px,#fffdfd 431px,#ffd8d8 486px)"></i><i style="background:linear-gradient(90deg,#fffefe 0px,#fafaff 7.5px,#d1d1ff 48px,#a8a8ff 75px,#7e7eff 93px,#5252ff 105.5px,#2424ff 114.5px,#0101ff 119.5px,#0000d7 127px,#0000d5 130px,#0000e6 134px,#00f 138px,#3d3dff 146.5px,#aaf 166.5px,#fefeff 182px,#ff7e7e 205.5px,#ff3939 216px,#fe0000 223px,#d00000 231px,#850000 240.5px,#800000 242.5px,#830000 244.5px,#a30000 248.5px,#df0000 255.5px,#ff0101 260.5px,#ff4b4b 267.5px,#ff9f9f 277.5px,#fefeff 290.5px,#7373ff 309.5px,#5858ff 315px,#4e4eff 320px,#55f 327px,#a9a9ff 362.5px,#d5d5ff 389px,#fdfdff 426px,#fffcfc 431.5px,#ffd8d8 486px)"></i><i style="background:linear-gradient(90deg,#fffefe 0px,#ebebff 24.5px,#c2c2ff 59px,#9898ff 82px,#6f6fff 97.5px,#4343ff 108.5px,#1414ff 116.5px,#0101ff 119px,#0000d3 127px,#0000d3 130px,#0000ea 134.5px,#0101ff 138px,#3838ff 145.5px,#8e8eff 161px,#fff 182px,#ff7878 206.5px,#ff3131 217px,#fe0000 223px,#d00000 231px,#850000 240.5px,#800000 242.5px,#830000 244.5px,#a30000 248.5px,#df0000 255.5px,#ff0202 260.5px,#ff4b4b 267.5px,#ffa0a0 277.5px,#fffdfd 290px,#f9f9ff 291px,#7575ff 309px,#5959ff 314.5px,#4f4fff 319.5px,#55f 326.5px,#aaf 362.5px,#d5d5ff 389px,#fdfdff 426px,#fffcfc 432px,#ffd7d7 486px)"></i><i style="background:linear-gradient(90deg,#fffefe 0px,#e0e0ff 35px,#b6b6ff 66px,#8d8dff 86.5px,#6363ff 100.5px,#3636ff 110.5px,#0909ff 117.5px,#0000fd 119px,#0000d1 126.5px,#0000ce 129px,#00d 132.5px,#0202ff 138px,#3939ff 145.5px,#8f8fff 161px,#fff 182px,#ff7272 207.5px,#ff2d2d 217.5px,#fe0000 223px,#d00000 231px,#850000 240.5px,#800000 242.5px,#830000 244.5px,#a30000 248.5px,#df0000 255.5px,#ff0202 260.5px,#ff4c4c 267.5px,#ffa1a1 277.5px,#fffefe 290px,#7474ff 309px,#5959ff 314.5px,#4f4fff 319.5px,#5656ff 326.5px,#a9a9ff 362px,#d5d5ff 388.5px,#fdfdff 425.5px,#fffcfc 431px,#ffd7d7 486px)"></i><i style="background:linear-gradient(90deg,#fff 0px,#dbdbff 39px,#b1b1ff 68.5px,#88f 88px,#5d5dff 101.5px,#3131ff 111px,#0000fd 118.5px,#0000cf 126px,#0000cb 128.5px,#0000d7 131.5px,#0000fe 137.5px,#3a3aff 145.5px,#9292ff 161.5px,#fffefe 182px,#ff7272 207.5px,#ff2d2d 217.5px,#fe0000 223px,#d00000 231px,#850000 240.5px,#800000 242.5px,#830000 244.5px,#a30000 248.5px,#df0000 255.5px,#ff0202 260.5px,#ff4c4c 267.5px,#ffa1a1 277.5px,#fff 290px,#7676ff 308.5px,#5a5aff 314px,#5050ff 319px,#5656ff 326px,#aaf 362px,#d6d6ff 389px,#fefeff 426.5px,#ffd7d7 486px)"></i><i style="background:linear-gradient(90deg,#fff 0px,#d7d7ff 42px,#adadff 70.5px,#8383ff 89.5px,#5858ff 102.5px,#2c2cff 111.5px,#0000fd 118px,#0000cb 126px,#0000c8 128.5px,#0000da 132px,#0101ff 137.5px,#3535ff 144.5px,#8181ff 158px,#fffefe 182px,#ff7171 207.5px,#ff2d2d 217.5px,#fe0000 223px,#d00000 231px,#850000 240.5px,#800000 242.5px,#840000 244.5px,#a30000 248.5px,#df0000 255.5px,#fd0000 260px,#ff0e0e 261.5px,#ff5656 268.5px,#ffb2b2 279.5px,#fffdfd 289.5px,#fefeff 290px,#7575ff 308.5px,#5959ff 314px,#5050ff 319px,#5858ff 326.5px,#aaf 361.5px,#d6d6ff 388.5px,#fefeff 425.5px,#ffd7d7 485.5px,#ffd7d7 486px)"></i><i style="background:linear-gradient(90deg,#fff 0px,#d6d6ff 42.5px,#acacff 70.5px,#8282ff 89.5px,#5858ff 102px,#2c2cff 111px,#0000fd 117.5px,#0000c9 125.5px,#0000c4 128px,#0000d3 131px,#0202ff 137.5px,#3737ff 144.5px,#8282ff 158px,#fefeff 181.5px,#ffd8d8 189px,#ff6b6b 208.5px,#ff2929 218px,#fe0000 223px,#d00000 231px,#850000 240.5px,#800000 242.5px,#840000 244.5px,#a30000 248.5px,#df0000 255.5px,#fd0000 260px,#ff1a1a 262.5px,#ff6464 270px,#ffc9c9 282.5px,#fffdfd 289.5px,#f5f5ff 291px,#77f 308px,#5a5aff 313.5px,#5151ff 318.5px,#5757ff 325.5px,#ababff 362px,#d7d7ff 389px,#fff 426px,#ffd7d7 485.5px,#ffd7d7 486px)"></i><i style="background:linear-gradient(90deg,#fefeff 0px,#d6d6ff 42px,#adadff 70px,#8282ff 89px,#5757ff 102px,#2d2dff 110.5px,#0000fe 117px,#0000c4 125.5px,#0000c1 127.5px,#00c 130px,#00f 137px,#3838ff 144.5px,#8585ff 158.5px,#fefeff 181.5px,#ff7d7d 205.5px,#ff3838 216px,#fe0000 223px,#d00000 231px,#850000 240.5px,#800000 242.5px,#840000 244.5px,#a30000 248.5px,#df0000 255.5px,#fe0000 260px,#ff5c5c 269px,#fbb 280.5px,#fffefe 289.5px,#7575ff 308px,#5a5aff 313.5px,#5151ff 318.5px,#5959ff 326px,#ababff 361.5px,#d7d7ff 388.5px,#fff 425.5px,#ffd7d7 485.5px,#ffd6d6 486px)"></i><i style="background:linear-gradient(90deg,#fefeff 0px,#d5d5ff 42px,#acacff 70px,#8383ff 88.5px,#5757ff 101.5px,#2d2dff 110px,#0000fe 116.5px,#0000bf 125.5px,#0000bd 127.5px,#0000cf 130.5px,#0101ff 137px,#33f 143.5px,#77f 155.5px,#fff 181.5px,#f77 206.5px,#ff3030 217px,#fe0000 223px,#d00000 231px,#850000 240.5px,#800000 242.5px,#840000 244.5px,#a40000 248.5px,#e00000 255.5px,#fe0000 260px,#ff5858 268.5px,#ffb4b4 279.5px,#fff 289.5px,#77f 307.5px,#5b5bff 313px,#5151ff 318px,#5858ff 325px,#adadff 362px,#d9d9ff 389.5px,#fff 425.5px,#ffd8d8 483px,#ffd6d6 486px)"></i><i style="background:linear-gradient(90deg,#fefeff 0px,#d5d5ff 42px,#ababff 70px,#8181ff 88.5px,#5858ff 101px,#2e2eff 109.5px,#0000fe 116px,#0000ce 122.5px,#0000ba 125.5px,#0000ba 127.5px,#0000d4 131px,#0000fe 136.5px,#3b3bff 144.5px,#8a8aff 159px,#fff 181.5px,#ff7474 207px,#ff3030 217px,#fe0000 223px,#d00000 231px,#850000 240.5px,#800000 242.5px,#840000 244.5px,#a40000 248.5px,#e00000 255.5px,#fe0000 260px,#ff5858 268.5px,#ffb4b4 279.5px,#fffdfd 289px,#fdfdff 289.5px,#7676ff 307.5px,#5b5bff 313px,#5252ff 318px,#5a5aff 325.5px,#acacff 361.5px,#d8d8ff 388.5px,#fff 425px,#ffd7d7 483.5px,#ffd6d6 486px)"></i><i style="background:linear-gradient(90deg,#fdfdff 0px,#d4d4ff 42px,#ababff 69.5px,#8282ff 88px,#5858ff 100.5px,#2e2eff 109px,#00f 115.5px,#0000d6 121px,#0000b6 125px,#0000b5 127px,#0000cb 130px,#0000fc 136px,#00f 136.5px,#33f 143px,#7474ff 154.5px,#fffefe 181.5px,#ff7373 207px,#ff3030 217px,#fe0000 223px,#d00000 231px,#850000 240.5px,#800000 243px,#8a0000 245.5px,#e00000 255.5px,#fe0000 260px,#ff5454 268px,#ffadad 278.5px,#fffefe 289px,#e6e6ff 292.5px,#7878ff 307px,#5c5cff 312.5px,#5252ff 317.5px,#5a5aff 325px,#adadff 361.5px,#d9d9ff 389px,#fff 425px,#ffd8d8 482px,#ffd6d6 486px)"></i><i style="background:linear-gradient(90deg,#fdfdff 0px,#d4d4ff 41.5px,#acacff 69px,#8282ff 87.5px,#5858ff 100px,#2f2fff 108.5px,#0505ff 114.5px,#0000fc 115.5px,#0000d1 121px,#0000b3 124.5px,#0000af 126px,#0000b9 128px,#0000f3 134.5px,#0202ff 136.5px,#3434ff 143px,#77f 155px,#fffefe 181.5px,#ff7373 207px,#ff3030 217px,#ff0202 222.5px,#da0000 229.5px,#a40000 236.5px,#860000 240.5px,#800000 243px,#8a0000 245.5px,#e00000 255.5px,#fe0000 260px,#ff5454 268px,#ffb2b2 279px,#fff 289px,#77f 307px,#5b5bff 312.5px,#5252ff 317.5px,#5b5bff 325px,#aeaeff 361.5px,#d9d9ff 389px,#fff 424.5px,#ffd8d8 481.5px,#ffd5d5 486px)"></i><i style="background:linear-gradient(90deg,#fdfdff 0px,#d4d4ff 41.5px,#ababff 69px,#8181ff 87.5px,#5757ff 100px,#2d2dff 108.5px,#0101ff 114.5px,#0000da 119.5px,#0000af 124px,#00a 125.5px,#0000b4 127.5px,#0000f0 134px,#0000fe 136px,#3535ff 143px,#7878ff 155px,#fefeff 181px,#ff9b9b 200px,#ff4d4d 213px,#ff0f0f 221px,#fd0000 223px,#d00000 231px,#860000 240.5px,#800000 243px,#8a0000 245.5px,#e00000 255.5px,#f00 260px,#ff5050 267.5px,#ffabab 278px,#fefeff 289px,#7979ff 306.5px,#5c5cff 312px,#5353ff 317px,#5b5bff 324.5px,#aeaeff 361.5px,#dadaff 389px,#fff 424px,#ffd8d8 481.5px,#ffd5d5 486px)"></i><i style="background:linear-gradient(90deg,#fcfcff 0px,#d4d4ff 41.5px,#aaf 69px,#8080ff 87.5px,#55f 100px,#2a2aff 108.5px,#0000fd 114.5px,#0000d5 119.5px,#0000a8 124px,#0000a5 125.5px,#0000b3 127.5px,#0000ea 133px,#0101ff 136px,#3030ff 142px,#6f6fff 153px,#fefeff 181px,#ff7c7c 205.5px,#ff3737 216px,#ff0202 222.5px,#da0000 229.5px,#a40000 236.5px,#860000 240.5px,#800000 243px,#8a0000 245.5px,#e00000 255.5px,#f00 260px,#ff4c4c 267px,#ffa4a4 277px,#fffdfd 288.5px,#f9f9ff 289.5px,#7878ff 306.5px,#5c5cff 312px,#5353ff 317px,#5c5cff 324.5px,#afafff 361.5px,#dadaff 389px,#fff 424px,#ffd8d8 481px,#ffd5d5 486px)"></i><i style="background:linear-gradient(90deg,#fcfcff 0px,#d3d3ff 41.5px,#a9a9ff 69px,#7f7fff 87.5px,#5454ff 100px,#2828ff 108.5px,#0000fe 114px,#0000d6 119px,#0000a5 123.5px,#00009e 125px,#0000a7 126.5px,#0000e3 132px,#0000fe 135.5px,#3535ff 142.5px,#7575ff 154px,#fff 181px,#ff7575 206.5px,#ff3030 217px,#ff0202 222.5px,#d60000 230px,#9c0000 237.5px,#830000 241px,#800000 243.5px,#8e0000 246px,#e00000 255.5px,#f00 260px,#ff4c4c 267px,#ffa4a4 277px,#fffefe 288.5px,#7676ff 306.5px,#5d5dff 311.5px,#5454ff 316.5px,#5c5cff 324px,#b0b0ff 361.5px,#dbdbff 389.5px,#fff 423.5px,#ffd8d8 480.5px,#ffd5d5 486px)"></i><i style="background:linear-gradient(90deg,#fcfcff 0px,#d3d3ff 41.5px,#aaf 68.5px,#7f7fff 87px,#5454ff 99.5px,#2929ff 108px,#0000fe 113.5px,#0000db 118px,#00009c 123.5px,#009 125px,#0000ac 127px,#0000db 131px,#0101ff 135.5px,#3030ff 141.5px,#6c6cff 152px,#fff 181px,#ff7272 207px,#ff3030 217px,#ff0101 222.5px,#d60000 230px,#9c0000 237.5px,#830000 241px,#800000 243.5px,#8e0000 246px,#e10000 255.5px,#f00 260px,#ff4848 266.5px,#ffa1a1 276.5px,#fff 288.5px,#7878ff 306px,#5e5eff 311px,#5454ff 316px,#5b5bff 323.5px,#b0b0ff 361.5px,#dcdcff 389.5px,#fff 423px,#ffd8d8 479.5px,#ffd5d5 486px)"></i><i style="background:linear-gradient(90deg,#fbfbff 0px,#d3d3ff 41px,#a9a9ff 68.5px,#8080ff 86.5px,#55f 99px,#2929ff 107.5px,#00f 113px,#0000dc 117.5px,#0000b3 121px,#000093 123.5px,#000091 124.5px,#00009e 126px,#0000d2 130px,#0000fa 134.5px,#0303ff 135.5px,#3232ff 141.5px,#6f6fff 152.5px,#fffefe 181px,#ff7272 207px,#ff2f2f 217px,#ff0101 222.5px,#d60000 230px,#9c0000 237.5px,#830000 241px,#810000 243.5px,#8e0000 246px,#e10000 255.5px,#ff0101 260px,#ff4848 266.5px,#ffa2a2 276.5px,#fefeff 288.5px,#7a7aff 305.5px,#5e5eff 311px,#5454ff 316px,#5c5cff 323.5px,#b1b1ff 361.5px,#dcdcff 389.5px,#fff 423px,#ffd8d8 480px,#ffd4d4 486px)"></i><i style="background:linear-gradient(90deg,#fbfbff 0px,#d2d2ff 41px,#a9a9ff 68px,#7f7fff 86.5px,#5656ff 98.5px,#2a2aff 107px,#0101ff 112.5px,#0000e1 116.5px,#0000b9 120px,#00008e 123px,#008 124px,#00008f 125px,#0000cf 129.5px,#0000f4 133.5px,#00f 135px,#3030ff 141px,#6b6bff 151.5px,#fffefe 181px,#ff7272 207px,#ff2f2f 217px,#ff0101 222.5px,#d60000 230px,#9c0000 237.5px,#830000 241px,#810000 243.5px,#8e0000 246px,#e10000 255.5px,#ff0101 260px,#ff4949 266.5px,#ffa2a2 276.5px,#fffdfd 288px,#f9f9ff 289px,#7979ff 305.5px,#5f5fff 310.5px,#55f 315.5px,#5c5cff 323px,#b1b1ff 361.5px,#ddf 389.5px,#fff 422.5px,#ffd8d8 479px,#ffd4d4 486px)"></i><i style="background:linear-gradient(90deg,#fbfbff 0px,#d2d2ff 41px,#a9a9ff 68px,#7f7fff 86px,#5454ff 98.5px,#2b2bff 106.5px,#0000fd 112.5px,#0000d9 117px,#0000b2 120px,#000082 123px,#000080 124px,#000095 125.5px,#0000c5 128.5px,#0000ea 132px,#0202ff 135px,#3131ff 141px,#6c6cff 151.5px,#fefeff 180.5px,#f99 200px,#ff4c4c 213px,#ff0f0f 221px,#ff0101 222.5px,#d60000 230px,#9c0000 237.5px,#830000 241px,#810000 243.5px,#8e0000 246px,#e10000 255.5px,#ff0101 260px,#ff4949 266.5px,#ffa3a3 276.5px,#fffefe 288px,#7b7bff 305px,#6060ff 310px,#55f 315px,#5b5bff 322px,#b3b3ff 362px,#dedeff 390.5px,#fffefe 422.5px,#ffd7d7 479.5px,#ffd4d4 486px)"></i><i style="background:linear-gradient(90deg,#fafaff 0px,#d1d1ff 41px,#a8a8ff 68px,#7e7eff 86px,#55f 98px,#2c2cff 106px,#0000fe 112px,#0000da 116.5px,#0000b3 119.5px,#00007b 122.5px,#000076 123px,#000075 123.5px,#000081 124.5px,#0000b9 127.5px,#0000de 130.5px,#00f 134.5px,#3030ff 140.5px,#6868ff 150.5px,#fefeff 180.5px,#ff7a7a 205.5px,#ff3737 216px,#ff0101 222.5px,#d60000 230px,#9c0000 237.5px,#840000 241px,#810000 243.5px,#8f0000 246px,#e10000 255.5px,#ff0202 260px,#ff4a4a 266.5px,#ffa4a4 276.5px,#fff 288px,#7a7aff 305px,#5f5fff 310px,#55f 315px,#5d5dff 322.5px,#b2b2ff 361.5px,#dedeff 390px,#fff 422px,#ffd8d8 478.5px,#ffd4d4 486px)"></i><i style="background:linear-gradient(90deg,#fafaff 0px,#d1d1ff 40.5px,#a8a8ff 67.5px,#7f7fff 85.5px,#55f 97.5px,#2a2aff 106px,#00f 111.5px,#0000e0 115.5px,#0000bc 118.5px,#000098 120.5px,#00006c 122.5px,#000068 123px,#00006b 123.5px,#0000ab 126.5px,#0000d0 129px,#0000f6 133px,#0202ff 134.5px,#3131ff 140.5px,#6c6cff 151px,#fff 180.5px,#ff7474 206.5px,#ff2f2f 217px,#ff0101 222.5px,#d60000 230px,#9c0000 237.5px,#840000 241px,#810000 243.5px,#8f0000 246px,#e10000 255.5px,#ff0202 260px,#ff4f4f 267px,#ffa9a9 277px,#fffdfd 287.5px,#fdfdff 288px,#7c7cff 304.5px,#6060ff 309.5px,#5656ff 314.5px,#5d5dff 322px,#b4b4ff 362px,#dfdfff 390.5px,#fff 421.5px,#ffd8d8 478px,#ffd3d3 486px)"></i><i style="background:linear-gradient(90deg,#fafaff 0px,#d1d1ff 40.5px,#a8a8ff 67.5px,#7e7eff 85.5px,#5454ff 97.5px,#2b2bff 105.5px,#0000fd 111.5px,#0000dc 115.5px,#0000be 118px,#009 120px,#000063 122px,#00005a 122.5px,#00005b 123px,#000073 124px,#00009a 125.5px,#0000bf 127.5px,#0000e3 130.5px,#00f 134px,#3030ff 140px,#6868ff 150px,#fff 180.5px,#ff7171 207px,#ff2f2f 217px,#ff0101 222.5px,#d60000 230px,#9c0000 237.5px,#840000 241px,#810000 243.5px,#8f0000 246px,#e20000 255.5px,#fd0000 259.5px,#ff0909 260.5px,#f55 267.5px,#ffb2b2 278px,#fffefe 287.5px,#ececff 290px,#7a7aff 304.5px,#6060ff 309.5px,#5656ff 314.5px,#5e5eff 322px,#b4b4ff 361.5px,#dfdfff 390px,#fffefe 421.5px,#ffd8d8 478px,#ffd3d3 486px)"></i><i style="background:linear-gradient(90deg,#f9f9ff 0px,#d1d1ff 40.5px,#a7a7ff 67.5px,#7d7dff 85.5px,#5353ff 97.5px,#2929ff 105.5px,#0000fe 111px,#0000de 115px,#0000c0 117.5px,#00009b 119.5px,#00006f 121px,#00004c 122px,#000051 123px,#000085 124.5px,#0000a9 126px,#0000c9 128px,#00e 131.5px,#0202ff 134px,#3131ff 140px,#6b6bff 150.5px,#fffefe 180.5px,#ff7171 207px,#ff2f2f 217px,#ff0101 222.5px,#d60000 230px,#9c0000 237.5px,#840000 241px,#810000 243.5px,#8f0000 246px,#e20000 255.5px,#fd0000 259.5px,#ff0f0f 261px,#ff5a5a 268px,#fbb 279px,#fff 287.5px,#7c7cff 304px,#6161ff 309px,#5757ff 314px,#5e5eff 321.5px,#b5b5ff 362px,#e1e1ff 391px,#fff 421px,#ffd8d8 477.5px,#ffd3d3 486px)"></i><i style="background:linear-gradient(90deg,#f9f9ff 0px,#d0d0ff 40.5px,#a7a7ff 67px,#7d7dff 85px,#5353ff 97px,#2a2aff 105px,#00f 110.5px,#0000df 114.5px,#0000c2 117px,#00009d 119px,#000082 120px,#00005b 121px,#00004c 121.5px,#00004f 123px,#00007a 124px,#000098 125px,#0000b6 126.5px,#0000d8 129px,#0000fb 133px,#00f 133.5px,#2c2cff 139px,#6262ff 148.5px,#fbfbff 179.5px,#fffefe 180.5px,#ff7171 207px,#ff2f2f 217px,#ff0101 222.5px,#d60000 230px,#9c0000 237.5px,#840000 241px,#810000 243.5px,#8f0000 246px,#e20000 255.5px,#fe0000 259.5px,#ff6060 268.5px,#ffc4c4 280px,#fefeff 287.5px,#7b7bff 304px,#6060ff 309px,#5757ff 314px,#6060ff 322px,#b5b5ff 361.5px,#e0e0ff 390.5px,#fff 420.5px,#ffd8d8 477px,#ffd3d3 486px)"></i><i style="background:linear-gradient(90deg,#f9f9ff 0px,#d0d0ff 40.5px,#a6a6ff 67px,#7c7cff 85px,#5252ff 97px,#2828ff 105px,#0000fd 110.5px,#0000dc 114.5px,#0000bd 117px,#0000a1 118.5px,#000086 119.5px,#000075 120px,#00004c 121px,#00004c 122.5px,#000056 123px,#00006e 123.5px,#000091 124.5px,#0000b2 126px,#0000d6 128.5px,#0000fa 132.5px,#0202ff 133.5px,#3131ff 139.5px,#6b6bff 150px,#f6f6ff 178.5px,#fffefe 180.5px,#ff7171 207px,#ff2f2f 217px,#ff0101 222.5px,#d60000 230px,#9c0000 237.5px,#840000 241px,#810000 243.5px,#8f0000 246px,#e20000 255.5px,#fe0000 259.5px,#ff5b5b 268px,#ffbcbc 279px,#fffdfd 287px,#f9f9ff 288px,#7d7dff 303.5px,#6161ff 308.5px,#5757ff 313px,#5d5dff 320px,#b7b7ff 362.5px,#e2e2ff 391.5px,#fffefe 420.5px,#ffd7d7 477px,#ffd3d3 486px)"></i><i style="background:linear-gradient(90deg,#f9f9ff 0px,#d0d0ff 40px,#a7a7ff 66.5px,#7d7dff 84.5px,#5353ff 96.5px,#2929ff 104.5px,#0000fe 110px,#0000de 114px,#0000c0 116.5px,#0000a5 118px,#00008c 119px,#00007b 119.5px,#00004c 120.5px,#00004c 122.5px,#000078 123.5px,#000098 124.5px,#0000b7 126px,#0000d9 128.5px,#0000fc 132.5px,#00f 133px,#2c2cff 138.5px,#6262ff 148px,#f4f4ff 178px,#fefeff 180px,#ff7c7c 205px,#ff3636 216px,#ff0101 222.5px,#d60000 230px,#9c0000 237.5px,#840000 241px,#810000 243.5px,#8f0000 246px,#e20000 255.5px,#fe0000 259.5px,#ff5757 267.5px,#ffb9b9 278.5px,#fffefe 287px,#7b7bff 303.5px,#6161ff 308.5px,#5757ff 313.5px,#6161ff 321.5px,#b6b6ff 361.5px,#e1e1ff 390.5px,#fffefe 420px,#ffd8d8 476.5px,#ffd2d2 486px)"></i><i style="background:linear-gradient(90deg,#f8f8ff 0px,#cfcfff 40px,#a6a6ff 66.5px,#7c7cff 84.5px,#5151ff 96.5px,#2727ff 104.5px,#0101ff 109.5px,#0000e0 113.5px,#0000c3 116px,#00009e 118px,#000082 119px,#00006f 119.5px,#000056 120px,#00004c 120.5px,#00004c 122px,#000056 122.5px,#000070 123px,#000092 124px,#0000b3 125.5px,#0000d6 128px,#0000fa 132px,#0303ff 133px,#3131ff 139px,#6b6bff 149.5px,#f2f2ff 177.5px,#fff 180px,#ff7676 206px,#ff3232 216.5px,#ff0101 222.5px,#d60000 230px,#9d0000 237.5px,#840000 241px,#810000 243.5px,#8f0000 246px,#e20000 255.5px,#fe0000 259.5px,#ff5858 267.5px,#ffbaba 278.5px,#fff 287px,#7e7eff 303px,#6262ff 308px,#5858ff 312.5px,#5e5eff 319.5px,#b8b8ff 362.5px,#e3e3ff 392px,#fffefe 420px,#ffd7d7 476.5px,#ffd2d2 486px)"></i><i style="background:linear-gradient(90deg,#f8f8ff 0px,#cfcfff 40px,#a6a6ff 66.5px,#7c7cff 84px,#5252ff 96px,#2929ff 104px,#0000fe 109.5px,#00d 113.5px,#0000bf 116px,#0000a4 117.5px,#00008a 118.5px,#000065 119.5px,#00004c 120px,#00004e 122px,#000069 122.5px,#00008d 123.5px,#0000af 125px,#0000d4 127.5px,#0000f9 131.5px,#0101ff 132.5px,#2d2dff 138px,#6262ff 147.5px,#f0f0ff 177px,#fff 180px,#ff7373 206.5px,#ff2e2e 217px,#ff0101 222.5px,#d60000 230px,#9d0000 237.5px,#840000 241px,#810000 243.5px,#8f0000 246px,#e30000 255.5px,#fe0000 259.5px,#ff5353 267px,#ffb2b2 277.5px,#fffcfc 286.5px,#fefeff 287px,#7c7cff 303px,#6161ff 308px,#5858ff 312.5px,#6060ff 320px,#b8b8ff 362px,#e3e3ff 391.5px,#fffefe 419.5px,#ffd7d7 476px,#ffd2d2 486px)"></i><i style="background:linear-gradient(90deg,#f8f8ff 0px,#ceceff 40px,#a5a5ff 66.5px,#7b7bff 84px,#5151ff 96px,#2727ff 104px,#00f 109px,#0000e0 113px,#0000c2 115.5px,#00009e 117.5px,#000084 118.5px,#00004c 120px,#00004d 121.5px,#000078 122.5px,#000096 123.5px,#0000b5 125px,#0000d7 127.5px,#0000fb 131.5px,#0404ff 132.5px,#3232ff 138.5px,#6a6aff 149px,#eef 176.5px,#fff 180px,#ff7373 206.5px,#ff2e2e 217px,#ff0101 222.5px,#d60000 230px,#9d0000 237.5px,#840000 241px,#820000 243.5px,#8f0000 246px,#e30000 255.5px,#f00 259.5px,#ff5454 267px,#ffb3b3 277.5px,#fffdfd 286.5px,#f4f4ff 288px,#7e7eff 302.5px,#6262ff 307.5px,#5959ff 312px,#5f5fff 319px,#b9b9ff 362.5px,#e4e4ff 392px,#fffefe 419px,#ffd8d8 475px,#ffd2d2 486px)"></i><i style="background:linear-gradient(90deg,#f7f7ff 0px,#ceceff 40px,#a4a4ff 66.5px,#7b7bff 84px,#5050ff 96px,#2525ff 104px,#0000fd 109px,#00d 113px,#0000bf 115.5px,#00009a 117.5px,#00006f 119px,#00004e 120px,#00004c 120.5px,#000054 121px,#000086 122.5px,#0000a9 124px,#0000c9 126px,#00e 129.5px,#0202ff 132px,#3030ff 138px,#66f 148px,#ebebff 176px,#fffefe 180px,#ff7373 206.5px,#ff2e2e 217px,#ff0101 222.5px,#d60000 230px,#9d0000 237.5px,#840000 241px,#820000 243.5px,#900000 246px,#e30000 255.5px,#f00 259.5px,#ff4f4f 266.5px,#ffabab 276.5px,#fff 286.5px,#7d7dff 302.5px,#6161ff 307.5px,#5959ff 312px,#6161ff 319.5px,#b9b9ff 362px,#e4e4ff 391.5px,#fffefe 419px,#ffd7d7 475.5px,#ffd2d2 486px)"></i><i style="background:linear-gradient(90deg,#f7f7ff 0px,#ceceff 39.5px,#a5a5ff 66px,#7b7bff 83.5px,#5151ff 95.5px,#2626ff 103.5px,#00f 108.5px,#0000db 113px,#0000bc 115.5px,#000096 117.5px,#000063 119.5px,#00005d 120px,#00005f 120.5px,#00009d 123px,#0000c0 125px,#0000e3 128px,#00f 131.5px,#2f2fff 137.5px,#6565ff 147.5px,#e9e9ff 175.5px,#fefeff 179.5px,#fee 183px,#ff7070 207px,#ff2e2e 217px,#ff0101 222.5px,#d70000 230px,#9d0000 237.5px,#840000 241px,#820000 243.5px,#900000 246px,#e30000 255.5px,#f00 259.5px,#ff4b4b 266px,#ffa8a8 276px,#fefeff 286.5px,#7f7fff 302px,#6262ff 307px,#5959ff 311.5px,#6161ff 319px,#babaff 362px,#e5e5ff 392px,#fffefe 418.5px,#ffd8d8 474.5px,#ffd1d1 486px)"></i><i style="background:linear-gradient(90deg,#f7f7ff 0px,#ceceff 39.5px,#a4a4ff 66px,#7a7aff 83.5px,#4f4fff 95.5px,#2525ff 103.5px,#0000fd 108.5px,#0000d8 113px,#0000b9 115.5px,#000094 117.5px,#000074 119px,#00006d 119.5px,#00006c 120px,#00007b 121px,#0000af 123.5px,#0000d2 126px,#0000f6 130px,#0303ff 131.5px,#3030ff 137.5px,#66f 147.5px,#e7e7ff 175px,#fefeff 179.5px,#ff7e7e 204.5px,#ff3939 215.5px,#ff0101 222.5px,#d70000 230px,#9d0000 237.5px,#840000 241px,#820000 243.5px,#900000 246px,#e30000 255.5px,#ff0101 259.5px,#ff4b4b 266px,#ffa9a9 276px,#fffdfd 286px,#fdfdff 286.5px,#7d7dff 302px,#6262ff 307px,#5959ff 311.5px,#6262ff 319px,#babaff 362px,#e5e5ff 392px,#fffefe 418px,#ffd8d8 474px,#ffd1d1 486px)"></i><i style="background:linear-gradient(90deg,#f6f6ff 0px,#cdcdff 39.5px,#a4a4ff 65.5px,#7b7bff 83px,#5050ff 95px,#2626ff 103px,#00f 108px,#0000db 112.5px,#0000b7 115.5px,#00007b 119px,#000079 119.5px,#000081 120.5px,#0000bd 124px,#0000e0 127px,#0101ff 131px,#2f2fff 137px,#6565ff 147px,#e5e5ff 174.5px,#fff 179.5px,#ff7878 205.5px,#ff3535 216px,#ff0101 222.5px,#d70000 230px,#9d0000 237.5px,#840000 241px,#820000 243.5px,#900000 246px,#e40000 255.5px,#ff0101 259.5px,#ff4c4c 266px,#faa 276px,#fffefe 286px,#afafff 295.5px,#7575ff 303px,#5f5fff 307.5px,#5a5aff 312.5px,#6c6cff 323.5px,#bbf 362.5px,#e6e6ff 392.5px,#fffefe 418px,#ffd7d7 474px,#ffd1d1 486px)"></i><i style="background:linear-gradient(90deg,#f6f6ff 0px,#cdcdff 39.5px,#a4a4ff 65.5px,#7a7aff 83px,#4f4fff 95px,#2525ff 103px,#0000fe 108px,#0000da 112.5px,#0000b5 115.5px,#008 118.5px,#000084 119.5px,#00008d 120.5px,#0000c9 124.5px,#0000f0 128.5px,#0000fe 130.5px,#3131ff 137px,#6868ff 147.5px,#e3e3ff 174px,#fff 179.5px,#ff7272 206.5px,#ff2e2e 217px,#f00 222.5px,#d70000 230px,#9d0000 237.5px,#850000 241px,#820000 243.5px,#900000 246px,#e40000 255.5px,#ff0101 259.5px,#ff4c4c 266px,#faa 276px,#fff 286px,#7e7eff 301.5px,#6464ff 306px,#5a5aff 310.5px,#6161ff 317.5px,#bcbcff 362.5px,#e7e7ff 392.5px,#fffefe 417.5px,#ffd8d8 473.5px,#ffd1d1 486px)"></i><i style="background:linear-gradient(90deg,#f6f6ff 0px,#cdcdff 39.5px,#a3a3ff 65.5px,#7979ff 83px,#4e4eff 95px,#2323ff 103px,#0101ff 107.5px,#00d 112px,#0000b4 115.5px,#000093 118px,#00008e 119px,#000093 120px,#0000d3 125px,#0000fa 129.5px,#0202ff 130.5px,#3030ff 136.5px,#6565ff 146.5px,#e1e1ff 173.5px,#fff 179.5px,#ff7272 206.5px,#ff2e2e 217px,#f00 222.5px,#d30000 230.5px,#870000 240.5px,#810000 243px,#8c0000 245.5px,#e40000 255.5px,#ff0202 259.5px,#ff4d4d 266px,#ffabab 276px,#fffcfc 285.5px,#fefeff 286px,#8080ff 301px,#6363ff 306px,#5a5aff 310.5px,#6363ff 318px,#bcbcff 362.5px,#e7e7ff 393px,#fffefe 417.5px,#ffd7d7 473.5px,#ffd1d1 486px)"></i><i style="background:linear-gradient(90deg,#f6f6ff 0px,#ccf 39.5px,#a3a3ff 65.5px,#7878ff 83px,#4f4fff 94.5px,#2525ff 102.5px,#0000fe 107.5px,#0000dc 112px,#0000a7 116.5px,#009 118px,#009 119.5px,#0000b5 122px,#0000e1 126px,#0101ff 130px,#2e2eff 136px,#6464ff 146px,#e2e2ff 173.5px,#fffefe 179.5px,#ff7272 206.5px,#ff2e2e 217px,#f00 222.5px,#d30000 230.5px,#870000 240.5px,#810000 243px,#8c0000 245.5px,#e40000 255.5px,#ff0202 259.5px,#ff4e4e 266px,#ffacac 276px,#fffdfd 285.5px,#f8f8ff 286.5px,#7e7eff 301px,#6464ff 305.5px,#5a5aff 310px,#6363ff 317.5px,#bdbdff 362.5px,#e8e8ff 393px,#fffefe 417px,#ffd7d7 473px,#ffd0d0 486px)"></i><i style="background:linear-gradient(90deg,#f5f5ff 0px,#ccf 39px,#a3a3ff 65px,#7979ff 82.5px,#4e4eff 94.5px,#2323ff 102.5px,#0000fd 107.5px,#0000d6 112.5px,#0000a1 117.5px,#00009f 119px,#0000b0 121px,#0000e0 125.5px,#0000fe 129.5px,#3030ff 136px,#6767ff 146.5px,#e0e0ff 173px,#fffefe 179.5px,#ff7171 206.5px,#ff2d2d 217px,#f00 222.5px,#d30000 230.5px,#870000 240.5px,#810000 243px,#8d0000 245.5px,#e40000 255.5px,#fd0000 259px,#ff0909 260px,#ff5959 267px,#ffbebe 278px,#fffefe 285.5px,#7d7dff 301px,#6363ff 305.5px,#5b5bff 310px,#6363ff 317.5px,#bdbdff 362.5px,#e8e8ff 393px,#fffefe 416.5px,#ffd7d7 472.5px,#ffd0d0 486px)"></i><i style="background:linear-gradient(90deg,#f5f5ff 0px,#ccf 39px,#a3a3ff 65px,#7878ff 82.5px,#4d4dff 94.5px,#22f 102.5px,#00f 107px,#0000da 112px,#0000a9 117px,#0000a6 118.5px,#0000b3 120.5px,#0000e8 126px,#0202ff 129.5px,#3232ff 136px,#6868ff 146.5px,#dedeff 172.5px,#fefeff 179px,#ff8282 203.5px,#ff3c3c 215px,#f00 222.5px,#d30000 230.5px,#870000 240.5px,#810000 243px,#8d0000 245.5px,#e40000 255.5px,#fd0000 259px,#ff1010 260.5px,#ff5e5e 267.5px,#ffc8c8 279px,#fefeff 285.5px,#7f7fff 300.5px,#6464ff 305px,#5b5bff 309.5px,#6363ff 317px,#bebeff 362.5px,#e9e9ff 393px,#fffefe 416.5px,#ffd7d7 472.5px,#ffd0d0 486px)"></i><i style="background:linear-gradient(90deg,#f5f5ff 0px,#ccf 39px,#a2a2ff 65px,#7878ff 82.5px,#4e4eff 94px,#2424ff 102px,#0000fe 107px,#0000d4 112.5px,#0000b1 116.5px,#0000ac 118px,#0000b5 120px,#0000ef 126.5px,#0101ff 129px,#3131ff 135.5px,#6767ff 146px,#dcdcff 172px,#fefeff 179px,#ff7a7a 205px,#ff3535 216px,#f00 222.5px,#d30000 230.5px,#870000 240.5px,#820000 243px,#8d0000 245.5px,#e50000 255.5px,#fe0000 259px,#ff6464 268px,#ffd2d2 280px,#fffdfd 285px,#fdfdff 285.5px,#7d7dff 300.5px,#6464ff 305px,#5b5bff 309.5px,#6565ff 317.5px,#bebeff 362.5px,#e9e9ff 393.5px,#fffefe 416px,#ffd7d7 472px,#ffd0d0 486px)"></i><i style="background:linear-gradient(90deg,#f4f4ff 0px,#cbcbff 39px,#a1a1ff 65px,#77f 82.5px,#4d4dff 94px,#2323ff 102px,#0000fd 107px,#0000d4 112.5px,#0000b5 116.5px,#0000b4 118.5px,#0000c9 121.5px,#0000f9 127.5px,#00f 128.5px,#3030ff 135px,#66f 145.5px,#dadaff 171.5px,#fff 179px,#f77 205.5px,#ff3535 216px,#f00 222.5px,#d30000 230.5px,#870000 240.5px,#820000 243px,#8d0000 245.5px,#e50000 255.5px,#fe0000 259px,#ff5f5f 267.5px,#ffcaca 279px,#fffefe 285px,#d4d4ff 290px,#7b7bff 300.5px,#6363ff 305px,#5b5bff 309.5px,#6767ff 318px,#c0c0ff 363px,#eaeaff 394px,#fffefe 416px,#ffd7d7 472px,#ffd0d0 486px)"></i><i style="background:linear-gradient(90deg,#f4f4ff 0px,#cbcbff 39px,#a1a1ff 65px,#7676ff 82.5px,#4c4cff 94px,#22f 102px,#0101ff 106.5px,#0000d5 112.5px,#00b 116px,#0000b8 118px,#0000c6 120.5px,#0000fb 127.5px,#0303ff 128.5px,#3232ff 135px,#6969ff 146px,#dadaff 171.5px,#fff 179px,#ff7171 206.5px,#ff2d2d 217px,#f00 222.5px,#d30000 230.5px,#800 240.5px,#820000 243px,#8d0000 245.5px,#e50000 255.5px,#fe0000 259px,#ff5b5b 267px,#ffc2c2 278px,#fff 285px,#7d7dff 300px,#6464ff 304.5px,#5b5bff 309px,#66f 317px,#c0c0ff 363px,#ebebff 394px,#fffefe 415.5px,#ffd8d8 471px,#ffd0d0 486px)"></i><i style="background:linear-gradient(90deg,#f4f4ff 0px,#cacaff 39px,#a0a0ff 65px,#7575ff 82.5px,#4b4bff 94px,#2121ff 102px,#00f 106.5px,#0000c1 115.5px,#0000bd 117.5px,#0000c8 120px,#0000fe 127.5px,#3636ff 135.5px,#6e6eff 147px,#d8d8ff 171px,#fff 179px,#ff7171 206.5px,#ff2d2d 217px,#f00 222.5px,#d30000 230.5px,#800 240.5px,#820000 243px,#8d0000 245.5px,#e50000 255.5px,#fe0000 259px,#ff5c5c 267px,#ffc3c3 278px,#fffcfc 284.5px,#fefeff 285px,#7f7fff 299.5px,#6565ff 304px,#5c5cff 308.5px,#66f 316.5px,#c1c1ff 363px,#ececff 394.5px,#fffefe 415px,#ffd8d8 470.5px,#ffcfcf 486px)"></i><i style="background:linear-gradient(90deg,#f4f4ff 0px,#cacaff 39px,#a1a1ff 64.5px,#7676ff 82px,#4b4bff 94px,#2020ff 102px,#0000fe 106.5px,#0000c7 115px,#0000c3 117.5px,#0000d1 120.5px,#0202ff 127.5px,#3232ff 134.5px,#6969ff 145.5px,#d6d6ff 170.5px,#fffefe 179px,#ff7373 206px,#ff3131 216.5px,#f00 222.5px,#d30000 230.5px,#800 240.5px,#820000 243px,#8d0000 245.5px,#e50000 255.5px,#fe0000 259px,#ff5757 266.5px,#fbb 277px,#fffdfd 284.5px,#f8f8ff 285.5px,#7e7eff 299.5px,#6464ff 304px,#5c5cff 308.5px,#6868ff 317px,#c1c1ff 363px,#ececff 394.5px,#fffefe 415px,#ffd7d7 470.5px,#ffcfcf 486px)"></i><i style="background:linear-gradient(90deg,#f3f3ff 0px,#cacaff 38.5px,#a0a0ff 64.5px,#7676ff 82px,#4a4aff 94px,#1f1fff 102px,#0000fe 106.5px,#0000ca 115px,#0000c8 117.5px,#0000d9 121px,#0101ff 127px,#3131ff 134px,#6868ff 145px,#d4d4ff 170px,#fefeff 178.5px,#ffefef 182px,#ff7070 206.5px,#ff2d2d 217px,#f00 222.5px,#d40000 230.5px,#800 240.5px,#820000 243px,#8d0000 245.5px,#e60000 255.5px,#f00 259px,#ff5252 266px,#ffb8b8 276.5px,#fffefe 284.5px,#8080ff 299px,#6565ff 303.5px,#5c5cff 307.5px,#6464ff 314.5px,#c2c2ff 363px,#ececff 394.5px,#fffefe 414.5px,#ffd8d8 470px,#ffcfcf 486px)"></i><i style="background:linear-gradient(90deg,#f3f3ff 0px,#cacaff 38.5px,#a0a0ff 64.5px,#7575ff 82px,#4949ff 94px,#1b1bff 102.5px,#0000fd 106.5px,#0000cf 114.5px,#00c 117px,#0000da 120.5px,#00f 126.5px,#33f 134px,#6b6bff 145.5px,#d5d5ff 170px,#fefeff 178.5px,#ff7e7e 204px,#ff3838 215.5px,#f00 222.5px,#d40000 230.5px,#800 240.5px,#820000 243px,#8d0000 245.5px,#e60000 255.5px,#f00 259px,#ff4e4e 265.5px,#ffafaf 275.5px,#fefeff 284.5px,#7e7eff 299px,#6464ff 303.5px,#5c5cff 308px,#6a6aff 317px,#c3c3ff 363.5px,#ededff 395px,#fffefe 414px,#ffd8d8 469.5px,#ffcfcf 486px)"></i><i style="background:linear-gradient(90deg,#f3f3ff 0px,#cacaff 38.5px,#a0a0ff 64px,#7676ff 81.5px,#4a4aff 93.5px,#1d1dff 102px,#0000fd 106.5px,#0000d4 114px,#0000d0 117px,#0000e1 121px,#00f 126px,#3232ff 133.5px,#6a6aff 145px,#d3d3ff 169.5px,#fefeff 178.5px,#ff7979 205px,#ff3434 216px,#f00 222.5px,#d40000 230.5px,#800 240.5px,#820000 243px,#8e0000 245.5px,#e60000 255.5px,#f00 259px,#ff4e4e 265.5px,#ffb0b0 275.5px,#fffdfd 284px,#fdfdff 284.5px,#8080ff 298.5px,#6565ff 303px,#5c5cff 307px,#6565ff 314px,#c3c3ff 363px,#ededff 394.5px,#fffefe 414px,#ffd7d7 469.5px,#ffcfcf 486px)"></i><i style="background:linear-gradient(90deg,#f3f3ff 0px,#c9c9ff 38.5px,#a0a0ff 64px,#7575ff 81.5px,#4a4aff 93.5px,#1d1dff 102px,#0000fd 106.5px,#0000d7 114px,#0000d5 117px,#0000e8 121.5px,#00f 125.5px,#3737ff 134px,#7171ff 146.5px,#d3d3ff 169.5px,#fff 178.5px,#ff7373 206px,#ff3030 216.5px,#f00 222.5px,#d40000 230.5px,#800 240.5px,#820000 243px,#8e0000 245.5px,#e60000 255.5px,#ff0101 259px,#ff4f4f 265.5px,#ffb1b1 275.5px,#fffefe 284px,#c5c5ff 290.5px,#7b7bff 299px,#6464ff 303px,#5c5cff 307px,#6767ff 314.5px,#c3c3ff 363px,#eef 395px,#fffefe 413.5px,#ffd8d8 469px,#ffcece 486px)"></i><i style="background:linear-gradient(90deg,#f2f2ff 0px,#c9c9ff 38.5px,#9f9fff 64px,#7575ff 81.5px,#4949ff 93.5px,#1c1cff 102px,#0000fd 106.5px,#0000db 113.5px,#0000d8 116.5px,#0000e6 120.5px,#00f 125px,#3939ff 134px,#7474ff 147px,#d4d4ff 169.5px,#fff 178.5px,#ff7373 206px,#ff3030 216.5px,#f00 222.5px,#d40000 230.5px,#800 240.5px,#820000 243px,#8e0000 245.5px,#e60000 255.5px,#ff0101 259px,#ff4f4f 265.5px,#ffb2b2 275.5px,#fff 284px,#8080ff 298px,#6565ff 302.5px,#5d5dff 306.5px,#66f 313.5px,#c4c4ff 363px,#eef 395px,#fffefe 413.5px,#ffd7d7 469px,#ffcece 486px)"></i><i style="background:linear-gradient(90deg,#f2f2ff 0px,#c9c9ff 38.5px,#9f9fff 64px,#7474ff 81.5px,#4949ff 93.5px,#1919ff 102.5px,#0000fd 106.5px,#0000de 113.5px,#00d 117px,#0000f4 122.5px,#00f 124.5px,#3838ff 133.5px,#7373ff 146.5px,#d2d2ff 169px,#fffefe 178.5px,#ff7272 206px,#ff3030 216.5px,#f00 222.5px,#d40000 230.5px,#800 240.5px,#830000 243px,#8e0000 245.5px,#e70000 255.5px,#ff0202 259px,#ff5050 265.5px,#ffb3b3 275.5px,#fffcfc 283.5px,#fefeff 284px,#7f7fff 298px,#66f 302px,#5d5dff 306px,#66f 313px,#c4c4ff 363px,#eef 395px,#fffefe 413px,#ffd7d7 468.5px,#ffcece 486px)"></i><i style="background:linear-gradient(90deg,#f2f2ff 0px,#c8c8ff 38.5px,#9f9fff 64px,#7474ff 81.5px,#4848ff 93.5px,#1919ff 102.5px,#0000fe 106.5px,#0000e2 113px,#0000e0 116.5px,#0000f2 121.5px,#00f 124px,#3a3aff 133.5px,#7676ff 147px,#d2d2ff 169px,#fffefe 178.5px,#ff7272 206px,#ff3030 216.5px,#f00 222.5px,#d40000 230.5px,#800 240.5px,#830000 243px,#8e0000 245.5px,#e70000 255.5px,#ff0202 259px,#ff5151 265.5px,#ffb4b4 275.5px,#fffdfd 283.5px,#f8f8ff 284.5px,#7d7dff 298px,#6565ff 302px,#5d5dff 306px,#6868ff 313.5px,#c5c5ff 363.5px,#f0f0ff 396px,#fffefe 412.5px,#ffd8d8 467.5px,#ffcece 486px)"></i><i style="background:linear-gradient(90deg,#f2f2ff 0px,#c8c8ff 38.5px,#9e9eff 64px,#7373ff 81.5px,#4747ff 93.5px,#1515ff 103px,#0000fe 106.5px,#0000e4 113px,#0000e4 116.5px,#0000f8 122px,#00f 123.5px,#3939ff 133px,#7575ff 146.5px,#d1d1ff 168.5px,#fefeff 178px,#ffd6d6 186.5px,#ff6a6a 207.5px,#ff2929 217.5px,#f00 222.5px,#d40000 230.5px,#800 240.5px,#830000 243px,#8e0000 245.5px,#e70000 255.5px,#fd0000 258.5px,#ff0909 259.5px,#ff5c5c 266.5px,#fcc 278px,#fff 283.5px,#7f7fff 297.5px,#66f 301.5px,#5d5dff 305.5px,#66f 312.5px,#c2c2ff 361.5px,#ededff 393.5px,#fffefe 412.5px,#ffd8d8 467.5px,#ffcece 486px)"></i><i style="background:linear-gradient(90deg,#f1f1ff 0px,#c8c8ff 38.5px,#9e9eff 64px,#7373ff 81.5px,#4747ff 93.5px,#1616ff 103px,#00f 106.5px,#0000e8 112.5px,#0000e7 116.5px,#00f 123px,#3e3eff 133.5px,#7e7eff 148.5px,#d3d3ff 169px,#fefeff 178px,#ff7d7d 204px,#ff3737 215.5px,#f00 222.5px,#d40000 230.5px,#800 240.5px,#830000 243px,#8e0000 245.5px,#e70000 255.5px,#fd0000 258.5px,#ff0a0a 259.5px,#ff5d5d 266.5px,#ffcdcd 278px,#fefeff 283.5px,#7d7dff 297.5px,#6565ff 301.5px,#5d5dff 305.5px,#6868ff 313px,#c4c4ff 362.5px,#efefff 395px,#fffefe 412px,#ffd8d8 467px,#ffcece 486px)"></i><i style="background:linear-gradient(90deg,#f1f1ff 0px,#c8c8ff 38px,#9e9eff 63.5px,#7474ff 81px,#4747ff 93.5px,#1313ff 103.5px,#00f 106.5px,#0000ea 112.5px,#0000eb 116.5px,#0101ff 122.5px,#4040ff 133.5px,#8383ff 149.5px,#d6d6ff 169.5px,#fff 178px,#f77 205px,#ff3434 216px,#f00 222.5px,#d40000 230.5px,#890000 240.5px,#830000 243px,#8e0000 245.5px,#e80000 255.5px,#fd0000 258.5px,#ff1717 260.5px,#ff6868 267.5px,#ffeaea 281px,#fffdfd 283px,#fdfdff 283.5px,#7f7fff 297px,#66f 301px,#5d5dff 305px,#6767ff 312px,#babaff 356px,#e7e7ff 387px,#fffefe 411.5px,#ffd8d8 466.5px,#ffcdcd 486px)"></i><i style="background:linear-gradient(90deg,#f1f1ff 0px,#c8c8ff 38px,#9e9eff 63.5px,#7373ff 81px,#4646ff 93.5px,#1010ff 104px,#0000fe 107px,#0000ed 112.5px,#0000ef 117px,#0202ff 122px,#44f 134px,#9191ff 153px,#e2e2ff 172px,#fff 178px,#ff7575 205.5px,#ff3434 216px,#f00 222.5px,#d40000 230.5px,#890000 240.5px,#830000 243px,#8f0000 245.5px,#e80000 255.5px,#fe0000 258.5px,#ff6464 267px,#fdd 279.5px,#fffefe 283px,#7d7dff 297px,#6565ff 301px,#5d5dff 305px,#6a6aff 313px,#c3c3ff 361px,#eef 393px,#fffefe 411.5px,#ffd8d8 466.5px,#ffcdcd 486px)"></i><i style="background:linear-gradient(90deg,#f1f1ff 0px,#c7c7ff 38px,#9e9eff 63.5px,#7373ff 81px,#4646ff 93.5px,#0b0bff 105px,#0000fd 107.5px,#0000ef 113px,#0000f3 117.5px,#00f 121px,#4848ff 134.5px,#d0d0ff 168px,#fff 178px,#ff7272 206px,#ff3030 216.5px,#f00 222.5px,#d40000 230.5px,#890000 240.5px,#830000 243px,#8f0000 245.5px,#e80000 255.5px,#fe0000 258.5px,#ff5f5f 266.5px,#ffd5d5 278.5px,#fff 283px,#7f7fff 296.5px,#66f 300.5px,#5d5dff 304.5px,#6969ff 312px,#b4b4ff 352px,#e3e3ff 383.5px,#fffefe 411px,#ffd8d8 466px,#ffcdcd 486px)"></i><i style="background:linear-gradient(90deg,#f0f0ff 0px,#c7c7ff 38px,#9d9dff 63.5px,#7272ff 81px,#4646ff 93.5px,#0000fe 107.5px,#0000f2 113px,#0000f8 118px,#0101ff 120.5px,#4c4cff 135px,#ceceff 167.5px,#fffefe 178px,#ff7272 206px,#ff3030 216.5px,#f00 222.5px,#d40000 230.5px,#890000 240.5px,#830000 243px,#8f0000 245.5px,#e80000 255.5px,#fe0000 258.5px,#ff6060 266.5px,#ffd6d6 278.5px,#fffcfc 282.5px,#fdfdff 283px,#7d7dff 296.5px,#6464ff 300.5px,#5d5dff 304.5px,#6c6cff 313px,#c3c3ff 360.5px,#eef 393px,#fffefe 411px,#ffd8d8 466px,#ffcdcd 486px)"></i><i style="background:linear-gradient(90deg,#f0f0ff 0px,#c7c7ff 38px,#9d9dff 63.5px,#7272ff 81px,#4343ff 94px,#0000fe 108px,#0000f4 113.5px,#0000fc 118.5px,#0202ff 120px,#4f4fff 135.5px,#cdcdff 167px,#fffefe 178px,#ff7171 206px,#ff3030 216.5px,#f00 222.5px,#d40000 230.5px,#890000 240.5px,#830000 243px,#8f0000 245.5px,#e80000 255.5px,#fe0000 258.5px,#ff5b5b 266px,#ffcece 277.5px,#fffdfd 282.5px,#f2f2ff 284px,#7f7fff 296px,#6565ff 300px,#5d5dff 303.5px,#6767ff 310px,#9191ff 331.5px,#d4d4ff 371.5px,#fdfdff 407px,#fffdfd 412px,#ffd7d7 467.5px,#ffcdcd 486px)"></i><i style="background:linear-gradient(90deg,#f0f0ff 0px,#c7c7ff 38px,#9d9dff 63.5px,#7272ff 81px,#4343ff 94px,#0000fe 108.5px,#0000f7 114px,#0202ff 119px,#55f 136.5px,#c9c9ff 166px,#fefeff 177.5px,#ffbcbc 191.5px,#ff6060 209px,#ff2121 218.5px,#f00 222.5px,#d40000 230.5px,#890000 240.5px,#840000 243px,#8f0000 245.5px,#e90000 255.5px,#f00 258.5px,#ff5656 265.5px,#ffc1c1 276px,#fff 282.5px,#7d7dff 296px,#6464ff 300px,#5d5dff 304px,#6f6fff 313px,#c4c4ff 360.5px,#efefff 393px,#fffefe 410.5px,#ffd7d7 465.5px,#ffcdcd 486px)"></i><i style="background:linear-gradient(90deg,#f0f0ff 0px,#c6c6ff 38px,#9c9cff 63.5px,#7070ff 81.5px,#4141ff 94.5px,#0101ff 108.5px,#0000fa 114.5px,#0202ff 118px,#5d5dff 138px,#c7c7ff 165.5px,#fefeff 177.5px,#ff7f7f 203.5px,#ff3a3a 215px,#f00 222.5px,#d40000 230.5px,#890000 240.5px,#840000 243px,#8f0000 245.5px,#e90000 255.5px,#f00 258.5px,#ff5151 265px,#ffb8b8 275px,#fffbfb 282px,#fefeff 282.5px,#7b7bff 296px,#6363ff 300px,#5d5dff 304px,#9393ff 332px,#d6d6ff 372.5px,#fefeff 408.5px,#ffd6d6 467px,#ffcdcd 486px)"></i><i style="background:linear-gradient(90deg,#f0f0ff 0px,#c6c6ff 38px,#9c9cff 63.5px,#7070ff 81.5px,#3f3fff 95px,#0202ff 109px,#0000fd 115px,#0505ff 118px,#6262ff 139px,#c5c5ff 165px,#fff 177.5px,#ff7979 204.5px,#ff3737 215.5px,#f00 222.5px,#d40000 230.5px,#890000 240.5px,#840000 243px,#8f0000 245.5px,#e90000 255.5px,#f00 258.5px,#ff5252 265px,#ffbebe 275.5px,#fffdfd 282px,#f7f7ff 283px,#7e7eff 295.5px,#6464ff 299.5px,#5d5dff 303px,#6969ff 310px,#8e8eff 328.5px,#d7d7ff 372.5px,#fff 408.5px,#ffd7d7 465px,#fcc 486px)"></i><i style="background:linear-gradient(90deg,#efefff 0px,#c6c6ff 38px,#9c9cff 63.5px,#6f6fff 81.5px,#3f3fff 95px,#0606ff 108.5px,#00f 113px,#0707ff 117.5px,#6969ff 140.5px,#c4c4ff 164.5px,#fff 177.5px,#ff7474 205.5px,#f33 216px,#f00 222.5px,#d40000 230.5px,#890000 240.5px,#840000 243px,#900000 245.5px,#e90000 255.5px,#ff0101 258.5px,#ff5353 265px,#ffbfbf 275.5px,#fffefe 282px,#7c7cff 295.5px,#6565ff 299px,#5d5dff 302.5px,#6868ff 309px,#8a8aff 326px,#d7d7ff 372.5px,#fff 408.5px,#ffd8d8 463px,#fcc 486px)"></i><i style="background:linear-gradient(90deg,#efefff 0px,#c6c6ff 38px,#9b9bff 63.5px,#6f6fff 81.5px,#3d3dff 95.5px,#0a0aff 108px,#0303ff 113px,#0d0dff 118px,#6c6cff 141px,#c4c4ff 164.5px,#fff 177.5px,#ff7474 205.5px,#f33 216px,#f00 222.5px,#d40000 230.5px,#890000 240.5px,#840000 243px,#900000 245.5px,#ea0000 255.5px,#ff0202 258.5px,#ff5353 265px,#ffc0c0 275.5px,#fefeff 282px,#7e7eff 295px,#66f 298.5px,#5d5dff 302px,#66f 308px,#88f 324px,#d8d8ff 373px,#fff 408px,#ffd8d8 464px,#fcc 486px)"></i><i style="background:linear-gradient(90deg,#efefff 0px,#c5c5ff 38px,#9b9bff 63.5px,#6f6fff 81.5px,#3c3cff 96px,#0c0cff 108px,#0606ff 113px,#1212ff 118.5px,#6f6fff 141.5px,#c5c5ff 164.5px,#fffefe 177.5px,#ff7373 205.5px,#f33 216px,#f00 222.5px,#d40000 230.5px,#8a0000 240.5px,#840000 243px,#900000 245.5px,#ea0000 255.5px,#ff0202 258.5px,#ff5454 265px,#ffc1c1 275.5px,#fffcfc 281.5px,#fdfdff 282px,#7c7cff 295px,#6565ff 298.5px,#5d5dff 302px,#6969ff 308.5px,#8989ff 324px,#d9d9ff 373.5px,#fff 408px,#ffd9d9 462px,#fcc 486px)"></i><i style="background:linear-gradient(90deg,#efefff 0px,#c5c5ff 38px,#9b9bff 63.5px,#6f6fff 81.5px,#3c3cff 96px,#1010ff 107.5px,#0909ff 112.5px,#1313ff 118px,#77f 143.5px,#c5c5ff 164.5px,#fffefe 177.5px,#ff7373 205.5px,#f33 216px,#f00 222.5px,#d40000 230.5px,#8a0000 240.5px,#840000 243px,#900000 245.5px,#ea0000 255.5px,#ff0303 258.5px,#f55 265px,#ffc3c3 275.5px,#fffefe 281.5px,#ddf 285px,#7979ff 295px,#6363ff 298.5px,#5d5dff 302px,#6e6eff 310px,#8e8eff 326.5px,#dadaff 374px,#fff 408px,#ffd8d8 462px,#fcc 486px)"></i><i style="background:linear-gradient(90deg,#efefff 0px,#c5c5ff 38px,#9b9bff 63.5px,#6d6dff 82px,#3636ff 97.5px,#1212ff 107.5px,#0d0dff 113px,#1a1aff 119px,#7979ff 144px,#c6c6ff 164.5px,#fefeff 177px,#ffd7d7 185.5px,#ff6868 207.5px,#ff2828 217.5px,#f00 222.5px,#d40000 230.5px,#8a0000 240.5px,#840000 243px,#900000 245.5px,#ea0000 255.5px,#fd0000 258px,#ff0a0a 259px,#ff5b5b 265.5px,#ffd3d3 277px,#fff 281.5px,#7c7cff 294.5px,#6464ff 298px,#5d5dff 301.5px,#6b6bff 308.5px,#8989ff 323px,#dbdbff 374.5px,#fff 407.5px,#ffd9d9 461.5px,#fcc 486px)"></i><i style="background:linear-gradient(90deg,#efefff 0px,#c5c5ff 38px,#99f 64px,#6c6cff 82.5px,#3131ff 99px,#1313ff 108px,#1010ff 113.5px,#2020ff 120px,#7e7eff 145px,#c8c8ff 165px,#fefeff 177px,#ff8181 203px,#ff3d3d 214.5px,#f00 222.5px,#d40000 230.5px,#8a0000 240.5px,#850000 243px,#900000 245.5px,#e00 256px,#fd0000 258px,#f11 259.5px,#ff6767 266.5px,#fffcfc 281px,#fdfdff 281.5px,#7979ff 294.5px,#6363ff 298px,#5d5dff 301.5px,#7070ff 310px,#8e8eff 326px,#dbdbff 374.5px,#fff 407.5px,#ffd8d8 461.5px,#ffcbcb 486px)"></i><i style="background:linear-gradient(90deg,#eef 0px,#c5c5ff 38px,#99f 64px,#6c6cff 82.5px,#1818ff 107px,#1313ff 112.5px,#1e1eff 118.5px,#8e8eff 149.5px,#d3d3ff 167.5px,#fefeff 177px,#ff7b7b 204px,#ff3636 215.5px,#f00 222.5px,#d40000 230.5px,#8a0000 240.5px,#850000 243px,#900000 245.5px,#ef0000 256px,#fe0000 258px,#ff6868 266.5px,#fffdfd 281px,#f7f7ff 282px,#7c7cff 294px,#6464ff 297.5px,#5d5dff 301px,#6c6cff 308px,#88f 321.5px,#dcdcff 375px,#fff 407.5px,#ffd8d8 461.5px,#ffcbcb 486px)"></i><i style="background:linear-gradient(90deg,#eef 0px,#c4c4ff 38px,#99f 64px,#6c6cff 82.5px,#1b1bff 106.5px,#1616ff 112.5px,#2323ff 119px,#c3c3ff 163.5px,#fff 177px,#ff7676 205px,#f33 216px,#f00 222.5px,#d40000 230.5px,#8a0000 240.5px,#850000 243px,#910000 245.5px,#ef0000 256px,#fe0000 258px,#ff6969 266.5px,#fff 281px,#7979ff 294px,#6262ff 297.5px,#5d5dff 301px,#8787ff 320px,#ddf 375.5px,#fff 407px,#ffd8d8 461px,#ffcbcb 486px)"></i><i style="background:linear-gradient(90deg,#eef 0px,#c4c4ff 38px,#99f 64px,#6c6cff 82.5px,#1f1fff 106px,#1919ff 112px,#2424ff 118.5px,#bfbfff 162.5px,#fff 177px,#ff7373 205.5px,#f33 216px,#f00 222.5px,#d50000 230.5px,#8a0000 240.5px,#850000 243px,#910000 245.5px,#ef0000 256px,#fe0000 258px,#ff6464 266px,#fffbfb 280.5px,#fefeff 281px,#7b7bff 293.5px,#6363ff 297px,#5d5dff 300.5px,#6e6eff 308px,#8989ff 321px,#dedeff 376px,#fffefe 407px,#ffd8d8 461px,#ffcbcb 486px)"></i><i style="background:linear-gradient(90deg,#eef 0px,#c4c4ff 38px,#99f 64px,#6a6aff 83px,#22f 105.5px,#1b1bff 111.5px,#2525ff 118px,#bcbcff 161.5px,#fff 177px,#ff7373 205.5px,#ff2f2f 216.5px,#f00 222.5px,#d50000 230.5px,#8a0000 240.5px,#850000 243px,#910000 245.5px,#ef0000 256px,#fe0000 258px,#ff5f5f 265.5px,#ffe8e8 278.5px,#fffdfd 280.5px,#fcfcff 281px,#7979ff 293.5px,#6262ff 297px,#5d5dff 300.5px,#8686ff 318.5px,#dfdfff 376px,#fff 406.5px,#ffd8d8 460.5px,#ffcbcb 486px)"></i><i style="background:linear-gradient(90deg,#eef 0px,#c4c4ff 38px,#99f 64px,#6a6aff 83px,#2424ff 105.5px,#1e1eff 112px,#2b2bff 119px,#babaff 161px,#fffefe 177px,#ff7373 205.5px,#ff2f2f 216.5px,#f00 222.5px,#d50000 230.5px,#8a0000 240.5px,#850000 243px,#910000 245.5px,#f00000 256px,#f00 258px,#ff5a5a 265px,#ffdada 277px,#fffefe 280.5px,#77f 293.5px,#6161ff 297px,#5d5dff 300.5px,#8484ff 317px,#e0e0ff 376.5px,#fffefe 406.5px,#ffd8d8 460.5px,#ffcbcb 486px)"></i><i style="background:linear-gradient(90deg,#eef 0px,#c4c4ff 38px,#99f 64px,#6969ff 83.5px,#2727ff 105px,#2121ff 111.5px,#2c2cff 118.5px,#b7b7ff 160px,#fffefe 177px,#ff7373 205.5px,#ff2f2f 216.5px,#f00 222.5px,#d50000 230.5px,#8b0000 240.5px,#850000 243px,#910000 245.5px,#f00000 256px,#f00 258px,#f55 264.5px,#fcc 275.5px,#fefeff 280.5px,#7979ff 293px,#6161ff 296.5px,#5c5cff 299.5px,#6b6bff 306px,#8686ff 317.5px,#e0e0ff 377px,#fffefe 406.5px,#ffd8d8 460.5px,#ffcbcb 486px)"></i><i style="background:linear-gradient(90deg,#ededff 0px,#c4c4ff 38px,#99f 64px,#6969ff 83.5px,#2a2aff 104.5px,#2323ff 111px,#2d2dff 118px,#b4b4ff 159px,#fefeff 176.5px,#ff8787 201.5px,#ff4040 214px,#ff0505 222px,#fd0000 223px,#d10000 231px,#8b0000 240.5px,#850000 243px,#910000 245.5px,#f00000 256px,#f00 258px,#f55 264.5px,#ffcdcd 275.5px,#fffcfc 280px,#fdfdff 280.5px,#77f 293px,#6262ff 296px,#5c5cff 299px,#6969ff 305px,#8686ff 316.5px,#e0e0ff 376.5px,#fffefe 406px,#ffd8d8 460px,#ffcbcb 486px)"></i><i style="background:linear-gradient(90deg,#ededff 0px,#c3c3ff 38px,#9797ff 64.5px,#6767ff 84.5px,#2c2cff 104.5px,#2626ff 111.5px,#3232ff 119px,#b4b4ff 159px,#fefeff 176.5px,#ff7d7d 203.5px,#ff3a3a 215px,#f00 222.5px,#d50000 230.5px,#8b0000 240.5px,#860000 243px,#910000 245.5px,#f00000 256px,#ff0101 258px,#ff5656 264.5px,#ffd4d4 276px,#fffefe 280px,#ebebff 282px,#7979ff 292.5px,#6363ff 295.5px,#5c5cff 298.5px,#6767ff 304px,#8484ff 315px,#dfdfff 375px,#fff 405.5px,#ffd8d8 459.5px,#ffcaca 486px)"></i><i style="background:linear-gradient(90deg,#ededff 0px,#c3c3ff 38px,#9797ff 64.5px,#6767ff 84.5px,#2f2fff 104px,#2929ff 111px,#3434ff 118.5px,#b1b1ff 158px,#fafaff 175.5px,#fff 176.5px,#ff7878 204.5px,#ff3636 215.5px,#f00 222.5px,#d50000 230.5px,#8b0000 240.5px,#860000 243px,#920000 245.5px,#f10000 256px,#ff0202 258px,#ff5757 264.5px,#ffd5d5 276px,#fff 280px,#7676ff 292.5px,#6161ff 295.5px,#5b5bff 298.5px,#6a6aff 304.5px,#8585ff 315px,#dfdfff 375px,#fffefe 405.5px,#ffd8d8 459.5px,#ffcaca 486px)"></i><i style="background:linear-gradient(90deg,#ededff 0px,#c3c3ff 38px,#9797ff 64.5px,#66f 85px,#3232ff 103.5px,#2b2bff 111px,#3737ff 119px,#b0b0ff 157.5px,#f8f8ff 175px,#fff 176.5px,#ff7575 205px,#f33 216px,#ff0101 222.5px,#d50000 230.5px,#8b0000 240.5px,#860000 243px,#920000 245.5px,#f10000 256px,#ff0202 258px,#ff5858 264.5px,#ffdcdc 276.5px,#fffbfb 279.5px,#fdfdff 280px,#7979ff 292px,#6262ff 295px,#5b5bff 298px,#6868ff 303.5px,#8484ff 314px,#dedeff 374px,#fff 405px,#ffd8d8 459px,#ffcaca 486px)"></i><i style="background:linear-gradient(90deg,#ededff 0px,#c3c3ff 38px,#9797ff 64.5px,#6565ff 85.5px,#3434ff 103.5px,#2e2eff 111px,#3939ff 119px,#adadff 156.5px,#f2f2ff 173.5px,#fff 176.5px,#ff7575 205px,#f33 216px,#ff0101 222.5px,#d50000 230.5px,#8b0000 240.5px,#860000 243px,#920000 245.5px,#f10000 256px,#ff0303 258px,#ff5858 264.5px,#fdd 276.5px,#fffdfd 279.5px,#f6f6ff 280.5px,#7676ff 292px,#6161ff 295px,#5b5bff 298px,#6b6bff 304px,#8585ff 314px,#dedeff 374px,#fffefe 405px,#ffd8d8 459px,#ffcaca 486px)"></i><i style="background:linear-gradient(90deg,#ededff 0px,#c2c2ff 38.5px,#9696ff 65px,#6464ff 86px,#3636ff 103.5px,#3030ff 111px,#3d3dff 119.5px,#ababff 156px,#ededff 172.5px,#fffefe 176.5px,#ff7575 205px,#f33 216px,#ff0101 222.5px,#d80000 230px,#9c0000 238px,#890000 241px,#870000 243.5px,#960000 246px,#ed0000 255.5px,#fd0000 257.5px,#ff0b0b 258.5px,#ff5f5f 265px,#fff 279.5px,#7474ff 292px,#5f5fff 295px,#5b5bff 298px,#8484ff 313px,#ddf 373px,#fff 404.5px,#ffd8d8 458.5px,#ffcaca 486px)"></i><i style="background:linear-gradient(90deg,#ededff 0px,#c2c2ff 38.5px,#9696ff 65px,#6363ff 86.5px,#3838ff 103px,#3232ff 110.5px,#3e3eff 119px,#a7a7ff 154.5px,#e7e7ff 171px,#fffefe 176.5px,#ff7575 205px,#f33 216px,#ff0101 222.5px,#d80000 230px,#9c0000 238px,#890000 241px,#870000 243.5px,#960000 246px,#e00 255.5px,#fd0000 257.5px,#ff1212 259px,#ff6c6c 266px,#fffbfb 279px,#fefeff 279.5px,#7676ff 291.5px,#6060ff 294.5px,#5a5aff 297.5px,#6d6dff 304px,#8787ff 314px,#dfdfff 374px,#fffefe 404.5px,#ffd8d8 458.5px,#ffcaca 486px)"></i><i style="background:linear-gradient(90deg,#ededff 0px,#c2c2ff 38.5px,#9595ff 65.5px,#5f5fff 88px,#3a3aff 103px,#3535ff 111px,#4242ff 120px,#a9a9ff 155px,#eaeaff 171.5px,#fffefe 176.5px,#ff7474 205px,#f33 216px,#ff0101 222.5px,#d80000 230px,#9d0000 238px,#890000 241px,#800 243.5px,#960000 246px,#e00 255.5px,#fe0000 257.5px,#ff6d6d 266px,#fffdfd 279px,#fcfcff 279.5px,#7373ff 291.5px,#5e5eff 294.5px,#5a5aff 297.5px,#8484ff 312px,#ddf 372px,#fff 404px,#ffd9d9 457.5px,#ffcaca 486px)"></i><i style="background:linear-gradient(90deg,#ededff 0px,#c2c2ff 38.5px,#9595ff 65.5px,#5f5fff 88.5px,#3c3cff 103px,#3737ff 111px,#44f 120px,#a6a6ff 154px,#e4e4ff 170px,#fefeff 176px,#ff8484 202px,#ff4040 214px,#ff0505 222px,#fd0000 223px,#d20000 231px,#8c0000 240.5px,#870000 243px,#930000 245.5px,#f20000 256px,#fe0000 257.5px,#ff6868 265.5px,#fffefe 279px,#7171ff 291.5px,#5d5dff 294.5px,#5a5aff 297.5px,#8383ff 311px,#dcdcff 371px,#fff 403.5px,#ffd9d9 457px,#ffc9c9 486px)"></i><i style="background:linear-gradient(90deg,#ececff 0px,#c2c2ff 38.5px,#9696ff 65.5px,#5d5dff 89.5px,#3d3dff 103.5px,#3a3aff 111.5px,#4949ff 121px,#a7a7ff 154px,#e4e4ff 170px,#fefeff 176px,#ff7c7c 203.5px,#ff3939 215px,#ff0101 222.5px,#d80000 230px,#9d0000 238px,#8a0000 241px,#800 243.5px,#970000 246px,#ef0000 255.5px,#fe0000 257.5px,#ff6969 265.5px,#fefeff 279px,#7373ff 291px,#5d5dff 294px,#5a5aff 297px,#8383ff 310.5px,#a2a2ff 331.5px,#e7e7ff 380px,#fffefe 404px,#ffd8d8 458px,#ffc9c9 486px)"></i><i style="background:linear-gradient(90deg,#ececff 0px,#c2c2ff 38.5px,#9595ff 66px,#5757ff 92px,#3e3eff 104px,#3c3cff 112px,#4d4dff 122px,#a8a8ff 154px,#e4e4ff 170px,#fff 176px,#f77 204.5px,#ff3636 215.5px,#ff0101 222.5px,#d80000 230px,#9d0000 238px,#8a0000 241px,#800 243.5px,#970000 246px,#ef0000 255.5px,#fe0000 257.5px,#ff6363 265px,#fffcfc 278.5px,#fcfcff 279px,#7070ff 291px,#5e5eff 293.5px,#5959ff 296px,#6767ff 301px,#8383ff 310px,#9d9dff 327.5px,#e8e8ff 381px,#fffefe 404px,#ffd8d8 458px,#ffc9c9 486px)"></i><i style="background:linear-gradient(90deg,#ececff 0px,#c2c2ff 38.5px,#9595ff 66px,#4343ff 102px,#3e3eff 110.5px,#4a4aff 120px,#9d9dff 150.5px,#d6d6ff 166.5px,#fff 176px,#ff7474 205px,#f33 216px,#ff0101 222.5px,#d90000 230px,#9d0000 238px,#8a0000 241px,#800 243.5px,#970000 246px,#ef0000 255.5px,#f00 257.5px,#ff5e5e 264.5px,#fffefe 278.5px,#e3e3ff 281px,#7272ff 290.5px,#5f5fff 293px,#5858ff 295.5px,#6464ff 300px,#8282ff 309px,#99f 323.5px,#ebebff 383px,#fffefe 403.5px,#ffd8d8 457.5px,#ffc9c9 486px)"></i><i style="background:linear-gradient(90deg,#ececff 0px,#c2c2ff 38.5px,#9595ff 66px,#4545ff 101.5px,#4040ff 110.5px,#4c4cff 120px,#9b9bff 149.5px,#d2d2ff 165.5px,#fff 176px,#ff7474 205px,#f33 216px,#ff0101 222.5px,#d90000 230px,#9d0000 238px,#8a0000 241px,#800 243.5px,#970000 246px,#ef0000 255.5px,#f00 257.5px,#ff5959 264px,#fffafa 278px,#fff 278.5px,#7070ff 290.5px,#5d5dff 293px,#5858ff 295.5px,#6767ff 300.5px,#8383ff 309px,#9a9aff 323.5px,#ececff 383.5px,#fffefe 403.5px,#ffd8d8 457.5px,#ffc9c9 486px)"></i><i style="background:linear-gradient(90deg,#ececff 0px,#c1c1ff 39px,#9494ff 66.5px,#4747ff 101.5px,#4242ff 110.5px,#4f4fff 120.5px,#9b9bff 149.5px,#d3d3ff 165.5px,#fffefe 176px,#ff7474 205px,#f33 216px,#ff0101 222.5px,#d90000 230px,#9d0000 238px,#8a0000 241px,#890000 243.5px,#970000 246px,#f00000 255.5px,#ff0101 257.5px,#ff5a5a 264px,#fffbfb 278px,#fdfdff 278.5px,#7272ff 290px,#5e5eff 292.5px,#5858ff 295px,#6565ff 299.5px,#8282ff 308px,#9797ff 320.5px,#c4c4ff 353.5px,#f2f2ff 389px,#fffefe 403.5px,#ffd8d8 457.5px,#ffc9c9 486px)"></i><i style="background:linear-gradient(90deg,#ececff 0px,#c1c1ff 39px,#9393ff 67px,#4949ff 101px,#44f 110px,#5050ff 120px,#9696ff 147.5px,#cdcdff 164px,#fffefe 176px,#ff7474 205px,#f33 216px,#ff0101 222.5px,#d90000 230px,#9d0000 238px,#8a0000 241px,#890000 243.5px,#980000 246px,#f00000 255.5px,#ff0101 257.5px,#ff5a5a 264px,#fffdfd 278px,#f5f5ff 279px,#6f6fff 290px,#5c5cff 292.5px,#5757ff 295px,#6868ff 300px,#8585ff 308.5px,#9a9aff 322.5px,#cbcbff 358px,#f7f7ff 393.5px,#fffefe 403px,#ffd8d8 457px,#ffc9c9 486px)"></i><i style="background:linear-gradient(90deg,#ececff 0px,#c1c1ff 39px,#9393ff 67px,#4c4cff 100.5px,#4646ff 110px,#5252ff 120px,#9494ff 146.5px,#cacaff 163px,#fffefe 176px,#ff7474 205px,#f33 216px,#ff0101 222.5px,#d90000 230px,#9e0000 238px,#8a0000 241px,#890000 243.5px,#980000 246px,#f00000 255.5px,#ff0202 257.5px,#ff5b5b 264px,#fff 278px,#6c6cff 290px,#5a5aff 292.5px,#5757ff 295px,#8383ff 307.5px,#9797ff 319.5px,#c1c1ff 350.5px,#f0f0ff 386.5px,#fffefe 403px,#ffd8d8 457px,#ffc9c9 486px)"></i><i style="background:linear-gradient(90deg,#ececff 0px,#c1c1ff 39px,#9393ff 67.5px,#4d4dff 100.5px,#4848ff 110px,#55f 120.5px,#9696ff 147px,#ccf 163.5px,#fefeff 175.5px,#ff8686 201.5px,#ff4040 214px,#ff0505 222px,#fd0000 223px,#d30000 231px,#8d0000 240.5px,#800 243px,#940000 245.5px,#f50000 256px,#ff0303 257.5px,#ff5c5c 264px,#fffbfb 277.5px,#fdfdff 278px,#6f6fff 289.5px,#5b5bff 292px,#5656ff 294.5px,#6868ff 299.5px,#8585ff 307.5px,#99f 320px,#c0c0ff 350px,#f0f0ff 386.5px,#fffefe 402.5px,#ffd8d8 456.5px,#ffc9c9 486px)"></i><i style="background:linear-gradient(90deg,#ececff 0px,#c1c1ff 39px,#9393ff 67.5px,#5050ff 100px,#4a4aff 109.5px,#55f 120px,#9191ff 145px,#c7c7ff 162px,#fff 175.5px,#ff7e7e 203px,#ff3939 215px,#ff0101 222.5px,#d90000 230px,#9e0000 238px,#8b0000 241px,#890000 243.5px,#980000 246px,#f10000 255.5px,#fd0000 257px,#ff0b0b 258px,#ff6363 264.5px,#fffdfd 277.5px,#fbfbff 278px,#6c6cff 289.5px,#5959ff 292px,#5656ff 294.5px,#8383ff 306.5px,#9797ff 317.5px,#bdbdff 347.5px,#efefff 385px,#fffefe 402.5px,#ffd8d8 456.5px,#ffc8c8 486px)"></i><i style="background:linear-gradient(90deg,#ececff 0px,#c1c1ff 39.5px,#9191ff 68.5px,#5252ff 99.5px,#4c4cff 109.5px,#5757ff 120px,#9191ff 144.5px,#c5c5ff 161.5px,#fff 175.5px,#ff7979 204px,#ff3636 215.5px,#ff0101 222.5px,#d90000 230px,#9e0000 238px,#8b0000 241px,#890000 243.5px,#980000 246px,#f10000 255.5px,#fd0000 257px,#ff0c0c 258px,#ff6464 264.5px,#fffefe 277.5px,#a0a0ff 285px,#6969ff 289.5px,#5757ff 292px,#5656ff 294.5px,#8282ff 305.5px,#9696ff 316px,#bdbdff 347px,#eef 384.5px,#fffefe 402px,#ffd8d8 456px,#ffc8c8 486px)"></i><i style="background:linear-gradient(90deg,#ececff 0px,#c1c1ff 39.5px,#9292ff 68.5px,#5353ff 99.5px,#4d4dff 109.5px,#5a5aff 120.5px,#9494ff 145.5px,#c8c8ff 162px,#fff 175.5px,#ff7676 204.5px,#ff3636 215.5px,#ff0101 222.5px,#d90000 230px,#9e0000 238px,#8b0000 241px,#890000 243.5px,#900 246px,#f10000 255.5px,#fd0000 257px,#ff1b1b 259px,#ff7e7e 266.5px,#fffafa 277px,#fefeff 277.5px,#6b6bff 289px,#5858ff 291.5px,#55f 294px,#8383ff 305.5px,#9797ff 316px,#bbf 346px,#efefff 384.5px,#fffefe 402px,#ffd8d8 456px,#ffc8c8 486px)"></i><i style="background:linear-gradient(90deg,#ececff 0px,#c1c1ff 39.5px,#9191ff 69px,#5656ff 99px,#4f4fff 109.5px,#5b5bff 120.5px,#9494ff 145px,#c6c6ff 161.5px,#fff 175.5px,#ff7676 204.5px,#ff3636 215.5px,#fe0000 223px,#d30000 231px,#8d0000 240.5px,#800 243px,#950000 245.5px,#f60000 256px,#fe0000 257px,#ff7373 265.5px,#fffcfc 277px,#fcfcff 277.5px,#6868ff 289px,#5656ff 291.5px,#5656ff 294px,#8282ff 304.5px,#9595ff 314px,#bcbcff 346px,#efefff 384.5px,#fffefe 402px,#ffd8d8 456px,#ffc8c8 486px)"></i><i style="background:linear-gradient(90deg,#ececff 0px,#c1c1ff 39.5px,#9191ff 69px,#5757ff 99px,#5151ff 109.5px,#5e5eff 121px,#9696ff 145.5px,#c8c8ff 162px,#fffefe 175.5px,#ff7676 204.5px,#ff3636 215.5px,#fe0000 223px,#d30000 231px,#8d0000 240.5px,#890000 243px,#950000 245.5px,#f60000 256px,#fe0000 257px,#ff6d6d 265px,#fffefe 277px,#c7c7ff 281.5px,#6a6aff 288.5px,#5656ff 291px,#55f 293.5px,#8383ff 304.5px,#9696ff 314px,#bcbcff 345.5px,#efefff 384.5px,#fffefe 401.5px,#ffd8d8 455.5px,#ffc8c8 486px)"></i><i style="background:linear-gradient(90deg,#ececff 0px,#c1c1ff 39.5px,#9191ff 69.5px,#5959ff 98.5px,#5353ff 109px,#5f5fff 120.5px,#9292ff 144px,#c4c4ff 160.5px,#fffefe 175.5px,#ff7676 204.5px,#ff3636 215.5px,#fe0000 223px,#d30000 231px,#8e0000 240.5px,#890000 243px,#950000 245.5px,#f60000 256px,#fe0000 257px,#ff6868 264.5px,#fefeff 277px,#6767ff 288.5px,#55f 291px,#55f 293.5px,#8181ff 303.5px,#9595ff 312.5px,#bcbcff 345.5px,#efefff 384.5px,#fffefe 401.5px,#ffd8d8 455.5px,#ffc8c8 486px)"></i><i style="background:linear-gradient(90deg,#ececff 0px,#c0c0ff 40px,#8f8fff 70.5px,#5b5bff 98.5px,#55f 109.5px,#6262ff 121.5px,#9797ff 145.5px,#c7c7ff 161.5px,#fffefe 175.5px,#ff7676 204.5px,#ff3636 215.5px,#fe0000 223px,#d30000 231px,#8e0000 240.5px,#890000 243px,#950000 245.5px,#f70000 256px,#f00 257px,#ff6262 264px,#fffbfb 276.5px,#fcfcff 277px,#6969ff 288px,#55f 290.5px,#5454ff 293px,#8383ff 303.5px,#9696ff 312.5px,#bcbcff 345px,#f0f0ff 384.5px,#fffefe 401px,#ffd8d8 455px,#ffc8c8 486px)"></i><i style="background:linear-gradient(90deg,#ececff 0px,#c0c0ff 40px,#9090ff 70.5px,#5c5cff 98.5px,#5757ff 109.5px,#6363ff 121.5px,#9696ff 145px,#c8c8ff 161.5px,#fefeff 175px,#ff8a8a 200.5px,#ff4343 213.5px,#ff0a0a 221.5px,#fe0000 223px,#d30000 231px,#8e0000 240.5px,#890000 243px,#960000 245.5px,#f70000 256px,#f00 257px,#ff5d5d 263.5px,#fffdfd 276.5px,#f4f4ff 277.5px,#66f 288px,#55f 290px,#5252ff 292px,#6262ff 296px,#8282ff 303px,#9696ff 312px,#bbf 344.5px,#f0f0ff 384.5px,#fffefe 401px,#ffd8d8 455px,#ffc8c8 486px)"></i><i style="background:linear-gradient(90deg,#ececff 0px,#c0c0ff 40px,#8f8fff 71px,#5e5eff 98px,#5858ff 109px,#6464ff 121px,#9595ff 144px,#c5c5ff 160.5px,#fefeff 175px,#ff8080 202.5px,#ff3d3d 214.5px,#fe0000 223px,#d30000 231px,#8e0000 240.5px,#890000 243px,#960000 245.5px,#f70000 256px,#ff0101 257px,#ff5e5e 263.5px,#fff 276.5px,#9191ff 284.5px,#6363ff 288px,#5353ff 290px,#5151ff 292px,#6969ff 297px,#8585ff 303.5px,#9898ff 312.5px,#bbf 344px,#f0f0ff 384.5px,#fffefe 400.5px,#ffd8d8 454px,#ffc8c8 486px)"></i><i style="background:linear-gradient(90deg,#ececff 0px,#c0c0ff 40.5px,#8e8eff 72px,#6060ff 98px,#5a5aff 109.5px,#6767ff 122px,#99f 145.5px,#c9c9ff 161.5px,#fff 175px,#ff7b7b 203.5px,#ff3a3a 215px,#fe0000 223px,#d30000 231px,#8e0000 240.5px,#890000 243px,#960000 245.5px,#f80000 256px,#ff0202 257px,#ff5f5f 263.5px,#fffbfb 276px,#fdfdff 276.5px,#9595ff 284px,#6565ff 287.5px,#5454ff 289.5px,#5050ff 291.5px,#6363ff 295.5px,#8282ff 302px,#9696ff 310.5px,#bcbcff 344.5px,#f1f1ff 385px,#fffefe 400.5px,#ffd8d8 454.5px,#ffc8c8 486px)"></i><i style="background:linear-gradient(90deg,#ececff 0px,#c0c0ff 40.5px,#8d8dff 72.5px,#6161ff 98px,#5c5cff 109.5px,#6868ff 122px,#9898ff 145px,#c7c7ff 161px,#fff 175px,#ff7878 204px,#ff3636 215.5px,#fe0000 223px,#d30000 231px,#8e0000 240.5px,#8a0000 243px,#960000 245.5px,#f80000 256px,#ff0202 257px,#ff6060 263.5px,#fffdfd 276px,#fbfbff 276.5px,#9292ff 284px,#6262ff 287.5px,#5252ff 289.5px,#5050ff 291.5px,#8282ff 301.5px,#9696ff 309.5px,#bdbdff 345px,#f1f1ff 385.5px,#fffefe 400.5px,#ffd8d8 454.5px,#ffc7c7 486px)"></i><i style="background:linear-gradient(90deg,#ececff 0px,#c0c0ff 40.5px,#8d8dff 73px,#6363ff 98px,#5d5dff 109.5px,#6b6bff 122.5px,#9a9aff 145.5px,#c9c9ff 161.5px,#fff 175px,#ff7878 204px,#ff3636 215.5px,#fe0000 223px,#d40000 231px,#8f0000 240.5px,#8a0000 243px,#960000 245.5px,#f80000 256px,#ff0303 257px,#ff6161 263.5px,#fff 276px,#a5a5ff 282.5px,#6464ff 287px,#5252ff 289px,#4f4fff 291px,#6363ff 295px,#8383ff 301.5px,#9797ff 309.5px,#bdbdff 344.5px,#f2f2ff 385.5px,#fffefe 400px,#ffd8d8 454px,#ffc7c7 486px)"></i><i style="background:linear-gradient(90deg,#ececff 0px,#c0c0ff 41px,#8c8cff 74px,#6464ff 98px,#5f5fff 110px,#6d6dff 123px,#9c9cff 146px,#cacaff 161.5px,#fffefe 175px,#ff7878 204px,#ff3636 215.5px,#fe0000 223px,#d40000 231px,#8f0000 240.5px,#8a0000 243px,#960000 245.5px,#f90000 256px,#ff0404 257px,#ff6262 263.5px,#fffafa 275.5px,#fdfdff 276px,#9a9aff 283px,#6161ff 287px,#5050ff 289px,#4f4fff 291px,#8181ff 300.5px,#9595ff 308px,#bebeff 345px,#f2f2ff 386px,#fffefe 400px,#ffd8d8 454px,#ffc7c7 486px)"></i><i style="background:linear-gradient(90deg,#ececff 0px,#c0c0ff 41px,#8a8aff 75px,#6565ff 98px,#6161ff 110px,#6f6fff 123.5px,#9d9dff 146px,#cacaff 161.5px,#fffefe 175px,#ff7878 204px,#ff3636 215.5px,#fe0000 223px,#d40000 231px,#8f0000 240.5px,#8a0000 243px,#970000 245.5px,#f90000 256px,#ff0404 257px,#ff6363 263.5px,#fffcfc 275.5px,#fbfbff 276px,#9696ff 283px,#5d5dff 287px,#4e4eff 289px,#4f4fff 291px,#8181ff 300px,#9696ff 307.5px,#a8a8ff 325px,#c8c8ff 351.5px,#f7f7ff 390px,#fffefe 400px,#ffd8d8 454px,#ffc7c7 486px)"></i><i style="background:linear-gradient(90deg,#ececff 0px,#c0c0ff 41px,#8a8aff 75.5px,#6767ff 98px,#6262ff 110px,#7070ff 123.5px,#9e9eff 146px,#cbcbff 161.5px,#fffefe 175px,#ff7878 204px,#ff3636 215.5px,#fe0000 223px,#d40000 231px,#8f0000 240.5px,#8a0000 243px,#970000 245.5px,#f90000 256px,#fd0000 256.5px,#ff2424 259px,#ff9191 267px,#fffefe 275.5px,#b9b9ff 280.5px,#5f5fff 286.5px,#4e4eff 288.5px,#4e4eff 290.5px,#8080ff 299.5px,#9696ff 307px,#a6a6ff 322.5px,#c1c1ff 346.5px,#f4f4ff 387px,#fffefe 399.5px,#ffd8d8 453.5px,#ffc7c7 486px)"></i><i style="background:linear-gradient(90deg,#ececff 0px,#bfbfff 41.5px,#88f 77px,#6868ff 98.5px,#6464ff 111px,#7575ff 125.5px,#a2a2ff 147.5px,#cfcfff 162.5px,#fefeff 174.5px,#ff9595 198px,#ff4c4c 212px,#ff1313 220.5px,#fe0000 223px,#d40000 231px,#8f0000 240.5px,#8b0000 243px,#970000 245.5px,#fa0000 256px,#fe0000 256.5px,#ff7979 265px,#fefeff 275.5px,#9f9fff 282px,#6262ff 286px,#4f4fff 288px,#4c4cff 290px,#6767ff 294.5px,#8484ff 300px,#9898ff 307.5px,#bebeff 344px,#f3f3ff 386px,#fffefe 399.5px,#ffd8d8 453.5px,#ffc7c7 486px)"></i><i style="background:linear-gradient(90deg,#ececff 0px,#c0c0ff 41.5px,#8787ff 78px,#6969ff 98.5px,#66f 111px,#7676ff 125.5px,#a2a2ff 147.5px,#cfcfff 162.5px,#fefeff 174.5px,#ff8787 201px,#ff4343 213.5px,#ff0b0b 221.5px,#fe0000 223px,#d40000 231px,#8f0000 240.5px,#8b0000 243px,#970000 245.5px,#fa0000 256px,#fe0000 256.5px,#ff7373 264.5px,#fffcfc 275px,#fcfcff 275.5px,#9c9cff 282px,#5e5eff 286px,#4c4cff 288px,#4c4cff 290px,#7f7fff 298.5px,#9595ff 305.5px,#a4a4ff 318px,#bbf 341.5px,#f3f3ff 385.5px,#fffefe 399px,#ffd8d8 453px,#ffc7c7 486px)"></i><i style="background:linear-gradient(90deg,#ececff 0px,#c0c0ff 41.5px,#8585ff 79.5px,#6a6aff 99px,#6868ff 111.5px,#7979ff 126.5px,#a4a4ff 148px,#d1d1ff 163px,#fff 174.5px,#ff7f7f 202.5px,#ff3d3d 214.5px,#fe0000 223px,#d40000 231px,#8f0000 240.5px,#8b0000 243px,#980000 245.5px,#fa0000 256px,#f00 256.5px,#ff6d6d 264px,#fffefe 275px,#e5e5ff 277px,#7f7fff 283.5px,#5a5aff 286px,#4d4dff 287.5px,#4a4aff 289px,#5959ff 292px,#7f7fff 298px,#9494ff 304.5px,#a4a4ff 316px,#babaff 340.5px,#f3f3ff 386px,#fffefe 399px,#ffd8d8 453px,#ffc7c7 486px)"></i><i style="background:linear-gradient(90deg,#ececff 0px,#bfbfff 42px,#8080ff 83px,#6a6aff 100.5px,#6a6aff 113px,#7e7eff 129px,#aaf 150px,#d9d9ff 165px,#fff 174.5px,#ff7a7a 203.5px,#ff3a3a 215px,#fe0000 223px,#d40000 231px,#900000 240.5px,#8b0000 243px,#980000 245.5px,#fb0000 256px,#f00 256.5px,#ff6161 263px,#fefeff 275px,#a5a5ff 281px,#5d5dff 285.5px,#4d4dff 287px,#4949ff 288.5px,#5454ff 291px,#7b7bff 297px,#9393ff 303.5px,#a3a3ff 314px,#b9b9ff 339.5px,#f4f4ff 386px,#fffefe 399px,#ffd8d8 453px,#ffc7c7 486px)"></i><i style="background:linear-gradient(90deg,#ececff 0px,#c0c0ff 42px,#6f6fff 97px,#6a6aff 110px,#7878ff 124.5px,#a1a1ff 146px,#cdcdff 161.5px,#fff 174.5px,#ff7878 204px,#ff3737 215.5px,#fe0000 223px,#d40000 231px,#900000 240.5px,#8b0000 243px,#980000 245.5px,#fb0000 256px,#ff0101 256.5px,#ff6262 263px,#fffbfb 274.5px,#fcfcff 275px,#a1a1ff 281px,#5959ff 285.5px,#4b4bff 287px,#4848ff 288.5px,#5959ff 291.5px,#7d7dff 297px,#9595ff 303.5px,#a4a4ff 314px,#babaff 339.5px,#f4f4ff 386.5px,#fffefe 398.5px,#ffd8d8 452.5px,#ffc7c7 486px)"></i><i style="background:linear-gradient(90deg,#ececff 0px,#bfbfff 42.5px,#7070ff 96.5px,#6c6cff 110px,#7a7aff 125px,#a2a2ff 146.5px,#cdcdff 161.5px,#fff 174.5px,#ff7878 204px,#ff3737 215.5px,#fe0000 223px,#d40000 231px,#900000 240.5px,#8b0000 243px,#980000 245.5px,#fb0000 256px,#ff0101 256.5px,#ff6363 263px,#fffdfd 274.5px,#f3f3ff 275.5px,#9d9dff 281px,#5b5bff 285px,#4b4bff 286.5px,#4747ff 288px,#5353ff 290.5px,#7d7dff 296.5px,#9494ff 302.5px,#a3a3ff 312.5px,#b9b9ff 339px,#f5f5ff 386.5px,#fffefe 398.5px,#ffd8d8 452.5px,#ffc7c7 486px)"></i><i style="background:linear-gradient(90deg,#ececff 0px,#c0c0ff 42.5px,#7272ff 96.5px,#6d6dff 110px,#7b7bff 125px,#a3a3ff 146.5px,#cdcdff 161.5px,#fffefe 174.5px,#ff7a7a 203.5px,#ff3a3a 215px,#fe0000 223px,#d40000 231px,#900000 240.5px,#8c0000 243px,#980000 245.5px,#fc0000 256px,#ff0202 256.5px,#ff6464 263px,#fff 274.5px,#ababff 280px,#5757ff 285px,#4949ff 286.5px,#4646ff 288px,#5959ff 291px,#7c7cff 296px,#9494ff 302px,#a4a4ff 311.5px,#babaff 339px,#f5f5ff 387px,#fffefe 398.5px,#ffd8d8 452.5px,#ffc6c6 486px)"></i><i style="background:linear-gradient(90deg,#ededff 0px,#bfbfff 43px,#7373ff 96px,#6e6eff 109.5px,#7b7bff 124.5px,#a1a1ff 145.5px,#ccf 161px,#fffefe 174.5px,#ff7a7a 203.5px,#ff3a3a 215px,#fe0000 223px,#d50000 231px,#900000 240.5px,#8c0000 243px,#900 245.5px,#fc0000 256px,#ff0303 256.5px,#ff6565 263px,#fffafa 274px,#fdfdff 274.5px,#a7a7ff 280px,#5a5aff 284.5px,#4949ff 286px,#4545ff 287.5px,#5353ff 290px,#7b7bff 295.5px,#9494ff 301.5px,#a4a4ff 310.5px,#babaff 339px,#f5f5ff 387px,#fffefe 398px,#ffd8d8 452px,#ffc6c6 486px)"></i><i style="background:linear-gradient(90deg,#ededff 0px,#bfbfff 43px,#7575ff 96px,#7070ff 110px,#7e7eff 125.5px,#a4a4ff 146.5px,#ceceff 161.5px,#fffefe 174.5px,#ff7a7a 203.5px,#ff3a3a 215px,#f00 223px,#d50000 231px,#900000 240.5px,#8c0000 243px,#900 245.5px,#fd0000 256px,#ff0303 256.5px,#f66 263px,#fffcfc 274px,#fafaff 274.5px,#a3a3ff 280px,#5656ff 284.5px,#4646ff 286px,#44f 287.5px,#5959ff 290.5px,#7d7dff 295.5px,#9595ff 301.5px,#a5a5ff 311px,#babaff 338.5px,#f6f6ff 387.5px,#fffefe 398px,#ffd8d8 452px,#ffc6c6 486px)"></i><i style="background:linear-gradient(90deg,#ededff 0px,#bfbfff 43.5px,#7676ff 95.5px,#7171ff 109.5px,#7e7eff 125px,#a4a4ff 146px,#cdcdff 161px,#fefeff 174px,#ff9595 198px,#ff4c4c 212px,#ff1414 220.5px,#f00 223px,#d50000 231px,#910000 240.5px,#8c0000 243px,#900 245.5px,#fd0000 256px,#ff0c0c 257px,#ff7575 264px,#fff 274px,#b1b1ff 279px,#5959ff 284px,#4747ff 285.5px,#4343ff 287px,#5252ff 289.5px,#7979ff 294.5px,#9292ff 300px,#a3a3ff 308.5px,#bbf 339px,#f6f6ff 387.5px,#fffefe 398px,#ffd8d8 452px,#ffc6c6 486px)"></i><i style="background:linear-gradient(90deg,#ededff 0px,#bfbfff 43.5px,#7878ff 95.5px,#7373ff 110px,#8080ff 125.5px,#a5a5ff 146.5px,#cfcfff 161.5px,#fefeff 174px,#ff8989 200.5px,#f44 213.5px,#ff0c0c 221.5px,#f00 223px,#d50000 231px,#910000 240.5px,#8c0000 243px,#900 245.5px,#fd0000 256px,#ff1515 257.5px,#ff8484 265px,#fffafa 273.5px,#fdfdff 274px,#aeaeff 279px,#5454ff 284px,#44f 285.5px,#4242ff 287px,#5959ff 290px,#7c7cff 294.5px,#9494ff 300px,#a4a4ff 308.5px,#bbf 338.5px,#f7f7ff 388px,#fffefe 397.5px,#ffd8d8 451.5px,#ffc6c6 486px)"></i><i style="background:linear-gradient(90deg,#ededff 0px,#bfbfff 44px,#7979ff 95px,#7474ff 109.5px,#8080ff 125px,#a4a4ff 145.5px,#ccf 160.5px,#fff 174px,#ff8282 202px,#ff3d3d 214.5px,#f00 223px,#d50000 231px,#910000 240.5px,#8d0000 243px,#900 245.5px,#fe0000 256px,#ff8585 265px,#fffcfc 273.5px,#fbfbff 274px,#aaf 279px,#5050ff 284px,#4141ff 285.5px,#4242ff 287px,#7b7bff 294px,#9494ff 299.5px,#a5a5ff 308px,#bbf 338.5px,#f8f8ff 388.5px,#fffefe 397.5px,#ffd8d8 451.5px,#ffc6c6 486px)"></i><i style="background:linear-gradient(90deg,#ededff 0px,#bfbfff 44px,#7a7aff 95px,#7575ff 109.5px,#8282ff 125.5px,#a5a5ff 146px,#ceceff 161px,#fff 174px,#ff7d7d 203px,#ff3a3a 215px,#f00 223px,#d50000 231px,#910000 240.5px,#8d0000 243px,#9a0000 245.5px,#fe0000 256px,#ff7878 264px,#fffefe 273.5px,#c9c9ff 277px,#5252ff 283.5px,#4141ff 285px,#4040ff 286.5px,#5959ff 289.5px,#7d7dff 294px,#9595ff 299.5px,#a6a6ff 308px,#bbf 338px,#f8f8ff 388.5px,#fffefe 397.5px,#ffd8d8 451.5px,#ffc6c6 486px)"></i><i style="background:linear-gradient(90deg,#ededff 0px,#bfbfff 44.5px,#7c7cff 94.5px,#7676ff 109.5px,#8383ff 125.5px,#a6a6ff 146px,#ceceff 161px,#fff 174px,#ff7a7a 203.5px,#ff3a3a 215px,#f00 223px,#d50000 231px,#910000 240.5px,#8d0000 243px,#9a0000 245.5px,#fe0000 256px,#ff7373 263.5px,#fefeff 273.5px,#ababff 278.5px,#4e4eff 283.5px,#3f3fff 285px,#4040ff 286.5px,#7979ff 293px,#9292ff 298px,#a4a4ff 305.5px,#bdbdff 339px,#f8f8ff 389px,#fffefe 397px,#ffd8d8 451px,#ffc6c6 486px)"></i><i style="background:linear-gradient(90deg,#ededff 0px,#bfbfff 44.5px,#7d7dff 94.5px,#7878ff 109.5px,#8484ff 125.5px,#a7a7ff 146px,#cfcfff 161px,#fff 174px,#ff7a7a 203.5px,#ff3a3a 215px,#f00 223px,#d50000 231px,#910000 240.5px,#8d0000 243px,#9a0000 245.5px,#f00 256px,#ff6c6c 263px,#fffbfb 273px,#fbfbff 273.5px,#a8a8ff 278.5px,#5151ff 283px,#3f3fff 284.5px,#3e3eff 286px,#7878ff 292.5px,#9292ff 297.5px,#a4a4ff 305px,#b0b0ff 322.5px,#c2c2ff 343.5px,#f9f9ff 389px,#fffefe 397px,#ffd8d8 451px,#ffc6c6 486px)"></i><i style="background:linear-gradient(90deg,#ededff 0px,#bfbfff 45px,#7e7eff 94.5px,#7979ff 110px,#8686ff 126.5px,#a8a8ff 146.5px,#d1d1ff 161.5px,#fffefe 174px,#ff7a7a 203.5px,#ff3a3a 215px,#f00 223px,#d50000 231px,#920000 240.5px,#8d0000 243px,#9a0000 245.5px,#f00 256px,#f66 262.5px,#fffdfd 273px,#f1f1ff 274px,#a4a4ff 278.5px,#4c4cff 283px,#3c3cff 284.5px,#3f3fff 286px,#7676ff 292px,#9292ff 297px,#a4a4ff 304px,#afafff 318.5px,#bdbdff 339px,#f9f9ff 389.5px,#fffefe 397px,#ffd8d8 451px,#ffc6c6 486px)"></i><i style="background:linear-gradient(90deg,#eef 0px,#bfbfff 45.5px,#8080ff 94px,#7a7aff 109.5px,#8787ff 126px,#a8a8ff 146px,#cfcfff 161px,#fffefe 174px,#ff7a7a 203.5px,#ff3a3a 215px,#f00 223px,#d50000 231px,#920000 240.5px,#8e0000 243px,#9b0000 245.5px,#fb0000 255.5px,#ff0101 256px,#ff6767 262.5px,#fefeff 273px,#b3b3ff 277.5px,#4f4fff 282.5px,#3c3cff 284px,#3c3cff 285.5px,#7575ff 291.5px,#8f8fff 296px,#a4a4ff 303px,#aeaeff 315.5px,#bcbcff 337px,#fafaff 390px,#fffefe 397px,#ffd7d7 451.5px,#ffc6c6 486px)"></i><i style="background:linear-gradient(90deg,#eef 0px,#bfbfff 45.5px,#8181ff 94px,#7c7cff 109.5px,#88f 126px,#a8a8ff 146px,#d0d0ff 161px,#fffefe 174px,#ff7c7c 203px,#ff3b3b 215px,#f00 223px,#d60000 231px,#920000 240.5px,#8e0000 243px,#9b0000 245.5px,#fc0000 255.5px,#ff0202 256px,#ff6969 262.5px,#fffafa 272.5px,#fcfcff 273px,#afafff 277.5px,#4a4aff 282.5px,#3939ff 284px,#3d3dff 285.5px,#7474ff 291px,#8f8fff 295.5px,#a3a3ff 302px,#aeaeff 313.5px,#bbf 336px,#fbfbff 391px,#fffdfd 397px,#ffd7d7 451.5px,#ffc6c6 486px)"></i><i style="background:linear-gradient(90deg,#eef 0px,#bfbfff 46px,#8282ff 94px,#7d7dff 110px,#8a8aff 127px,#ababff 147px,#d2d2ff 161.5px,#fffefe 174px,#ff7c7c 203px,#ff3b3b 215px,#f00 223px,#d60000 231px,#920000 240.5px,#8e0000 243px,#9b0000 245.5px,#fc0000 255.5px,#ff0303 256px,#ff6a6a 262.5px,#fffdfd 272.5px,#f9f9ff 273px,#ababff 277.5px,#4d4dff 282px,#3939ff 283.5px,#3737ff 284.5px,#4848ff 286.5px,#7272ff 290.5px,#8f8fff 295px,#a3a3ff 301.5px,#afafff 312.5px,#bcbcff 336px,#fbfbff 391px,#fffefe 396.5px,#ffd7d7 451px,#ffc6c6 486px)"></i><i style="background:linear-gradient(90deg,#eef 0px,#bfbfff 46px,#8484ff 94px,#7e7eff 110px,#8b8bff 127px,#ababff 147px,#d2d2ff 161.5px,#fefeff 173.5px,#ff9090 199px,#ff4a4a 212.5px,#f11 221px,#f00 223px,#d60000 231px,#920000 240.5px,#8e0000 243px,#9b0000 245.5px,#fc0000 255.5px,#ff0404 256px,#ff7272 263px,#fff 272.5px,#b1b1ff 277px,#4848ff 282px,#3a3aff 283px,#3636ff 284px,#3f3fff 285.5px,#7171ff 290px,#8c8cff 294px,#a1a1ff 300px,#aeaeff 310px,#bbf 335.5px,#fcfcff 391.5px,#fffefe 396.5px,#ffd7d7 451px,#ffc6c6 486px)"></i><i style="background:linear-gradient(90deg,#eef 0px,#bfbfff 46.5px,#8585ff 93.5px,#7f7fff 110px,#8c8cff 127.5px,#acacff 147px,#d2d2ff 161.5px,#fff 173.5px,#ff8686 201px,#ff4141 214px,#ff0909 222px,#ff0101 223px,#d90000 230.5px,#930000 240.5px,#8f0000 243px,#9c0000 245.5px,#fd0000 255.5px,#ff0d0d 256.5px,#ff7b7b 263.5px,#fffafa 272px,#fcfcff 272.5px,#adadff 277px,#4242ff 282px,#3636ff 283px,#3535ff 284px,#4848ff 286px,#6f6fff 289.5px,#8c8cff 293.5px,#a2a2ff 299.5px,#afafff 309px,#bcbcff 335.5px,#fcfcff 392px,#fffdfd 397px,#ffd7d7 452px,#ffc5c5 486px)"></i><i style="background:linear-gradient(90deg,#eef 0px,#bfbfff 47px,#8686ff 93.5px,#8181ff 110px,#8d8dff 127.5px,#acacff 147px,#d3d3ff 161.5px,#fff 173.5px,#ff8181 202px,#ff3e3e 214.5px,#ff0505 222.5px,#fd0000 223.5px,#d30000 231.5px,#930000 240.5px,#8f0000 243px,#9c0000 245.5px,#fd0000 255.5px,#ff1616 257px,#ff9292 265px,#fffcfc 272px,#fafaff 272.5px,#b3b3ff 276.5px,#4545ff 281.5px,#3737ff 282.5px,#33f 283.5px,#3e3eff 285px,#6d6dff 289px,#8b8bff 293px,#a1a1ff 298.5px,#afafff 307.5px,#bcbcff 335.5px,#fdfdff 392.5px,#fffcfc 398px,#ffd6d6 453.5px,#ffc5c5 486px)"></i><i style="background:linear-gradient(90deg,#eef 0px,#bfbfff 47.5px,#8787ff 93.5px,#8282ff 110px,#8e8eff 127.5px,#adadff 147px,#d3d3ff 161.5px,#fff 173.5px,#ff7c7c 203px,#ff3b3b 215px,#ff0101 223px,#d90000 230.5px,#930000 240.5px,#8f0000 243px,#9c0000 245.5px,#fe0000 255.5px,#ff9494 265px,#fffefe 272px,#b8b8ff 276px,#6c6cff 279.5px,#4040ff 281.5px,#33f 282.5px,#3232ff 283.5px,#4747ff 285.5px,#7070ff 289px,#8d8dff 293px,#a3a3ff 299px,#b0b0ff 308.5px,#bcbcff 335px,#fefeff 393px,#fff9f9 401.5px,#ffd3d3 459px,#ffc5c5 486px)"></i><i style="background:linear-gradient(90deg,#efefff 0px,#bfbfff 47.5px,#88f 93.5px,#8383ff 110.5px,#9090ff 128.5px,#b0b0ff 148px,#d6d6ff 162.5px,#fff 173.5px,#ff7c7c 203px,#ff3b3b 215px,#ff0101 223px,#d90000 230.5px,#930000 240.5px,#8f0000 243px,#9c0000 245.5px,#fe0000 255.5px,#ff8686 264px,#fff9f9 271.5px,#fdfdff 272px,#b5b5ff 276px,#66f 279.5px,#3a3aff 281.5px,#3030ff 282.5px,#3232ff 283.5px,#6f6fff 288.5px,#8d8dff 292.5px,#a2a2ff 298px,#b0b0ff 307px,#bdbdff 335px,#fefeff 393px,#ffd6d6 453px,#ffc5c5 486px)"></i><i style="background:linear-gradient(90deg,#efefff 0px,#bfbfff 48px,#8a8aff 93px,#8484ff 110px,#9191ff 128px,#afafff 147.5px,#d5d5ff 162px,#fff 173.5px,#ff7c7c 203px,#ff3b3b 215px,#ff0101 223px,#d90000 230.5px,#930000 240.5px,#8f0000 243px,#9d0000 245.5px,#f00 255.5px,#ff8080 263.5px,#fffbfb 271.5px,#fafaff 272px,#b1b1ff 276px,#5f5fff 279.5px,#3d3dff 281px,#3030ff 282px,#2f2fff 283px,#4747ff 285px,#6d6dff 288px,#8989ff 291.5px,#a0a0ff 296.5px,#afafff 304.5px,#bebeff 336px,#fefeff 393px,#ffd6d6 453px,#ffc5c5 486px)"></i><i style="background:linear-gradient(90deg,#efefff 0px,#bfbfff 48.5px,#8b8bff 93px,#8585ff 110.5px,#9292ff 128.5px,#afafff 147.5px,#d5d5ff 162px,#fffefe 173.5px,#ff7f7f 202.5px,#ff3e3e 214.5px,#ff0505 222.5px,#fe0000 223.5px,#d30000 231.5px,#940000 240.5px,#900000 243px,#9d0000 245.5px,#f00 255.5px,#ff7272 262.5px,#fffefe 271.5px,#ddf 273.5px,#9696ff 277px,#4141ff 280.5px,#3030ff 281.5px,#2c2cff 282.5px,#3b3bff 284px,#6b6bff 287.5px,#88f 291px,#a0a0ff 296px,#b0b0ff 304px,#bebeff 336px,#fefeff 393px,#ffd6d6 453px,#ffc5c5 486px)"></i><i style="background:linear-gradient(90deg,#efefff 0px,#bfbfff 49px,#8c8cff 93px,#8686ff 110.5px,#9393ff 129px,#b1b1ff 148px,#d6d6ff 162px,#fffefe 173.5px,#ff7f7f 202.5px,#ff3e3e 214.5px,#ff0606 222.5px,#fe0000 223.5px,#d30000 231.5px,#940000 240.5px,#900000 243px,#9d0000 245.5px,#ff0101 255.5px,#ff7474 262.5px,#fefeff 271.5px,#b3b3ff 275.5px,#6c6cff 278.5px,#3b3bff 280.5px,#2c2cff 281.5px,#2c2cff 282.5px,#4646ff 284.5px,#6e6eff 287.5px,#8b8bff 291px,#a2a2ff 296px,#b1b1ff 304px,#bebeff 335.5px,#fff 393.5px,#ffd7d7 450px,#ffc5c5 486px)"></i><i style="opacity:.3;background:linear-gradient(90deg,#efefff 0px,#bfbfff 49px,#8c8cff 93px,#8686ff 110.5px,#9393ff 129px,#b1b1ff 148px,#d6d6ff 162px,#fffefe 173.5px,#ff7f7f 202.5px,#ff3e3e 214.5px,#ff0606 222.5px,#fe0000 223.5px,#d30000 231.5px,#940000 240.5px,#900000 243px,#9d0000 245.5px,#ff0101 255.5px,#ff7474 262.5px,#fefeff 271.5px,#b3b3ff 275.5px,#6c6cff 278.5px,#3b3bff 280.5px,#2c2cff 281.5px,#2c2cff 282.5px,#4646ff 284.5px,#6e6eff 287.5px,#8b8bff 291px,#a2a2ff 296px,#b1b1ff 304px,#bebeff 335.5px,#fff 393.5px,#ffd7d7 450px,#ffc5c5 486px)"></i></div>
<svg width="747" height="990" viewBox="0 0 747 990" font-family="'Liberation Serif',serif" fill="#000"><style>text{stroke:#000;stroke-width:.14px}</style>
<defs><linearGradient id="cbg" x1="0" y1="0" x2="0" y2="1"><stop offset="0" stop-color="#800000"/><stop offset=".25" stop-color="#f00"/><stop offset=".5" stop-color="#fff"/><stop offset=".75" stop-color="#00f"/><stop offset="1" stop-color="#00004c"/></linearGradient>
<clipPath id="cp"><rect x="143.8" y="13" width="486.1" height="380.6"/></clipPath></defs>
<g clip-path="url(#cp)" fill="none">
<path d="M153.35,168.84 L160.38,170 L167.4,171.23 L174.43,172.51 L181.45,173.87 L188.48,175.29 L195.5,176.8 L201.36,178.14 L207.21,179.54 L213.07,181.02 L218.92,182.6 L224.78,184.27 L230.63,186.06 L236.49,187.98 L242.34,190.04 L248.2,192.27 L254.05,194.68 L259.9,197.31 L265.76,200.16 L271.61,203.26 L277.47,206.63 L283.32,210.25 L289.18,214.1 L295.03,218.11 L300.89,222.19 L306.74,226.26 L310.25,228.6 L312.6,230.04 L313.77,230.68 L314.94,231.24 L316.11,231.7 L317.28,232.02 L318.45,232.17 L319.62,232.1 L320.79,231.77 L321.96,231.14 L323.13,230.19 L324.31,228.9 L325.48,227.27 L326.65,225.34 L327.82,223.13 L328.99,220.69 L330.16,218.07 L332.5,212.44 L334.84,206.51 L337.19,200.49 L339.53,194.46 L341.87,188.48 L344.21,182.54 L346.55,176.64 L348.89,170.74 L351.24,164.81 L353.58,158.79 L355.92,152.65 L358.26,146.31 L360.6,139.7 L362.95,132.76 L365.29,125.4 L366.46,121.52 L367.63,117.49 L368.8,113.3 L369.97,108.93 L371.14,104.35 L372.31,99.54 L373.48,94.48 L374.66,89.16 L375.83,83.54 L377,77.61 L378.17,71.36 L379.34,64.81 L380.51,58.03 L381.68,51.15 L382.85,44.43 L384.02,38.34 L385.19,33.5 L386.36,30.65 L387.54,30.29 L388.71,32.42 L389.88,36.54 L391.05,41.91 L392.22,47.9 L393.39,54.07 L394.56,60.13 L395.73,65.95 L396.9,71.48 L398.07,76.69 L399.24,81.59 L400.42,86.19 L401.59,90.52 L402.76,94.6 L403.93,98.45 L405.1,102.1 L406.27,105.55 L407.44,108.84 L408.61,111.98 L409.78,114.97 L410.95,117.84 L412.12,120.6 L414.47,125.81 L416.81,130.68 L419.15,135.28 L421.49,139.66 L425.01,145.9 L428.52,151.87 L432.03,157.66 L435.54,163.34 L439.06,168.98 L442.57,174.61 L446.08,180.23 L449.59,185.84 L453.11,191.42 L456.62,196.93 L460.13,202.33 L463.65,207.61 L467.16,212.77 L470.67,217.85 L474.18,222.93 L477.7,228.14 L480.04,231.78 L482.38,235.63 L483.55,237.66 L484.72,239.78 L485.89,242 L487.06,244.35 L488.24,246.83 L489.41,249.49 L490.58,252.36 L491.75,255.47 L492.92,258.88 L494.09,262.66 L495.26,266.91 L496.43,271.78 L497.6,277.49 L498.77,284.39 L499.94,293.13 L501.12,305.1 L502.29,324.2 L503.46,376.45 L504.63,340.82 L505.8,313.35 L506.97,298.7 L508.14,288.65 L509.31,281 L510.48,274.81 L511.65,269.62 L512.82,265.15 L514,261.22 L515.17,257.72 L516.34,254.57 L517.51,251.69 L518.68,249.05 L519.85,246.61 L521.02,244.35 L522.19,242.23 L523.36,240.24 L524.53,238.38 L525.7,236.61 L526.88,234.94 L528.05,233.35 L529.22,231.83 L530.39,230.39 L532.73,227.68 L535.07,225.19 L537.41,222.88 L539.76,220.73 L542.1,218.72 L544.44,216.84 L547.95,214.21 L551.47,211.78 L554.98,209.54 L558.49,207.45 L563.17,204.88 L567.86,202.51 L573.71,199.79 L579.57,197.3 L585.42,195.01 L591.28,192.88 L597.13,190.9 L602.99,189.05 L608.84,187.3 L614.7,185.66 L620.55,184.11" stroke="#f00" stroke-width="2" stroke-linejoin="round"/>
<path d="M153.35,184.11 L159.2,185.66 L165.06,187.3 L170.91,189.05 L176.77,190.9 L182.62,192.88 L188.48,195.01 L194.33,197.3 L200.19,199.79 L206.04,202.51 L210.73,204.88 L215.41,207.45 L218.92,209.54 L222.43,211.78 L225.95,214.21 L228.29,215.93 L230.63,217.77 L232.97,219.71 L235.31,221.79 L237.66,224.01 L240,226.41 L242.34,229.01 L243.51,230.39 L244.68,231.83 L245.85,233.35 L247.02,234.94 L248.2,236.61 L249.37,238.38 L250.54,240.24 L251.71,242.23 L252.88,244.35 L254.05,246.61 L255.22,249.05 L256.39,251.69 L257.56,254.57 L258.73,257.72 L259.9,261.22 L261.08,265.15 L262.25,269.62 L263.42,274.81 L264.59,281 L265.76,288.65 L266.93,298.7 L268.1,313.35 L269.27,340.82 L270.44,376.45 L271.61,324.2 L272.78,305.1 L273.96,293.13 L275.13,284.39 L276.3,277.49 L277.47,271.78 L278.64,266.91 L279.81,262.66 L280.98,258.88 L282.15,255.47 L283.32,252.36 L284.49,249.49 L285.66,246.83 L286.84,244.35 L288.01,242 L289.18,239.78 L290.35,237.66 L292.69,233.67 L295.03,229.94 L298.54,224.64 L302.06,219.54 L305.57,214.47 L309.08,209.35 L312.6,204.11 L316.11,198.74 L319.62,193.27 L323.13,187.71 L326.65,182.1 L330.16,176.48 L333.67,170.86 L337.19,165.23 L340.7,159.56 L344.21,153.81 L347.72,147.92 L351.24,141.78 L353.58,137.5 L355.92,133.01 L358.26,128.28 L360.6,123.25 L361.78,120.6 L362.95,117.84 L364.12,114.97 L365.29,111.98 L366.46,108.84 L367.63,105.55 L368.8,102.1 L369.97,98.45 L371.14,94.6 L372.31,90.52 L373.48,86.19 L374.66,81.59 L375.83,76.69 L377,71.48 L378.17,65.95 L379.34,60.13 L380.51,54.07 L381.68,47.9 L382.85,41.91 L384.02,36.54 L385.19,32.42 L386.36,30.29 L387.54,30.65 L388.71,33.5 L389.88,38.34 L391.05,44.43 L392.22,51.15 L393.39,58.03 L394.56,64.81 L395.73,71.36 L396.9,77.61 L398.07,83.54 L399.24,89.16 L400.42,94.48 L401.59,99.54 L402.76,104.35 L403.93,108.93 L405.1,113.3 L406.27,117.49 L407.44,121.52 L409.78,129.14 L412.12,136.28 L414.47,143.04 L416.81,149.5 L419.15,155.74 L421.49,161.81 L423.83,167.78 L426.18,173.69 L428.52,179.59 L430.86,185.5 L433.2,191.46 L435.54,197.47 L437.89,203.51 L440.23,209.5 L442.57,215.3 L443.74,218.07 L444.91,220.69 L446.08,223.13 L447.25,225.34 L448.42,227.27 L449.59,228.9 L450.77,230.19 L451.94,231.14 L453.11,231.77 L454.28,232.1 L455.45,232.17 L456.62,232.02 L457.79,231.7 L458.96,231.24 L460.13,230.68 L461.3,230.04 L463.65,228.6 L469.5,224.65 L475.36,220.55 L481.21,216.49 L487.06,212.53 L492.92,208.77 L498.77,205.25 L504.63,201.99 L510.48,198.99 L516.34,196.23 L522.19,193.7 L528.05,191.36 L533.9,189.2 L539.76,187.2 L545.61,185.33 L551.47,183.59 L557.32,181.96 L563.17,180.42 L569.03,178.97 L574.88,177.6 L581.91,176.04 L588.93,174.57 L595.96,173.18 L602.99,171.86 L610.01,170.61 L617.04,169.41 L620.55,168.84" stroke="#00f" stroke-width="2.05" stroke-dasharray="6.45 2.55" stroke-linejoin="round"/>
<g stroke="#f00" stroke-width="1.8"><circle cx="153.35" cy="168.84" r="4.2"/><circle cx="165.06" cy="170.81" r="4.2"/><circle cx="176.77" cy="172.96" r="4.2"/><circle cx="188.48" cy="175.29" r="4.2"/><circle cx="200.19" cy="177.86" r="4.2"/><circle cx="211.9" cy="180.72" r="4.2"/><circle cx="223.61" cy="183.93" r="4.2"/><circle cx="235.31" cy="187.59" r="4.2"/><circle cx="247.02" cy="191.81" r="4.2"/><circle cx="258.73" cy="196.76" r="4.2"/><circle cx="270.44" cy="202.62" r="4.2"/><circle cx="282.15" cy="209.5" r="4.2"/><circle cx="293.86" cy="217.29" r="4.2"/><circle cx="305.57" cy="225.46" r="4.2"/><circle cx="317.28" cy="232.02" r="4.2"/><circle cx="328.99" cy="220.69" r="4.2"/><circle cx="340.7" cy="191.46" r="4.2"/><circle cx="352.41" cy="161.81" r="4.2"/><circle cx="364.12" cy="129.14" r="4.2"/><circle cx="375.83" cy="83.54" r="4.2"/><circle cx="387.54" cy="31.38" r="4.2"/><circle cx="399.24" cy="81.59" r="4.2"/><circle cx="410.95" cy="117.84" r="4.2"/><circle cx="422.66" cy="141.78" r="4.2"/><circle cx="434.37" cy="161.46" r="4.2"/><circle cx="446.08" cy="180.23" r="4.2"/><circle cx="457.79" cy="198.74" r="4.2"/><circle cx="469.5" cy="216.16" r="4.2"/><circle cx="481.21" cy="233.67" r="4.2"/><circle cx="492.92" cy="258.88" r="4.2"/><circle cx="504.63" cy="327.08" r="4.2"/><circle cx="516.34" cy="254.57" r="4.2"/><circle cx="528.05" cy="233.35" r="4.2"/><circle cx="539.76" cy="220.73" r="4.2"/><circle cx="551.47" cy="211.78" r="4.2"/><circle cx="563.17" cy="204.88" r="4.2"/><circle cx="574.88" cy="199.27" r="4.2"/><circle cx="586.59" cy="194.57" r="4.2"/><circle cx="598.3" cy="190.52" r="4.2"/><circle cx="610.01" cy="186.97" r="4.2"/></g>
<path d="M153.35,179.66 L148.9,188.56 L157.8,188.56 Z M165.06,182.85 L160.61,191.75 L169.51,191.75 Z M176.77,186.45 L172.32,195.35 L181.22,195.35 Z M188.48,190.56 L184.03,199.46 L192.93,199.46 Z M200.19,195.34 L195.74,204.24 L204.64,204.24 Z M211.9,201.05 L207.45,209.95 L216.35,209.95 Z M223.61,208.12 L219.16,217.02 L228.06,217.02 Z M235.31,217.34 L230.86,226.24 L239.76,226.24 Z M247.02,230.49 L242.57,239.39 L251.47,239.39 Z M258.73,253.27 L254.28,262.17 L263.18,262.17 Z M270.44,331.6 L265.99,340.5 L274.89,340.5 Z M282.15,251.02 L277.7,259.92 L286.6,259.92 Z M293.86,227.33 L289.41,236.23 L298.31,236.23 Z M305.57,210.02 L301.12,218.92 L310.02,218.92 Z M317.28,192.48 L312.83,201.38 L321.73,201.38 Z M328.99,173.91 L324.54,182.81 L333.44,182.81 Z M340.7,155.11 L336.25,164.01 L345.15,164.01 Z M352.41,135.21 L347.96,144.11 L356.86,144.11 Z M364.12,110.52 L359.67,119.42 L368.57,119.42 Z M375.83,72.24 L371.38,81.14 L380.28,81.14 Z M387.54,26.93 L383.09,35.83 L391.99,35.83 Z M399.24,84.71 L394.79,93.61 L403.69,93.61 Z M410.95,128.31 L406.5,137.21 L415.4,137.21 Z M422.66,160.36 L418.21,169.26 L427.11,169.26 Z M434.37,190.01 L429.92,198.91 L438.82,198.91 Z M446.08,218.68 L441.63,227.58 L450.53,227.58 Z M457.79,227.25 L453.34,236.15 L462.24,236.15 Z M469.5,220.2 L465.05,229.1 L473.95,229.1 Z M481.21,212.04 L476.76,220.94 L485.66,220.94 Z M492.92,204.32 L488.47,213.22 L497.37,213.22 Z M504.63,197.54 L500.18,206.44 L509.08,206.44 Z M516.34,191.78 L511.89,200.68 L520.79,200.68 Z M528.05,186.91 L523.6,195.81 L532.5,195.81 Z M539.76,182.75 L535.31,191.65 L544.21,191.65 Z M551.47,179.14 L547.02,188.04 L555.92,188.04 Z M563.17,175.97 L558.72,184.87 L567.62,184.87 Z M574.88,173.15 L570.43,182.05 L579.33,182.05 Z M586.59,170.6 L582.14,179.5 L591.04,179.5 Z M598.3,168.28 L593.85,177.18 L602.75,177.18 Z M610.01,166.16 L605.56,175.06 L614.46,175.06 Z" stroke="#00f" stroke-width="1.8" stroke-linejoin="miter"/>
</g>
<rect x="143.8" y="13" width="486.1" height="380.6" fill="none" stroke="#262626" stroke-width="1.6"/>
<path d="M143.8,59.21 h8.6 M143.8,133.93 h8.6 M143.8,208.65 h8.6 M143.8,283.37 h8.6 M143.8,358.09 h8.6 M153.35,393.6 v-8.6 M270.15,393.6 v-8.6 M386.95,393.6 v-8.6 M503.75,393.6 v-8.6 M620.55,393.6 v-8.6" stroke="#000" stroke-width="3.4" fill="none"/>
<text transform="translate(114.5,70.01) scale(1,.955)" font-size="31">4</text>
<text transform="translate(114.5,144.73) scale(1,.955)" font-size="31">2</text>
<text transform="translate(114.5,219.45) scale(1,.955)" font-size="31">0</text>
<path d="M93.4,284.07 H111.6" stroke="#000" stroke-width="1.25"/>
<text transform="translate(114.5,291.97) scale(1,.955)" font-size="31">2</text>
<path d="M93.4,358.79 H111.6" stroke="#000" stroke-width="1.25"/>
<text transform="translate(114.5,366.69) scale(1,.955)" font-size="31">4</text>
<path d="M136,418.5 H154.2" stroke="#000" stroke-width="1.25"/>
<text transform="translate(157.1,426.4) scale(1,.955)" font-size="31">2</text>
<path d="M252.8,418.5 H271" stroke="#000" stroke-width="1.25"/>
<text transform="translate(273.9,426.4) scale(1,.955)" font-size="31">1</text>
<text transform="translate(379.2,429) scale(1,.955)" font-size="31">0</text>
<text transform="translate(496,429) scale(1,.955)" font-size="31">1</text>
<text transform="translate(612.8,429) scale(1,.955)" font-size="31">2</text>
<text x="358.5" y="465.6" font-size="32.6">Δ</text>
<path d="M382.3,473.8 L394.3,441.5" stroke="#000" stroke-width="1.35"/>
<g transform="translate(0,0)"><path d="M404.75,449.9 L401.55,466.1" stroke="#000" stroke-width="2.7" fill="none"/><path d="M399.8,451.7 L405.9,449.5" stroke="#000" stroke-width="1" fill="none"/><path d="M403.9,457.6 Q408.5,453.6 413.6,450.6" stroke="#000" stroke-width="1.15" fill="none"/><circle cx="415.4" cy="451.4" r="2.05"/><path d="M403.9,457.3 L407.2,455.9 L413.3,465.3 L415.3,465.5 L415.3,466.3 L407.2,466.3 L407.2,465.6 L409,465.4 Z"/></g>
<text x="358.8" y="970.8" font-size="32.6">Δ</text>
<path d="M382.6,979 L394.6,946.7" stroke="#000" stroke-width="1.35"/>
<g transform="translate(0.3,505.2)"><path d="M404.75,449.9 L401.55,466.1" stroke="#000" stroke-width="2.7" fill="none"/><path d="M399.8,451.7 L405.9,449.5" stroke="#000" stroke-width="1" fill="none"/><path d="M403.9,457.6 Q408.5,453.6 413.6,450.6" stroke="#000" stroke-width="1.15" fill="none"/><circle cx="415.4" cy="451.4" r="2.05"/><path d="M403.9,457.3 L407.2,455.9 L413.3,465.3 L415.3,465.5 L415.3,466.3 L407.2,466.3 L407.2,465.6 L409,465.4 Z"/></g>
<text x="182" y="355.6" font-size="33.6">a</text>
<path d="M179.06,330.79 Q164.74,347.11 179.06,363.43 Q169.4,347.11 179.06,330.79 Z" fill="#000" stroke="#000" stroke-width="0.5"/>
<path d="M199.4,330.79 Q213.72,347.11 199.4,363.43 Q209.06,347.11 199.4,330.79 Z" fill="#000" stroke="#000" stroke-width="0.5"/>
<text x="181.4" y="860.1" font-size="33.6">b</text>
<path d="M179.06,835.29 Q164.74,851.61 179.06,867.93 Q169.4,851.61 179.06,835.29 Z" fill="#000" stroke="#000" stroke-width="0.5"/>
<path d="M201.3,835.29 Q215.62,851.61 201.3,867.93 Q210.96,851.61 201.3,835.29 Z" fill="#000" stroke="#000" stroke-width="0.5"/>
<g transform="translate(68.4,301) rotate(-90)">
<text x="-2" y="0" font-size="32.6">l</text>
<text x="7.5" y="0" font-size="32.6">o</text>
<text x="24.6" y="0" font-size="32.6">g</text>
<text x="41.2" y="4.4" font-size="22.8">1</text>
<text x="53.6" y="4.4" font-size="22.8">0</text>
<path d="M76.67,-24.12 H73.25 V7.82 H76.67" fill="none" stroke="#000" stroke-width="1.3"/>
<text x="76.5" y="0" font-size="32.6">g</text>
<path d="M101.63,-30.13 Q91.57,-18.67 101.63,-7.2 Q94.84,-18.67 101.63,-30.13 Z" fill="#000" stroke="#000" stroke-width="0.5"/>
<path d="M117.6,-30.13 Q127.66,-18.67 117.6,-7.2 Q124.39,-18.67 117.6,-30.13 Z" fill="#000" stroke="#000" stroke-width="0.5"/>
<text x="104.3" y="-12.7" font-size="24.2">2</text>
<path d="M138.75,-24.77 Q124.45,-8.48 138.75,7.81 Q129.11,-8.48 138.75,-24.77 Z" fill="#000" stroke="#000" stroke-width="0.5"/>
<path d="M159.5,-24.77 Q173.8,-8.48 159.5,7.81 Q169.14,-8.48 159.5,-24.77 Z" fill="#000" stroke="#000" stroke-width="0.5"/>
<text x="139.3" y="0" font-size="34.88">0</text>
<path d="M171,-24.12 H174.42 V7.82 H171" fill="none" stroke="#000" stroke-width="1.3"/>
</g>
<rect x="447.5" y="22" width="173.5" height="138" rx="3.5" fill="#fff" fill-opacity="0.8" stroke="#ccc" stroke-width="1.3"/>
<text x="507" y="46.5" font-size="20.7" textLength="12.6" lengthAdjust="spacingAndGlyphs">Λ</text>
<text x="519.6" y="49.2" font-size="13.2" font-style="italic">c</text>
<text x="519.9" y="38.5" font-size="13.2" font-style="italic" letter-spacing="0.75">opt</text>
<text x="540.5" y="46.5" font-size="17.5">,</text>
<text x="546.9" y="46.5" font-size="20.7" font-style="italic">ϕ</text>
<text x="558.1" y="38.5" font-size="13.2" font-style="italic" letter-spacing="0.75">opt</text>
<text x="557.5" y="50.8" font-size="13.2" font-style="italic" letter-spacing="0.4">c,</text>
<path d="M568.3,47.5 h8.6 M572.6,43.2 v8.6" stroke="#000" stroke-width="0.95" fill="none"/>
<path d="M591.53,30.96 Q582.27,41.51 591.53,52.06 Q585.29,41.51 591.53,30.96 Z" fill="#000" stroke="#000" stroke-width="0.5"/>
<path d="M607.3,30.96 Q616.56,41.51 607.3,52.06 Q613.54,41.51 607.3,30.96 Z" fill="#000" stroke="#000" stroke-width="0.5"/>
<text x="591" y="46.5" font-size="20.7">A</text>
<text x="507" y="79.7" font-size="20.7" textLength="12.6" lengthAdjust="spacingAndGlyphs">Λ</text>
<text x="519.6" y="82.4" font-size="13.2" font-style="italic">c</text>
<text x="519.9" y="71.7" font-size="13.2" font-style="italic" letter-spacing="0.75">opt</text>
<text x="540.5" y="79.7" font-size="17.5">,</text>
<text x="546.9" y="79.7" font-size="20.7" font-style="italic">ϕ</text>
<text x="558.1" y="71.7" font-size="13.2" font-style="italic" letter-spacing="0.75">opt</text>
<text x="557.5" y="84" font-size="13.2" font-style="italic" letter-spacing="0.4">c,</text>
<path d="M568.3,80.7 h8.6" stroke="#000" stroke-width="0.95" fill="none"/>
<path d="M591.53,64.16 Q582.27,74.71 591.53,85.26 Q585.29,74.71 591.53,64.16 Z" fill="#000" stroke="#000" stroke-width="0.5"/>
<path d="M607.3,64.16 Q616.56,74.71 607.3,85.26 Q613.54,74.71 607.3,64.16 Z" fill="#000" stroke="#000" stroke-width="0.5"/>
<text x="591" y="79.7" font-size="20.7">A</text>
<text x="507" y="112.9" font-size="20.7" textLength="12.6" lengthAdjust="spacingAndGlyphs">Λ</text>
<text x="519.6" y="115.6" font-size="13.2" font-style="italic">c</text>
<text x="519.9" y="104.9" font-size="13.2" font-style="italic" letter-spacing="0.75">opt</text>
<text x="540.5" y="112.9" font-size="17.5">,</text>
<text x="546.9" y="112.9" font-size="20.7" font-style="italic">ϕ</text>
<text x="558.1" y="104.9" font-size="13.2" font-style="italic" letter-spacing="0.75">opt</text>
<text x="557.5" y="117.2" font-size="13.2" font-style="italic" letter-spacing="0.4">c,</text>
<path d="M568.3,113.9 h8.6 M572.6,109.6 v8.6" stroke="#000" stroke-width="0.95" fill="none"/>
<path d="M591.53,97.36 Q582.27,107.91 591.53,118.46 Q585.29,107.91 591.53,97.36 Z" fill="#000" stroke="#000" stroke-width="0.5"/>
<path d="M607.3,97.36 Q616.56,107.91 607.3,118.46 Q613.54,107.91 607.3,97.36 Z" fill="#000" stroke="#000" stroke-width="0.5"/>
<text x="591" y="112.9" font-size="20.7">N</text>
<text x="507" y="146.1" font-size="20.7" textLength="12.6" lengthAdjust="spacingAndGlyphs">Λ</text>
<text x="519.6" y="148.8" font-size="13.2" font-style="italic">c</text>
<text x="519.9" y="138.1" font-size="13.2" font-style="italic" letter-spacing="0.75">opt</text>
<text x="540.5" y="146.1" font-size="17.5">,</text>
<text x="546.9" y="146.1" font-size="20.7" font-style="italic">ϕ</text>
<text x="558.1" y="138.1" font-size="13.2" font-style="italic" letter-spacing="0.75">opt</text>
<text x="557.5" y="150.4" font-size="13.2" font-style="italic" letter-spacing="0.4">c,</text>
<path d="M568.3,147.1 h8.6" stroke="#000" stroke-width="0.95" fill="none"/>
<path d="M591.53,130.56 Q582.27,141.11 591.53,151.66 Q585.29,141.11 591.53,130.56 Z" fill="#000" stroke="#000" stroke-width="0.5"/>
<path d="M607.3,130.56 Q616.56,141.11 607.3,151.66 Q613.54,141.11 607.3,130.56 Z" fill="#000" stroke="#000" stroke-width="0.5"/>
<text x="591" y="146.1" font-size="20.7">N</text>
<path d="M454,39.9 H493" stroke="#f00" stroke-width="2"/>
<path d="M454.6,73 H492.7" stroke="#00f" stroke-width="2.05" stroke-dasharray="6.45 2.55"/>
<circle cx="473.5" cy="106.2" r="4.2" fill="none" stroke="#f00" stroke-width="1.8"/>
<path d="M473.5,134.95 L469.05,143.85 L477.95,143.85 Z" fill="none" stroke="#00f" stroke-width="1.8"/>
<rect x="662" y="516.4" width="19" height="380.8" fill="url(#cbg)"/>
<path d="M144,517 h6.2 M144,897.25 v-6.2 M144,612.06 h6.2 M265.4,897.25 v-6.2 M144,707.12 h6.2 M386.8,897.25 v-6.2 M144,802.19 h6.2 M508.2,897.25 v-6.2 M144,897.25 h6.2 M629.6,897.25 v-6.2 M681,552.7 h-6.2 M681,646.1 h-6.2 M681,739.5 h-6.2 M681,832.9 h-6.2" stroke="#111" stroke-width="1.75" fill="none"/>
<text transform="translate(75.75,527.8) scale(1,.955)" font-size="31">0.00</text>
<path d="M54.65,612.96 H72.85" stroke="#000" stroke-width="1.25"/>
<text transform="translate(75.75,620.86) scale(1,.955)" font-size="31">0.25</text>
<path d="M54.65,708.02 H72.85" stroke="#000" stroke-width="1.25"/>
<text transform="translate(75.75,715.92) scale(1,.955)" font-size="31">0.50</text>
<path d="M54.65,803.08 H72.85" stroke="#000" stroke-width="1.25"/>
<text transform="translate(75.75,810.99) scale(1,.955)" font-size="31">0.75</text>
<path d="M54.65,898.14 H72.85" stroke="#000" stroke-width="1.25"/>
<text transform="translate(75.75,906.05) scale(1,.955)" font-size="31">1.00</text>
<path d="M126.65,922.2 H144.85" stroke="#000" stroke-width="1.25"/>
<text transform="translate(147.75,930.1) scale(1,.955)" font-size="31">2</text>
<path d="M248.05,922.2 H266.25" stroke="#000" stroke-width="1.25"/>
<text transform="translate(269.15,930.1) scale(1,.955)" font-size="31">1</text>
<text transform="translate(379.05,932.1) scale(1,.955)" font-size="31">0</text>
<text transform="translate(500.45,932.1) scale(1,.955)" font-size="31">1</text>
<text transform="translate(621.85,932.1) scale(1,.955)" font-size="31">2</text>
<text transform="translate(694.3,564.1) scale(1,.955)" font-size="31">4</text>
<text transform="translate(694.3,657.5) scale(1,.955)" font-size="31">2</text>
<text transform="translate(694.3,750.9) scale(1,.955)" font-size="31">0</text>
<path d="M696.2,833.79 H714.4" stroke="#000" stroke-width="1.25"/>
<text transform="translate(717.3,841.7) scale(1,.955)" font-size="31">2</text>
<g transform="translate(29.3,742) rotate(-90)">
<text x="-0.8" y="0" font-size="33" font-style="italic">ϕ</text>
<path d="M21.9,7.1 L34,-24.8" stroke="#000" stroke-width="1.35"/>
<text x="38.7" y="0" font-size="35" font-style="italic">π</text>
</g>
<text x="607.9" y="506.2" font-size="21.8">l</text>
<text x="613.4" y="506.2" font-size="21.8">o</text>
<text x="624.7" y="506.2" font-size="21.8">g</text>
<text x="636.7" y="510" font-size="16.4">1</text>
<text x="645.5" y="510" font-size="16.4">0</text>
<path d="M661.62,490.07 H659.35 V511.43 H661.62" fill="none" stroke="#000" stroke-width="0.9"/>
<text x="662.8" y="506.2" font-size="21.8">g</text>
<path d="M680,487.23 Q673.2,494.97 680,502.71 Q675.41,494.97 680,487.23 Z" fill="#000" stroke="#000" stroke-width="0.5"/>
<path d="M691,487.23 Q697.79,494.97 691,502.71 Q695.58,494.97 691,487.23 Z" fill="#000" stroke="#000" stroke-width="0.5"/>
<text x="681.5" y="499" font-size="16.4">2</text>
<path d="M705.48,489.63 Q695.92,500.53 705.48,511.43 Q699.03,500.53 705.48,489.63 Z" fill="#000" stroke="#000" stroke-width="0.5"/>
<path d="M721.1,489.63 Q730.66,500.53 721.1,511.43 Q727.55,500.53 721.1,489.63 Z" fill="#000" stroke="#000" stroke-width="0.5"/>
<text x="707.4" y="506.2" font-size="23.11">0</text>
<path d="M728.2,490.07 H730.48 V511.43 H728.2" fill="none" stroke="#000" stroke-width="0.9"/>
</svg>
</div></body></html>
